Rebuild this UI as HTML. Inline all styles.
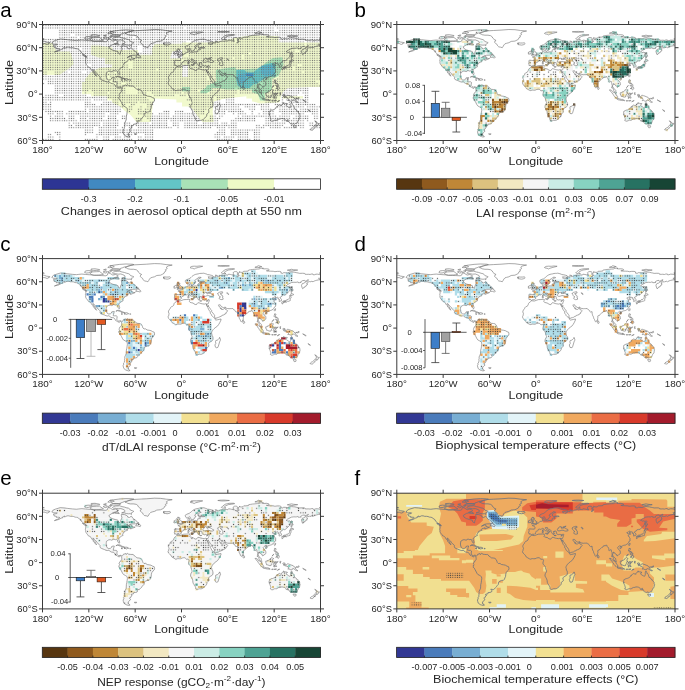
<!DOCTYPE html><html><head><meta charset="utf-8"><style>html,body{margin:0;padding:0;background:#fff;}svg{display:block;font-family:"Liberation Sans",sans-serif;will-change:transform;}</style></head><body><svg width="685" height="690" viewBox="0 0 685 690" font-family="Liberation Sans, sans-serif"><defs><path id="coast" d="M9.3,18.9 L10.8,16.8 L13.1,15.9 L17.8,14.5 L21.6,14.8 L24.7,15.2 L30.1,15.8 L34.0,16.1 L36.3,15.8 L39.4,15.5 L43.2,15.9 L48.6,16.3 L51.7,16.8 L55.6,16.9 L58.7,17.0 L63.3,17.2 L64.9,16.5 L65.6,14.1 L68.0,15.1 L70.3,16.5 L73.0,15.9 L75.7,17.2 L74.9,18.4 L72.6,19.6 L69.5,20.3 L66.4,22.3 L67.2,24.1 L69.5,25.4 L72.6,26.4 L75.4,27.0 L75.7,28.6 L77.6,29.8 L78.1,27.5 L79.5,24.7 L78.9,22.6 L78.8,21.3 L81.9,21.4 L83.4,22.0 L84.9,22.8 L85.3,24.0 L86.9,24.4 L88.8,23.0 L89.6,24.0 L91.5,26.3 L92.7,26.9 L95.0,28.8 L95.8,29.6 L93.1,30.7 L89.6,30.8 L87.6,31.3 L84.6,33.1 L88.0,31.7 L89.2,32.1 L89.0,33.3 L91.5,34.0 L92.7,34.0 L90.0,35.1 L88.0,35.9 L88.2,34.6 L86.9,35.1 L84.9,35.8 L84.3,36.7 L84.9,37.3 L83.8,37.6 L81.9,38.2 L81.9,39.1 L80.9,39.5 L80.5,40.6 L80.1,41.3 L80.6,42.3 L79.2,42.9 L78.0,43.8 L76.5,45.0 L76.3,46.2 L76.8,47.7 L77.2,49.1 L76.9,50.1 L76.3,50.0 L75.7,49.1 L75.1,47.9 L75.1,47.0 L74.1,46.3 L73.0,46.6 L71.4,46.1 L70.3,46.2 L69.9,47.0 L69.1,47.1 L68.0,46.7 L66.4,46.7 L65.3,47.3 L63.9,48.3 L63.7,49.8 L63.6,51.0 L63.9,53.0 L64.6,54.6 L65.6,55.3 L66.4,55.5 L68.0,55.2 L69.0,54.5 L69.2,53.4 L70.7,53.0 L71.8,53.0 L71.4,54.3 L71.0,55.7 L70.7,57.2 L71.8,57.3 L73.7,57.3 L74.7,58.0 L74.4,59.9 L74.4,61.1 L75.3,62.1 L76.3,62.8 L77.5,62.2 L78.8,62.4 L79.3,62.9 L79.9,62.7 L80.6,62.2 L80.9,61.2 L82.2,60.9 L83.2,60.4 L83.7,61.1 L83.5,61.6 L84.0,61.2 L84.9,60.2 L86.1,61.2 L87.9,61.4 L89.4,61.5 L90.5,61.4 L91.3,61.9 L92.0,63.0 L93.3,63.8 L94.5,64.8 L96.5,65.0 L98.1,65.3 L99.2,66.4 L100.0,68.1 L100.4,69.4 L101.5,70.5 L103.1,70.4 L104.6,71.5 L106.7,71.8 L108.5,72.2 L110.2,73.2 L111.7,73.7 L112.1,75.4 L111.8,76.8 L110.4,78.1 L109.3,79.6 L108.9,81.2 L108.7,83.4 L108.1,84.8 L107.4,86.5 L106.6,87.3 L104.6,87.5 L103.1,88.2 L101.7,89.3 L101.5,91.4 L100.5,92.4 L99.6,93.7 L98.6,94.7 L97.8,95.7 L96.6,96.6 L95.4,96.5 L93.9,96.2 L94.8,97.4 L95.2,98.0 L94.5,99.1 L93.1,99.5 L91.1,99.7 L91.0,100.9 L89.0,101.2 L88.7,102.1 L89.7,102.5 L88.7,103.1 L88.4,104.4 L86.9,105.3 L88.0,106.3 L88.1,106.8 L86.6,107.9 L86.1,108.7 L85.6,109.5 L86.2,110.0 L85.3,110.2 L86.0,110.4 L86.3,111.4 L87.6,112.1 L86.1,112.5 L84.6,112.1 L83.4,111.7 L82.2,110.8 L81.4,110.2 L80.9,108.7 L80.6,107.1 L81.4,105.6 L80.9,104.8 L82.2,103.6 L81.9,102.9 L82.2,101.9 L82.0,100.9 L82.4,99.8 L82.2,98.6 L82.9,97.1 L83.7,95.3 L83.8,93.2 L83.9,91.6 L84.4,89.7 L84.6,87.8 L84.9,85.8 L84.7,83.8 L83.9,83.2 L82.9,82.5 L80.9,81.4 L80.1,80.3 L79.0,78.1 L78.1,76.5 L77.5,75.2 L76.3,74.2 L76.5,73.5 L76.2,72.8 L77.1,72.2 L77.2,71.5 L76.5,70.8 L76.9,69.8 L77.2,68.8 L78.1,68.4 L78.3,67.7 L79.2,66.7 L79.3,65.3 L79.1,64.2 L78.6,63.3 L78.0,62.6 L77.3,63.3 L76.8,64.0 L75.9,63.5 L74.9,63.1 L74.4,62.6 L73.1,62.0 L72.7,61.1 L72.0,60.0 L71.4,59.4 L70.3,59.2 L68.5,58.9 L67.3,58.0 L66.4,57.2 L64.9,57.5 L63.5,57.2 L62.2,56.6 L60.6,56.0 L59.1,55.4 L57.9,54.7 L57.5,53.7 L57.7,52.8 L57.3,52.1 L56.4,51.1 L55.4,50.3 L54.6,49.7 L54.4,48.9 L53.6,48.0 L52.7,47.3 L52.0,46.5 L51.4,45.5 L50.3,45.0 L50.6,46.0 L51.4,47.3 L52.3,48.3 L53.0,49.7 L53.6,50.8 L54.1,51.8 L53.8,51.5 L53.0,50.7 L52.4,50.3 L52.4,49.5 L51.5,49.0 L50.7,48.3 L50.8,47.3 L49.7,46.5 L48.8,45.1 L48.5,44.3 L47.6,43.5 L46.7,43.0 L45.9,42.8 L45.1,41.5 L44.4,40.6 L43.9,40.1 L43.5,39.4 L43.1,38.4 L43.2,37.1 L42.9,36.3 L43.2,35.0 L43.3,33.9 L43.2,33.0 L42.7,32.2 L43.6,32.3 L44.4,32.9 L44.2,31.9 L43.9,31.7 L42.9,31.1 L42.1,30.6 L40.8,30.2 L40.3,29.4 L39.7,28.6 L38.5,27.8 L38.4,26.8 L37.2,25.9 L36.1,25.2 L35.2,24.4 L34.0,24.1 L32.6,24.0 L31.2,23.4 L29.7,23.2 L27.9,23.2 L26.3,22.7 L24.6,22.7 L23.2,23.4 L21.9,23.8 L22.0,22.8 L21.1,23.3 L20.1,23.8 L20.5,24.4 L18.9,24.9 L17.6,25.6 L16.4,26.3 L14.9,26.7 L13.4,27.1 L11.9,27.5 L13.5,26.7 L15.1,26.1 L16.5,25.3 L17.4,24.5 L16.4,24.1 L15.1,24.1 L13.9,24.3 L14.1,23.4 L12.5,23.0 L11.4,22.6 L11.7,21.7 L10.8,21.3 L12.0,20.7 L14.3,20.4 L14.8,19.7 L13.1,19.6 L11.4,19.7 L10.5,19.6 L10.2,19.2 L9.3,18.9 M82.6,9.0 L86.5,7.3 L91.1,6.3 L96.5,6.0 L104.2,5.6 L112.0,5.0 L118.1,5.2 L123.6,6.0 L129.7,6.5 L125.9,7.3 L123.9,8.5 L124.7,10.1 L122.8,11.2 L123.6,12.4 L122.0,13.3 L121.6,14.7 L120.1,15.6 L118.1,16.6 L114.3,16.9 L112.0,18.2 L109.7,18.8 L108.1,19.3 L107.0,20.5 L106.2,22.0 L105.4,23.2 L103.9,22.7 L101.9,22.4 L100.8,21.3 L100.0,19.7 L98.8,18.9 L97.7,17.9 L98.1,16.6 L99.2,15.9 L97.3,15.1 L96.9,14.3 L95.8,13.5 L95.4,12.4 L93.8,11.2 L91.1,10.7 L88.0,10.7 L85.3,10.2 L84.2,9.5 L82.6,9.0 M121.6,18.3 L123.6,18.5 L125.5,18.5 L127.4,18.3 L128.2,19.0 L127.8,19.7 L126.3,20.3 L124.7,20.6 L122.8,20.3 L121.5,20.2 L122.0,19.6 L120.5,19.4 L121.8,19.0 L120.5,18.8 L121.6,18.3 M89.0,21.3 L87.6,20.5 L86.1,20.7 L83.8,20.4 L81.9,19.7 L79.2,19.8 L81.5,18.9 L82.6,18.2 L82.2,17.0 L80.3,16.1 L78.4,15.4 L75.7,15.6 L73.0,15.1 L71.0,15.1 L69.9,14.3 L71.0,13.5 L73.0,12.9 L76.8,12.6 L79.5,13.4 L81.9,13.9 L84.2,14.7 L86.1,15.1 L87.3,15.9 L88.0,17.0 L90.4,17.8 L91.3,18.2 L90.0,19.3 L88.8,19.7 L89.0,21.3 M47.5,14.7 L50.2,13.3 L54.1,13.1 L57.1,13.0 L58.3,13.9 L59.8,15.0 L61.0,15.6 L58.7,16.2 L56.4,16.4 L54.1,16.5 L51.4,16.6 L49.4,16.1 L47.9,15.5 L47.5,14.7 M42.1,13.9 L42.9,12.4 L45.6,12.0 L48.6,12.2 L49.8,12.8 L47.9,13.4 L46.3,14.2 L44.0,14.5 L42.1,13.9 M78.0,10.6 L75.7,10.4 L69.9,10.4 L69.5,9.3 L68.0,8.1 L67.6,7.3 L71.0,6.6 L77.2,5.8 L83.4,5.4 L89.6,5.6 L91.5,6.0 L88.8,6.6 L86.5,7.3 L84.2,7.9 L81.5,8.5 L80.3,9.1 L78.0,9.8 L78.0,10.6 M68.0,11.2 L71.0,10.4 L74.1,10.4 L77.2,10.6 L77.6,11.6 L75.7,11.9 L71.0,12.0 L68.0,11.8 L68.0,11.2 M65.3,8.9 L67.6,7.0 L70.3,7.1 L71.8,8.1 L69.5,8.7 L67.2,9.1 L65.3,8.9 M48.6,10.4 L52.5,10.2 L57.1,11.0 L57.1,11.6 L54.1,11.9 L51.0,11.9 L48.6,11.4 L48.6,10.4 M60.6,13.3 L63.3,12.5 L64.9,12.9 L64.1,14.2 L62.6,14.5 L60.6,13.3 M65.6,13.5 L66.8,12.3 L69.1,12.5 L68.0,13.3 L66.8,13.9 L65.6,13.5 M72.6,20.0 L76.8,20.5 L76.5,19.7 L74.1,18.6 L71.8,19.0 L72.6,20.0 M61.0,11.2 L63.7,10.4 L63.3,11.6 L61.0,11.2 M93.2,32.8 L94.5,30.6 L96.1,29.7 L96.1,31.0 L97.5,31.4 L98.3,32.8 L97.7,33.5 L96.3,33.1 L95.5,32.8 L93.2,32.8 M73.4,52.7 L74.9,51.9 L76.5,51.7 L77.8,52.2 L79.4,53.1 L80.5,53.5 L81.7,54.0 L80.7,54.2 L79.1,54.2 L79.3,53.7 L78.5,53.4 L77.7,52.9 L76.5,52.6 L75.1,52.1 L73.4,52.7 M81.5,54.2 L82.9,54.2 L84.3,54.2 L85.5,54.7 L86.2,55.2 L84.9,55.5 L83.9,55.9 L83.1,55.5 L81.5,55.4 L82.8,55.2 L81.5,54.2 M78.5,55.4 L80.1,55.5 L79.7,55.8 L78.5,55.4 M87.1,55.3 L88.3,55.4 L88.3,55.7 L87.1,55.7 M39.9,30.3 L42.1,30.7 L43.7,32.2 L42.6,32.0 L41.3,31.4 L39.9,30.3 M91.7,109.4 L94.2,109.3 L93.8,110.0 L92.3,109.9 L91.7,109.4 M134.4,41.9 L135.9,42.4 L137.5,42.5 L139.4,41.8 L141.3,41.1 L144.0,41.0 L146.3,40.8 L147.5,41.0 L147.1,41.8 L147.6,42.4 L146.9,43.1 L147.7,43.9 L149.0,44.2 L150.8,44.6 L151.4,45.4 L153.3,46.1 L154.2,45.9 L154.5,45.2 L155.4,44.2 L156.8,44.4 L158.3,45.0 L159.8,45.3 L161.8,45.6 L162.9,45.2 L163.9,45.4 L164.2,46.5 L164.7,47.7 L165.3,49.0 L166.0,50.7 L166.5,51.7 L167.4,52.6 L167.7,53.4 L167.9,54.9 L168.7,55.7 L169.3,57.2 L169.9,57.8 L170.8,58.4 L171.8,59.4 L172.4,60.2 L172.4,60.7 L173.4,61.6 L174.9,61.3 L176.8,60.9 L178.5,60.5 L178.5,61.5 L178.0,62.6 L177.2,64.3 L176.1,66.1 L174.9,67.7 L173.4,68.7 L171.6,70.2 L170.7,71.1 L169.9,72.3 L169.3,73.3 L169.0,74.5 L169.4,75.8 L169.5,77.3 L170.2,77.7 L170.4,79.3 L170.4,81.0 L169.9,82.1 L168.0,83.3 L166.8,84.2 L165.9,84.9 L166.2,86.2 L166.4,87.8 L165.3,88.8 L164.2,89.6 L164.4,90.4 L164.0,91.7 L163.2,92.5 L162.2,93.7 L160.9,94.8 L159.4,95.7 L158.3,95.9 L156.8,95.8 L155.6,96.2 L154.4,96.5 L153.5,96.1 L153.1,95.5 L153.1,94.6 L152.6,93.3 L151.7,91.7 L150.8,90.5 L150.4,89.3 L150.2,87.3 L149.7,85.9 L149.1,84.8 L148.1,83.1 L148.1,82.0 L148.4,80.7 L149.5,78.9 L149.6,77.9 L149.1,76.6 L148.5,74.3 L148.3,73.5 L147.6,72.6 L146.3,71.2 L146.0,70.1 L146.3,68.8 L146.6,67.3 L146.3,66.7 L145.6,66.0 L144.1,66.3 L143.2,65.5 L142.3,64.7 L141.1,64.7 L139.8,65.0 L138.2,65.7 L136.8,65.7 L135.4,65.6 L133.2,66.2 L132.4,65.7 L130.7,64.7 L129.3,63.9 L128.8,62.9 L128.1,61.9 L127.4,61.2 L126.9,60.7 L126.1,60.0 L125.7,58.7 L125.6,58.2 L126.1,57.4 L126.3,56.3 L126.6,55.3 L126.3,54.5 L125.9,53.4 L126.1,52.4 L126.7,51.3 L127.6,50.2 L127.9,49.3 L128.9,48.2 L130.0,47.8 L131.1,46.9 L131.4,45.9 L131.5,45.2 L132.3,44.1 L133.4,43.5 L134.1,42.7 L134.4,41.9 M177.1,78.9 L177.8,80.7 L178.0,81.7 L177.5,82.4 L177.1,83.5 L176.5,85.5 L175.8,87.9 L175.4,88.9 L174.1,89.3 L173.0,88.8 L172.7,87.7 L172.4,86.5 L173.3,85.1 L173.0,83.1 L173.3,82.1 L174.8,81.7 L175.8,80.9 L176.7,80.0 L177.1,78.9 M134.7,41.8 L134.1,41.1 L133.3,40.8 L132.1,41.0 L132.2,40.0 L131.7,39.6 L132.0,38.7 L132.2,37.2 L131.8,36.3 L132.8,35.8 L134.4,35.9 L135.9,36.0 L137.6,36.0 L138.0,35.2 L138.1,34.0 L137.3,33.2 L136.7,32.9 L135.4,32.5 L136.7,31.9 L137.8,32.0 L138.0,31.2 L139.2,31.3 L140.1,30.9 L140.2,30.2 L140.9,30.1 L141.7,29.8 L142.1,29.5 L142.6,28.7 L143.3,28.3 L144.4,28.2 L145.4,28.1 L145.7,27.8 L145.6,26.7 L145.3,25.8 L145.6,25.4 L146.7,25.1 L147.1,25.4 L147.0,25.9 L147.5,26.1 L147.1,26.7 L146.7,27.1 L147.3,27.6 L148.3,27.7 L149.4,27.6 L150.0,27.9 L151.0,27.7 L152.1,27.4 L153.4,27.3 L154.2,27.5 L155.4,26.9 L155.3,26.2 L155.3,25.7 L155.7,25.2 L156.5,24.9 L157.1,25.4 L157.7,25.4 L157.8,24.5 L157.1,24.2 L157.2,23.7 L158.7,23.5 L160.6,23.6 L162.3,23.3 L161.2,22.8 L160.2,22.8 L158.7,23.0 L156.8,23.3 L155.5,22.7 L155.6,21.8 L155.4,20.9 L156.3,20.3 L157.9,19.4 L158.6,19.3 L158.6,18.9 L157.6,18.7 L156.1,18.7 L155.4,19.6 L154.3,20.3 L153.1,21.0 L152.4,21.9 L152.3,22.7 L153.4,23.1 L153.4,23.7 L152.7,24.1 L151.9,24.7 L151.7,25.5 L151.3,26.2 L150.4,26.1 L149.9,26.8 L149.0,26.8 L148.7,26.1 L148.2,25.1 L147.9,24.4 L147.6,23.7 L147.0,23.6 L146.2,24.1 L145.2,24.7 L144.1,24.7 L143.3,24.1 L142.9,23.1 L142.8,22.2 L143.1,21.7 L144.0,21.3 L145.4,20.6 L146.6,20.3 L147.6,19.6 L148.5,18.9 L149.3,18.1 L150.2,17.3 L151.0,16.8 L151.8,16.3 L153.1,15.8 L154.5,15.5 L155.7,15.3 L157.1,14.9 L158.5,14.8 L159.7,14.8 L160.8,14.6 L162.2,14.9 L163.1,15.2 L164.3,15.6 L164.9,16.0 L166.8,16.2 L168.7,16.7 L170.2,17.1 L170.7,17.6 L170.7,18.2 L169.7,18.6 L168.3,18.5 L166.6,18.3 L165.5,18.3 L166.0,18.9 L165.9,19.7 L167.2,19.6 L167.9,20.3 L169.5,19.7 L170.2,19.5 L169.9,18.9 L171.4,18.3 L173.1,18.6 L173.3,17.2 L172.7,16.5 L174.7,16.9 L174.9,17.3 L174.2,17.6 L175.1,17.9 L176.5,17.6 L177.6,17.0 L180.5,16.4 L181.2,16.8 L182.6,16.5 L184.2,16.3 L185.3,16.6 L186.0,15.6 L188.0,15.9 L189.2,16.2 L191.0,16.6 L191.9,16.6 L190.6,15.9 L190.9,14.8 L190.5,14.2 L191.9,13.1 L193.0,13.0 L194.4,13.2 L195.1,13.8 L195.2,14.5 L194.8,15.2 L195.0,16.2 L195.8,16.7 L195.5,17.4 L194.2,18.1 L195.1,18.3 L196.1,17.7 L196.7,16.6 L195.9,16.1 L195.8,14.5 L196.9,13.9 L197.1,13.3 L196.6,13.2 L197.7,13.6 L199.2,13.8 L200.4,13.6 L201.2,12.7 L203.1,12.7 L205.8,12.5 L205.9,11.8 L206.3,11.5 L208.1,11.2 L210.0,10.9 L212.4,10.7 L214.7,10.5 L216.6,10.4 L217.8,9.8 L219.5,9.5 L220.9,9.7 L219.9,10.0 L221.6,10.3 L223.9,10.2 L225.9,10.5 L226.6,10.9 L226.3,11.8 L225.1,12.1 L223.9,12.2 L225.7,12.5 L228.3,12.6 L230.7,12.7 L232.4,13.1 L234.8,12.8 L237.1,12.8 L238.3,13.1 L238.6,13.8 L238.2,14.4 L240.2,14.8 L241.2,14.1 L243.0,14.2 L245.2,14.4 L247.1,13.5 L249.0,13.4 L251.1,13.6 L252.4,13.7 L254.4,14.2 L255.6,14.4 L257.1,14.8 L259.9,14.7 L261.8,14.8 L262.6,15.2 L262.6,15.7 L264.3,15.8 L265.7,15.7 L267.6,15.9 L268.7,15.5 L270.4,15.4 L270.7,16.2 L271.8,16.2 L273.5,15.6 L275.1,15.6 L276.6,15.9 L278.0,16.3 M278.0,19.3 L277.0,19.7 L276.0,19.6 L276.7,20.3 L277.4,21.3 L276.0,21.3 L273.8,21.8 L273.1,22.0 L272.0,22.4 L270.8,23.0 L270.5,23.3 L269.4,22.7 L267.4,23.4 L267.0,23.0 L266.3,23.4 L265.3,23.3 L265.0,23.8 L264.1,24.6 L264.2,24.9 L265.0,25.1 L264.9,26.1 L264.2,26.2 L263.9,26.8 L264.2,27.1 L262.9,27.6 L262.6,28.5 L261.4,28.7 L261.2,29.5 L260.1,30.2 L259.8,29.6 L259.4,28.5 L259.0,26.8 L259.4,25.7 L260.1,25.2 L260.1,24.9 L261.3,24.7 L262.7,23.7 L264.0,23.0 L265.4,22.3 L266.0,21.2 L265.1,21.3 L264.1,22.0 L262.6,22.8 L262.0,21.8 L260.0,22.1 L258.1,23.4 L258.7,23.9 L257.0,24.1 L255.8,24.1 L255.8,23.6 L254.7,23.4 L253.7,23.8 L251.4,23.7 L248.8,24.0 L246.3,25.4 L244.9,26.1 L243.6,27.3 L244.6,27.4 L244.9,27.8 L245.7,28.0 L247.0,27.7 L248.1,28.5 L248.2,29.2 L247.6,30.0 L247.5,30.9 L247.2,32.2 L246.0,33.3 L245.7,33.8 L244.7,34.7 L243.6,35.6 L243.2,36.0 L242.1,36.5 L241.6,36.5 L241.2,36.1 L240.0,37.0 L240.0,37.0 L239.2,37.4 L239.2,38.0 L238.8,38.1 L238.3,38.5 L237.5,38.8 L237.4,39.3 L238.1,39.7 L238.8,40.7 L239.0,41.1 L239.0,42.1 L238.6,42.5 L237.8,42.5 L236.7,43.0 L236.6,42.6 L236.8,41.8 L236.4,41.2 L237.0,41.1 L236.5,40.4 L236.1,40.3 L235.5,40.4 L235.3,40.1 L235.7,39.7 L235.6,39.0 L235.0,38.7 L233.9,39.0 L233.3,39.3 L232.4,39.5 L232.9,39.1 L232.7,38.8 L233.4,38.4 L232.9,38.0 L232.3,38.2 L231.4,38.7 L230.9,39.2 L230.1,39.3 L229.7,39.7 L230.2,40.1 L230.8,40.3 L230.8,40.7 L231.4,40.8 L232.3,40.3 L233.0,40.6 L233.5,40.6 L233.6,41.1 L232.5,41.2 L232.1,41.7 L231.4,42.1 L231.0,42.6 L231.8,43.0 L232.1,43.8 L232.6,44.5 L233.1,45.1 L233.1,45.7 L232.7,45.9 L232.8,46.3 L233.3,46.6 L233.0,47.8 L232.5,47.9 L231.4,49.7 L230.9,50.3 L230.7,50.7 L229.3,51.5 L228.5,52.0 L227.7,52.0 L227.2,52.4 L226.9,52.2 L226.4,52.5 L225.3,52.9 L224.6,53.1 L224.3,53.9 L223.9,53.9 L223.6,53.4 L223.9,53.1 L222.8,52.8 L222.4,52.9 L221.4,53.6 L220.8,54.3 L220.6,54.8 L221.2,55.7 L221.9,56.7 L222.6,57.1 L223.1,57.8 L223.4,59.2 L223.3,60.6 L222.7,61.1 L221.8,61.6 L221.2,62.3 L220.2,62.9 L219.9,62.5 L220.2,61.9 L219.5,61.5 L218.9,61.4 L218.2,60.2 L217.5,59.9 L216.8,59.9 L217.0,59.2 L216.3,59.2 L216.2,60.1 L215.6,61.2 L215.6,62.5 L216.1,62.5 L216.5,63.2 L216.6,63.9 L217.0,64.3 L217.5,64.4 L217.8,64.8 L218.1,65.0 L218.8,65.8 L218.8,66.7 L218.9,67.4 L219.2,67.7 L219.5,68.4 L218.9,68.7 L218.2,68.1 L217.3,67.4 L217.2,67.0 L216.8,66.6 L216.7,65.9 L216.4,65.5 L216.5,65.0 L216.3,64.6 L216.0,64.3 L215.8,64.0 L215.1,63.1 L214.9,63.6 L214.8,63.1 L214.9,62.6 L215.1,61.9 L215.3,60.8 L215.0,60.3 L215.1,59.5 L214.8,59.1 L214.5,58.2 L214.4,57.1 L214.1,56.5 L213.5,56.9 L212.7,57.5 L212.2,57.4 L211.7,57.2 L212.0,56.2 L211.8,55.5 L211.2,54.6 L211.4,54.4 L210.9,54.2 L210.4,53.6 L210.1,53.2 L210.0,52.8 L209.9,52.4 L209.6,52.0 L208.9,52.0 L209.0,52.3 L208.7,52.7 L208.3,52.6 L208.3,52.7 L208.0,52.6 L207.7,52.5 L207.7,52.8 L207.1,52.8 L206.2,53.0 L206.2,53.6 L205.8,54.0 L204.7,54.5 L203.8,55.4 L203.2,55.9 L202.5,56.5 L202.5,56.8 L202.1,57.0 L201.4,57.2 L201.0,57.3 L200.8,57.9 L200.9,58.9 L201.0,59.5 L200.7,60.2 L200.7,61.6 L200.2,61.6 L199.9,62.3 L200.2,62.5 L199.5,62.7 L199.2,63.2 L198.8,63.4 L198.2,62.7 L197.8,61.6 L197.5,60.9 L197.2,60.5 L196.8,59.8 L196.6,58.8 L196.5,58.3 L195.8,57.2 L195.4,55.8 L195.2,54.8 L195.2,53.8 L195.1,53.1 L194.0,53.5 L193.4,53.4 L192.4,52.5 L192.7,52.2 L192.5,52.0 L191.7,51.3 L191.0,51.1 L190.8,50.5 L190.3,50.0 L188.8,50.1 L187.6,50.1 L186.5,50.2 L185.0,50.0 L184.2,49.8 L183.3,49.7 L183.0,48.7 L182.6,48.6 L182.0,48.8 L181.2,49.1 L180.3,48.9 L179.5,48.3 L178.8,48.0 L178.3,47.3 L177.7,46.3 L177.3,46.4 L176.8,46.2 L176.5,46.5 L176.0,46.4 L176.2,46.8 L176.1,47.3 L176.7,48.2 L177.1,48.3 L177.2,48.6 L177.8,49.0 L177.7,49.6 L177.8,49.8 L178.0,50.0 L178.2,50.3 L178.2,50.4 L178.5,49.4 L178.8,49.6 L178.8,50.1 L178.7,50.6 L178.8,50.9 L179.0,51.0 L179.6,50.9 L180.7,51.0 L181.2,50.4 L181.8,50.0 L182.3,49.4 L182.6,49.2 L182.6,49.3 L182.6,49.6 L182.5,49.7 L182.6,50.3 L182.9,50.9 L183.3,51.1 L183.9,51.3 L184.3,51.3 L184.9,52.0 L185.2,52.4 L184.9,52.8 L184.5,53.3 L184.2,53.8 L183.8,53.7 L183.6,54.0 L183.6,54.4 L183.6,54.8 L183.6,55.0 L182.7,55.2 L182.6,55.6 L182.5,55.8 L182.0,55.8 L181.7,56.0 L181.7,56.3 L181.3,56.5 L180.9,56.5 L180.4,56.7 L180.0,56.7 L179.5,56.9 L179.3,57.3 L179.3,57.5 L178.5,57.8 L177.3,58.2 L176.6,58.8 L176.2,58.9 L176.0,58.8 L175.6,59.1 L175.1,59.2 L174.4,59.3 L174.2,59.3 L174.1,59.5 L173.8,59.6 L173.8,59.8 L173.4,59.8 L173.1,59.9 L172.6,59.9 L172.4,59.4 L172.4,58.9 L172.3,58.7 L172.1,58.2 L171.9,57.8 L172.1,57.8 L172.0,57.5 L172.1,57.3 L172.1,57.0 L171.9,56.6 L171.7,56.4 L171.7,56.1 L171.3,55.8 L170.8,55.1 L170.6,54.5 L170.0,54.0 L169.7,53.9 L169.2,53.1 L169.1,52.6 L169.2,52.1 L168.7,51.3 L168.3,51.0 L168.0,50.8 L167.7,50.3 L167.7,50.2 L167.5,49.8 L167.3,49.6 L167.0,49.0 L166.5,48.4 L166.1,47.9 L165.7,47.9 L165.9,47.5 L166.0,46.9 L166.0,46.8 L165.7,47.1 L165.6,47.7 L165.4,48.1 L165.2,48.3 L164.6,47.6 L164.0,46.5 L163.9,45.4 L164.3,45.6 L165.5,45.5 L165.7,45.2 L166.0,44.2 L166.4,43.3 L166.7,42.2 L166.9,41.8 L166.6,41.1 L165.8,41.1 L165.3,41.6 L164.1,41.7 L163.5,41.3 L162.6,41.2 L162.5,41.5 L161.9,41.7 L161.2,41.2 L160.3,41.2 L159.8,40.4 L159.3,40.1 L159.7,39.4 L159.2,39.1 L159.2,38.6 L159.4,38.5 L159.2,38.2 L158.6,38.0 L158.2,38.0 L157.3,38.1 L157.8,38.6 L157.5,38.7 L157.0,38.7 L156.6,38.3 L156.5,38.4 L156.6,38.9 L157.1,39.3 L156.7,39.5 L157.1,39.8 L157.5,40.1 L157.5,40.4 L156.8,40.3 L157.1,40.7 L156.6,40.8 L156.9,41.5 L156.4,41.5 L155.8,41.1 L155.4,40.5 L155.3,40.0 L155.0,39.6 L154.6,39.2 L154.6,39.0 L154.4,38.9 L154.4,38.7 L154.0,38.4 L153.9,38.1 L154.0,37.6 L154.1,37.4 L153.7,37.0 L153.3,36.7 L152.5,36.3 L152.1,36.2 L151.4,36.0 L150.7,35.4 L150.9,35.3 L150.5,35.0 L150.5,34.7 L150.0,34.6 L149.8,35.0 L149.6,34.7 L149.6,34.4 L149.1,34.3 L148.5,34.5 L148.6,34.9 L148.5,35.1 L148.7,35.5 L149.4,35.9 L149.8,36.5 L150.7,37.1 L151.3,37.2 L151.5,37.4 L151.3,37.5 L152.5,38.0 L153.2,38.4 L153.3,38.5 L153.1,38.8 L152.7,38.4 L152.1,38.4 L151.7,38.8 L152.3,39.1 L152.2,39.5 L151.8,39.6 L151.4,40.2 L151.1,40.3 L151.1,40.1 L151.3,39.6 L151.4,39.4 L151.1,38.7 L150.6,38.5 L149.9,38.0 L149.5,37.7 L149.0,37.7 L148.3,37.4 L147.6,36.8 L147.1,36.4 L146.9,35.7 L146.5,35.6 L145.9,35.3 L145.5,35.4 L145.1,35.7 L144.7,35.8 L144.0,36.3 L142.6,36.0 L141.4,36.3 L141.3,36.7 L141.3,37.2 L140.6,37.7 L139.6,37.9 L139.5,38.1 L139.1,38.6 L138.8,39.2 L139.1,39.7 L138.6,40.0 L138.5,40.5 L137.9,40.7 L137.4,41.2 L135.6,41.2 L135.1,41.5 L134.8,41.8 L134.7,41.8 M161.3,37.7 L162.1,37.7 L163.0,37.8 L163.9,37.4 L164.9,37.1 L166.2,37.1 L167.5,37.7 L168.6,38.0 L170.2,37.9 L171.1,37.5 L171.2,36.7 L170.6,36.3 L170.1,36.3 L169.9,36.0 L168.9,35.3 L168.0,35.0 L167.3,34.6 L167.2,34.4 L166.4,34.7 L166.0,34.6 L165.2,35.3 L164.7,35.1 L164.9,34.8 L164.1,34.6 L164.2,34.4 L164.9,34.1 L164.7,33.9 L163.5,33.8 L163.5,33.5 L162.7,33.6 L162.5,34.0 L161.9,34.6 L161.9,34.8 L161.5,35.0 L161.2,34.9 L161.1,35.3 L160.7,36.1 L160.4,36.7 L160.6,37.1 L160.7,37.4 L161.3,37.7 M166.0,34.3 L166.4,34.6 L167.3,34.5 L168.1,33.6 L169.2,33.0 L168.5,33.2 L167.9,33.3 L166.6,33.6 L166.0,33.8 L166.0,34.3 M176.9,33.7 L177.5,33.6 L178.5,33.3 L180.0,33.3 L180.1,33.9 L180.0,34.6 L179.2,34.6 L178.6,34.6 L178.6,35.2 L177.8,35.1 L177.8,35.3 L178.3,35.6 L178.6,36.3 L179.5,36.5 L179.7,36.8 L179.9,37.0 L179.5,37.3 L179.9,37.8 L180.6,38.2 L180.2,38.7 L180.2,38.7 L180.0,39.2 L180.5,39.4 L180.6,40.8 L180.0,41.0 L178.5,41.1 L177.6,40.7 L177.0,40.5 L176.8,40.0 L176.8,39.6 L177.0,39.4 L177.1,39.1 L177.2,38.5 L177.7,38.3 L177.9,38.4 L177.3,38.2 L176.9,37.7 L176.5,37.3 L175.7,36.3 L175.8,35.8 L175.4,35.3 L175.5,34.8 L175.1,35.1 L175.8,34.3 L176.5,33.9 L176.9,33.7 M184.2,34.3 L184.9,34.3 L186.1,35.3 L186.1,36.0 L185.3,35.6 L184.2,34.3 M134.6,30.9 L135.8,30.6 L136.4,30.5 L137.5,30.4 L138.4,30.3 L140.1,30.0 L139.5,29.8 L140.2,29.3 L140.3,28.8 L139.2,28.6 L139.2,28.1 L138.5,27.5 L138.1,27.4 L137.8,26.8 L137.5,26.4 L136.7,26.3 L137.0,26.1 L137.4,25.5 L137.6,25.1 L137.1,25.0 L136.0,25.1 L136.6,24.3 L135.1,24.3 L134.9,24.8 L134.6,25.3 L134.7,26.1 L134.2,25.7 L134.7,26.2 L134.5,26.8 L135.3,26.4 L135.1,26.9 L135.4,27.3 L136.4,27.1 L136.4,27.6 L136.8,27.9 L136.6,28.4 L135.4,28.3 L135.8,28.8 L135.3,29.2 L134.9,29.5 L135.9,29.7 L136.4,29.9 L136.7,30.0 L135.7,30.0 L134.9,30.2 L134.6,30.9 M134.2,27.9 L134.4,28.5 L134.1,29.2 L133.1,29.4 L131.9,29.7 L131.3,29.5 L131.4,28.9 L132.0,28.5 L131.3,28.2 L131.4,27.8 L132.4,27.6 L132.7,27.0 L133.4,26.8 L134.3,27.0 L134.7,27.5 L134.2,27.9 M239.2,44.0 L239.5,44.3 L239.5,45.5 L240.3,45.3 L240.8,44.4 L240.9,43.9 L240.5,43.4 L241.2,43.2 L242.4,43.0 L243.4,42.8 L243.3,43.5 L243.9,43.7 L244.6,43.1 L245.0,42.8 L245.7,42.8 L246.3,42.8 L246.6,42.4 L247.3,42.5 L247.7,42.0 L247.6,41.5 L247.8,40.8 L247.9,40.0 L248.3,39.7 L248.7,39.0 L248.5,38.2 L248.2,37.6 L247.6,37.7 L247.0,38.2 L247.2,38.9 L247.0,39.6 L246.6,40.1 L246.0,40.7 L245.3,41.0 L244.8,41.1 L244.6,40.8 L244.2,41.5 L243.9,42.0 L243.3,42.0 L241.9,42.1 L241.4,42.2 L240.2,43.0 L240.1,43.3 L239.4,43.5 L239.2,44.0 M241.2,43.9 L242.0,43.7 L242.8,43.8 L243.0,43.3 L241.9,43.2 L241.4,43.4 L241.2,43.9 M247.1,37.4 L247.5,36.7 L248.2,36.0 L248.6,34.9 L249.4,35.2 L250.7,35.6 L251.3,36.1 L250.2,36.4 L249.6,37.1 L248.3,36.6 L247.8,37.3 L247.1,37.4 M248.7,34.0 L249.4,33.4 L249.8,31.5 L250.7,31.7 L249.6,29.5 L249.9,28.3 L249.1,27.5 L248.8,28.1 L248.4,29.5 L248.6,30.9 L248.7,32.5 L248.6,33.4 L248.7,34.0 M231.7,51.8 L232.2,52.6 L232.8,52.0 L233.2,50.3 L232.6,50.2 L231.8,51.2 L231.7,51.8 M222.9,54.6 L223.6,54.0 L224.6,54.1 L224.7,54.4 L224.1,55.3 L223.4,55.5 L222.9,55.2 L222.9,54.6 M200.6,63.3 L200.9,62.0 L201.4,62.4 L202.2,63.8 L202.0,64.6 L201.0,65.0 L200.5,64.2 L200.6,63.3 M232.1,55.3 L233.4,55.5 L233.4,56.5 L232.7,57.4 L233.0,58.5 L234.8,58.9 L234.8,59.9 L234.2,59.5 L233.8,58.9 L232.8,59.1 L232.1,58.5 L231.7,58.1 L231.6,56.9 L231.9,56.7 L232.1,55.3 M233.2,64.2 L234.4,63.6 L235.0,63.3 L235.8,62.0 L236.6,62.8 L236.8,64.0 L236.5,64.7 L235.8,65.3 L234.9,64.8 L234.7,63.6 L233.8,63.8 L233.2,64.2 M233.6,60.5 L234.1,61.1 L235.0,60.7 L235.8,60.0 L235.9,61.1 L235.4,61.9 L234.4,62.3 L233.5,61.6 L233.1,60.7 L233.6,60.5 M229.5,63.1 L230.8,61.6 L231.3,60.9 L230.9,61.6 L229.9,62.9 L229.5,63.1 M223.2,68.4 L223.4,69.5 L223.6,70.6 L224.1,70.9 L224.1,71.8 L225.1,71.9 L226.1,72.3 L227.4,72.7 L228.6,72.5 L228.8,71.5 L229.0,70.8 L229.7,70.2 L229.7,69.4 L230.4,68.9 L230.0,68.2 L230.9,68.8 L230.1,67.8 L230.0,66.4 L230.6,66.1 L231.0,65.4 L230.4,65.2 L229.9,64.7 L229.4,64.3 L228.7,64.9 L228.2,65.4 L228.0,66.0 L227.5,66.5 L227.0,66.7 L226.3,67.2 L224.9,67.5 L224.9,68.1 L224.3,68.3 L223.7,68.1 L223.2,68.4 M212.6,65.3 L214.3,65.6 L215.0,66.3 L215.5,66.8 L216.7,68.0 L217.5,68.0 L218.2,68.5 L218.6,69.1 L219.2,69.5 L218.8,70.1 L219.6,70.5 L220.0,71.4 L220.7,72.1 L220.7,74.2 L219.9,74.2 L219.2,73.5 L218.2,72.8 L217.9,72.4 L217.3,71.8 L216.9,71.2 L216.3,70.1 L215.7,69.4 L215.1,68.2 L214.4,67.7 L213.9,67.0 L213.4,66.6 L212.7,65.8 L212.6,65.3 M220.3,74.9 L220.9,74.2 L221.9,74.2 L222.6,74.4 L222.8,74.5 L224.3,74.9 L225.3,74.9 L226.0,74.9 L226.2,75.5 L227.4,75.6 L227.5,76.4 L226.6,76.0 L226.0,76.1 L225.1,76.0 L224.4,75.9 L222.9,75.5 L221.2,75.3 L220.4,74.9 L220.3,74.9 M231.2,73.8 L231.5,72.7 L231.1,72.3 L230.7,71.8 L231.0,71.2 L231.4,70.0 L231.7,69.1 L232.4,68.6 L233.9,68.9 L234.8,68.9 L235.6,68.4 L235.5,68.9 L234.5,69.4 L233.8,69.3 L232.4,69.3 L231.8,69.4 L231.7,70.0 L232.4,70.7 L232.8,70.3 L234.2,70.1 L233.8,70.3 L232.8,71.1 L233.6,72.1 L233.4,72.3 L234.1,73.2 L233.7,73.9 L233.4,73.1 L233.0,73.4 L232.4,72.8 L232.4,72.4 L231.9,71.8 L232.0,73.9 L231.5,74.0 L231.2,73.8 M234.8,77.5 L235.5,76.6 L237.1,76.0 L236.8,76.5 L235.6,76.9 L234.8,77.5 M231.6,76.2 L232.4,76.1 L233.9,75.9 L233.8,76.3 L232.7,76.5 L231.6,76.4 L231.6,76.2 M229.3,76.1 L230.4,76.1 L230.9,76.3 L230.4,76.5 L229.3,76.6 L229.1,76.3 L229.3,76.1 M237.8,67.9 L238.3,68.4 L237.8,69.2 L238.5,69.8 L237.6,70.1 L237.5,68.9 L237.8,67.9 M240.2,70.5 L241.2,69.9 L242.4,70.1 L242.7,71.8 L243.6,72.2 L244.8,70.8 L245.8,70.9 L246.5,71.2 L247.9,71.6 L249.2,72.2 L250.7,72.6 L251.6,73.9 L253.0,74.3 L253.2,74.7 L252.4,75.0 L252.7,75.3 L253.4,75.8 L253.8,76.6 L254.6,77.3 L255.5,77.6 L254.8,77.8 L254.0,77.6 L253.2,77.4 L252.6,76.9 L251.7,75.9 L250.7,75.5 L250.1,75.7 L249.7,75.9 L249.7,76.6 L249.1,76.8 L247.9,76.6 L246.4,75.9 L245.6,76.1 L245.3,76.1 L245.6,75.5 L246.1,75.2 L245.9,74.4 L245.5,73.8 L244.0,73.1 L243.4,73.1 L242.2,72.3 L242.0,72.7 L241.7,72.8 L241.6,72.5 L241.6,72.2 L240.9,71.8 L241.8,71.5 L242.3,71.5 L242.2,71.3 L241.1,71.3 L240.8,70.8 L240.2,70.5 M227.1,86.5 L227.5,86.5 L228.2,86.2 L229.1,85.5 L229.7,85.6 L230.7,85.3 L231.6,84.9 L232.7,84.3 L233.4,83.7 L233.4,83.0 L234.0,82.3 L234.6,82.8 L234.4,82.4 L235.0,82.0 L235.1,81.7 L235.7,81.0 L236.4,80.7 L237.0,80.3 L237.8,81.1 L238.2,81.1 L239.1,81.2 L238.9,80.7 L239.6,80.0 L239.9,79.3 L240.3,79.0 L241.4,79.0 L241.4,78.6 L240.8,78.3 L241.2,78.2 L242.2,78.7 L242.8,78.9 L243.5,79.0 L243.9,78.8 L244.4,79.5 L244.5,79.0 L244.8,79.2 L244.3,79.9 L244.0,79.9 L243.6,81.0 L244.3,81.7 L244.9,81.9 L245.8,82.6 L246.4,82.8 L246.6,83.1 L247.3,83.3 L247.8,83.1 L248.1,82.3 L248.4,81.2 L248.3,80.2 L248.4,79.2 L249.0,77.9 L249.3,78.3 L249.5,78.8 L249.6,79.1 L249.8,79.5 L249.9,80.0 L249.9,80.4 L250.7,80.6 L251.3,81.2 L251.2,81.5 L251.4,82.2 L251.9,83.4 L251.8,84.1 L253.9,85.4 L254.6,86.8 L254.9,86.7 L255.2,87.1 L255.4,86.9 L255.5,87.8 L256.5,88.5 L257.1,89.2 L257.2,89.8 L257.3,90.2 L257.2,90.7 L257.6,91.3 L257.5,92.0 L257.2,93.1 L257.2,93.5 L257.1,94.0 L256.8,94.8 L256.1,95.1 L255.8,95.7 L255.6,96.1 L255.4,96.8 L255.1,97.2 L254.9,97.7 L254.8,98.3 L254.8,98.5 L254.4,98.8 L253.5,98.8 L252.8,99.1 L252.4,99.5 L252.0,99.8 L251.4,99.5 L250.9,99.3 L251.0,98.9 L250.6,99.1 L249.9,99.6 L249.2,99.4 L248.8,99.3 L248.3,99.2 L247.6,99.0 L247.1,98.5 L247.0,97.9 L246.8,97.5 L246.4,97.2 L245.6,97.1 L245.9,96.7 L245.7,96.2 L245.3,96.7 L244.6,96.9 L245.1,96.4 L245.2,96.0 L245.5,95.6 L245.4,95.0 L244.8,95.7 L244.3,96.0 L244.0,96.6 L243.4,96.3 L243.4,95.8 L242.9,95.3 L242.6,95.0 L242.7,94.8 L241.7,94.3 L241.2,94.3 L240.4,94.0 L239.0,94.0 L238.0,94.3 L237.1,94.6 L236.4,94.5 L235.6,94.9 L234.9,95.1 L234.8,95.5 L234.5,95.8 L233.8,95.8 L233.4,95.9 L232.7,95.7 L232.1,95.8 L231.6,95.9 L231.1,96.3 L230.9,96.3 L230.5,96.4 L230.1,96.7 L229.6,96.7 L229.0,96.7 L228.3,96.2 L227.8,96.0 L227.8,95.6 L228.2,95.5 L228.3,95.4 L228.3,95.0 L228.4,94.5 L228.3,94.0 L228.0,93.3 L227.8,92.8 L227.8,92.4 L227.5,91.9 L227.5,91.6 L227.2,91.3 L227.0,90.7 L226.6,90.1 L226.5,89.8 L226.9,90.1 L226.6,89.4 L227.0,89.6 L227.2,89.9 L227.2,89.6 L226.8,88.9 L226.7,88.7 L226.6,88.5 L226.6,88.0 L226.8,87.9 L226.9,87.5 L226.8,87.0 L227.1,86.5 M250.7,101.1 L252.1,101.4 L253.5,101.2 L253.6,102.2 L253.3,103.0 L252.5,103.2 L251.7,103.2 L251.3,102.6 L251.1,102.2 L250.7,101.5 L250.7,101.1 M272.3,96.3 L272.9,96.7 L273.6,96.9 L273.8,97.6 L274.4,97.8 L274.8,98.7 L276.0,99.0 L276.8,98.8 L276.7,99.5 L276.4,99.9 L275.8,99.8 L275.6,100.1 L275.7,100.5 L274.9,101.5 L274.3,101.8 L274.2,101.6 L273.9,101.5 L274.3,100.9 L274.1,100.5 L273.2,100.1 L273.3,99.8 L273.8,99.6 L273.9,99.0 L273.9,98.5 L273.6,98.0 L273.6,97.8 L273.2,97.5 L272.7,96.8 L272.3,96.3 M272.4,100.9 L273.2,101.3 L273.5,101.5 L273.5,101.9 L273.3,102.2 L272.7,102.9 L272.4,103.2 L272.7,103.5 L272.1,103.5 L271.4,103.8 L271.2,104.3 L270.7,105.1 L270.1,105.5 L269.7,105.6 L269.0,105.6 L268.6,105.4 L267.7,105.3 L267.6,105.1 L268.0,104.5 L269.0,103.7 L269.4,103.5 L270.0,103.3 L270.7,102.9 L271.1,102.5 L271.5,101.9 L271.7,101.7 L271.9,101.3 L272.4,100.9 M147.5,8.9 L149.2,7.8 L151.7,7.6 L154.4,7.7 L156.8,7.4 L160.2,7.7 L158.3,8.2 L156.0,8.8 L152.9,9.7 L151.7,10.4 L150.2,9.7 L148.3,9.4 L147.5,8.9 M178.8,14.3 L180.3,12.8 L181.5,12.0 L182.6,11.1 L184.6,10.6 L186.9,10.2 L190.7,10.1 L192.1,10.4 L189.2,11.0 L186.1,11.4 L184.6,12.0 L182.6,13.0 L181.8,13.7 L182.6,14.6 L183.4,14.9 L181.5,15.0 L179.9,14.8 L178.8,14.3 M212.4,8.7 L214.3,8.1 L215.8,7.1 L219.3,8.1 L217.0,8.4 L217.4,9.1 L215.1,8.8 L212.4,8.7 M244.8,11.6 L247.1,11.1 L249.0,10.7 L251.0,11.1 L253.7,11.4 L255.2,11.5 L252.5,11.8 L249.4,12.4 L246.3,11.9 L244.8,11.6 M276.8,14.5 L278.0,14.3 M278.0,14.8 L276.8,14.5 M0.0,14.3 L1.5,14.3 L1.9,14.7 L0.0,14.8 M0.0,16.3 L1.9,16.8 L3.9,17.6 L5.4,17.8 L6.3,17.9 L7.6,18.3 L7.0,18.6 L5.8,18.9 L5.9,19.5 L4.8,19.9 L3.5,19.6 L2.7,19.1 L1.2,19.0 L0.0,19.3 M175.3,7.3 L178.0,7.0 L181.5,6.9 L186.9,7.3 L183.0,7.7 L179.2,7.8 L175.3,7.3 M145.6,37.6 L146.3,37.6 L146.3,36.4 L145.6,36.9 L145.6,37.6 M145.3,39.4 L146.4,39.3 L146.6,38.2 L146.1,37.7 L145.3,38.0 L145.5,38.7 L145.3,39.4 M148.6,40.5 L150.7,41.2 L151.0,40.1 L149.7,40.2 L148.7,40.1 L148.6,40.5 M157.1,42.3 L159.3,42.3 L159.2,42.5 L158.1,42.6 L157.1,42.3 M163.9,42.8 L165.7,42.0 L165.2,42.5 L164.6,42.8 L163.9,42.8 M265.6,85.1 L268.0,86.8 L267.7,86.9 L266.0,85.9 L265.6,85.1 M260.2,75.4 L262.2,76.3 L263.7,77.2 L263.0,77.3 L261.4,76.2 L260.2,75.4 M253.5,73.9 L254.8,73.9 L256.4,72.8 L256.6,73.9 L255.2,74.4 L253.5,73.9"/><pattern id="stip" patternUnits="userSpaceOnUse" width="2.27" height="2.27"><rect x="0.6" y="0.6" width="1" height="1" fill="#3c3c3c"/></pattern><pattern id="stipa" patternUnits="userSpaceOnUse" x="42.50" y="24.50" width="2.3167" height="2.3200"><rect x="0.66" y="0.66" width="1" height="1" fill="#666"/></pattern><pattern id="stipb" patternUnits="userSpaceOnUse" x="396.80" y="24.50" width="2.3183" height="2.3200"><rect x="0.66" y="0.66" width="1" height="1" fill="#333"/></pattern><pattern id="stipc" patternUnits="userSpaceOnUse" x="42.50" y="258.60" width="2.3167" height="2.3160"><rect x="0.66" y="0.66" width="1" height="1" fill="#333"/></pattern><pattern id="stipd" patternUnits="userSpaceOnUse" x="396.80" y="258.60" width="2.3183" height="2.3160"><rect x="0.66" y="0.66" width="1" height="1" fill="#333"/></pattern><pattern id="stipe" patternUnits="userSpaceOnUse" x="42.50" y="493.20" width="2.3167" height="2.3140"><rect x="0.66" y="0.66" width="1" height="1" fill="#333"/></pattern><pattern id="stipf" patternUnits="userSpaceOnUse" x="396.80" y="493.20" width="2.3183" height="2.3140"><rect x="0.66" y="0.66" width="1" height="1" fill="#333"/></pattern><clipPath id="clipa"><rect x="42.50" y="24.50" width="278.00" height="116.00"/></clipPath><clipPath id="clipb"><rect x="396.80" y="24.50" width="278.20" height="116.00"/></clipPath><clipPath id="clipc"><rect x="42.50" y="258.60" width="278.00" height="115.80"/></clipPath><clipPath id="clipd"><rect x="396.80" y="258.60" width="278.20" height="115.80"/></clipPath><clipPath id="clipe"><rect x="42.50" y="493.20" width="278.00" height="115.70"/></clipPath><clipPath id="clipf"><rect x="396.80" y="493.20" width="278.20" height="115.70"/></clipPath></defs><rect width="685" height="690" fill="#fff"/><g clip-path="url(#clipa)">
<path d="M105.0,50.0 L138.0,50.0 L140.0,60.0 L182.0,58.0 L182.0,83.0 L119.0,83.0 L119.0,65.0 L105.0,64.0Z M42.0,42.9 L52.2,42.9 L54.3,47.5 L57.3,51.6 L69.6,51.6 L71.6,54.7 L73.7,63.9 L69.6,67.9 L62.4,73.1 L59.4,75.1 L42.0,75.1Z M91.1,45.5 L99.2,45.5 L112.5,47.5 L112.5,57.7 L99.2,57.7 L91.1,54.7Z M84.9,79.2 L91.1,72.0 L99.2,67.9 L112.5,66.9 L112.5,84.3 L84.9,84.3Z M112.0,52.6 L125.3,52.6 L140.6,54.7 L151.9,54.7 L151.9,48.5 L154.9,43.9 L182.5,43.4 L182.5,49.5 L172.3,51.6 L170.2,57.7 L170.2,70.0 L165.1,73.1 L165.1,84.3 L142.7,84.3 L142.7,77.1 L127.3,73.1 L127.3,84.3 L112.0,84.3Z M173.3,62.8 L182.5,62.8 L182.5,72.0 L173.3,72.0Z M182.0,42.4 L207.5,42.4 L222.9,40.4 L238.2,37.3 L252.5,35.2 L252.5,84.3 L182.0,84.3 L182.0,77.1 L188.1,77.1 L188.1,64.9 L182.0,64.9Z M252.0,35.2 L278.6,36.3 L278.6,42.4 L320.5,42.4 L320.5,84.3 L307.2,84.3 L307.2,79.2 L320.5,79.2 L320.5,84.3 L252.0,84.3Z M81.9,82.0 L112.5,82.0 L112.5,100.4 L107.4,100.4 L107.4,96.3 L91.1,96.3 L91.1,94.3 L81.9,94.3Z M112.0,82.0 L182.5,82.0 L182.5,102.4 L176.4,102.4 L176.4,99.4 L154.9,98.4 L152.9,103.5 L151.9,112.7 L150.8,121.9 L136.5,121.9 L130.4,114.7 L124.3,110.6 L120.2,106.5 L112.0,102.4Z M182.0,82.0 L252.5,82.0 L252.5,98.4 L246.4,98.4 L246.4,96.3 L237.2,97.3 L222.9,98.9 L213.7,101.4 L212.7,111.6 L213.7,121.9 L202.4,121.9 L197.3,115.7 L192.2,108.6 L188.1,106.5 L182.0,106.5Z M252.0,82.0 L320.5,82.0 L320.5,87.1 L309.2,87.1 L287.8,88.1 L282.7,92.2 L280.6,97.3 L279.6,102.4 L260.2,103.5 L253.0,101.4 L252.0,101.4Z M282.7,96.3 L303.1,96.3 L303.1,98.4 L282.7,98.4Z" fill="#f1f9cd"/>
<path d="M182.0,87.1 L190.2,87.1 L190.2,91.2 L182.0,91.2Z M200.4,93.2 L200.4,91.2 L205.5,88.1 L207.5,85.1 L211.6,85.1 L211.6,90.2 L206.5,93.2Z M252.0,82.0 L267.3,82.0 L266.3,88.1 L264.3,92.2 L265.3,100.4 L260.2,100.4 L258.1,94.3 L252.0,92.2Z" fill="#a9e2b7"/>
<path d="M252.0,82.0 L259.2,82.0 L259.2,86.1 L252.0,86.1Z" fill="#63c5c6"/>
<path d="M215.9,69.7 L235.0,67.1 L236.3,69.7 L259.9,68.4 L265.2,63.1 L273.1,57.9 L282.3,57.2 L283.6,64.5 L280.9,71.0 L278.3,76.3 L271.8,78.9 L271.8,89.4 L266.5,93.4 L259.9,92.0 L253.4,89.4 L245.5,89.4 L236.3,89.4 L225.8,89.4 L217.9,88.1 L210.0,88.1 L210.0,84.2 L216.6,81.5 L215.9,76.3Z" fill="#a9e2b7"/>
<path d="M236.3,69.7 L244.2,69.7 L246.8,72.3 L253.4,72.3 L259.9,67.1 L265.2,64.5 L271.8,63.1 L275.7,64.5 L275.7,76.3 L266.5,77.6 L259.9,81.5 L256.0,84.2 L253.4,84.2 L249.4,88.1 L241.5,88.1 L237.6,85.5 L236.3,80.2Z" fill="#63c5c6"/>
<path d="M261.2,65.8 L273.1,65.1 L274.4,74.3 L265.2,76.3 L260.6,73.0Z M238.2,74.3 L245.5,73.0 L246.8,80.2 L241.5,83.5 L238.2,81.5Z" fill="#5ab3c9"/>
<path d="M246.1,73.6 L253.4,73.6 L253.4,76.0 L246.1,76.0Z" fill="#4189c1"/>
<path d="M42.5 24.5h278.0v2.3h-278.0zM42.5 26.8h141.3v2.3h-141.3zM186.1 26.8h88.0v2.3h-88.0zM276.5 26.8h44.0v2.3h-44.0zM58.7 29.1h215.4v2.3h-215.4zM278.8 29.1h41.7v2.3h-41.7zM58.7 31.5h261.8v2.3h-261.8zM58.7 33.8h11.6v2.3h-11.6zM74.9 33.8h90.3v2.3h-90.3zM167.6 33.8h152.9v2.3h-152.9zM58.7 36.1h18.5v2.3h-18.5zM79.6 36.1h53.3v2.3h-53.3zM135.2 36.1h30.1v2.3h-30.1zM167.6 36.1h152.9v2.3h-152.9zM42.5 38.4h192.3v2.3h-192.3zM237.1 38.4h83.4v2.3h-83.4zM42.5 40.7h71.8v2.3h-71.8zM116.6 40.7h69.5v2.3h-69.5zM190.8 40.7h44.0v2.3h-44.0zM237.1 40.7h67.2v2.3h-67.2zM306.6 40.7h13.9v2.3h-13.9zM42.5 43.1h143.6v2.3h-143.6zM188.4 43.1h115.8v2.3h-115.8zM306.6 43.1h13.9v2.3h-13.9zM42.5 45.4h95.0v2.3h-95.0zM142.1 45.4h162.2v2.3h-162.2zM306.6 45.4h13.9v2.3h-13.9zM42.5 47.7h37.1v2.3h-37.1zM81.9 47.7h55.6v2.3h-55.6zM142.1 47.7h152.9v2.3h-152.9zM297.3 47.7h23.2v2.3h-23.2zM42.5 50.0h95.0v2.3h-95.0zM142.1 50.0h152.9v2.3h-152.9zM299.6 50.0h20.9v2.3h-20.9zM42.5 52.3h143.6v2.3h-143.6zM188.4 52.3h60.2v2.3h-60.2zM251.0 52.3h69.5v2.3h-69.5zM42.5 54.7h141.3v2.3h-141.3zM188.4 54.7h53.3v2.3h-53.3zM244.1 54.7h76.4v2.3h-76.4zM42.5 57.0h190.0v2.3h-190.0zM234.8 57.0h6.9v2.3h-6.9zM244.1 57.0h76.4v2.3h-76.4zM42.5 59.3h83.4v2.3h-83.4zM132.8 59.3h48.7v2.3h-48.7zM183.8 59.3h136.7v2.3h-136.7zM42.5 61.6h83.4v2.3h-83.4zM132.8 61.6h187.7v2.3h-187.7zM42.5 63.9h44.0v2.3h-44.0zM91.2 63.9h30.1v2.3h-30.1zM123.6 63.9h4.6v2.3h-4.6zM132.8 63.9h164.5v2.3h-164.5zM302.0 63.9h18.5v2.3h-18.5zM42.5 66.3h85.7v2.3h-85.7zM132.8 66.3h159.8v2.3h-159.8zM295.0 66.3h25.5v2.3h-25.5zM42.5 68.6h113.5v2.3h-113.5zM158.3 68.6h134.4v2.3h-134.4zM295.0 68.6h25.5v2.3h-25.5zM42.5 70.9h4.6v2.3h-4.6zM54.1 70.9h13.9v2.3h-13.9zM70.3 70.9h11.6v2.3h-11.6zM86.5 70.9h20.8v2.3h-20.8zM109.7 70.9h4.6v2.3h-4.6zM116.6 70.9h185.3v2.3h-185.3zM304.3 70.9h16.2v2.3h-16.2zM42.5 73.2h4.6v2.3h-4.6zM54.1 73.2h220.1v2.3h-220.1zM276.5 73.2h44.0v2.3h-44.0zM42.5 75.5h64.9v2.3h-64.9zM109.7 75.5h97.3v2.3h-97.3zM209.3 75.5h64.9v2.3h-64.9zM278.8 75.5h41.7v2.3h-41.7zM42.5 77.9h64.9v2.3h-64.9zM112.0 77.9h95.0v2.3h-95.0zM209.3 77.9h13.9v2.3h-13.9zM225.5 77.9h48.6v2.3h-48.6zM276.5 77.9h44.0v2.3h-44.0zM47.1 80.2h62.6v2.3h-62.6zM112.0 80.2h141.3v2.3h-141.3zM257.9 80.2h57.9v2.3h-57.9zM42.5 82.5h2.3v2.3h-2.3zM47.1 82.5h62.6v2.3h-62.6zM116.6 82.5h4.6v2.3h-4.6zM125.9 82.5h129.7v2.3h-129.7zM262.6 82.5h55.6v2.3h-55.6zM54.1 84.8h206.2v2.3h-206.2zM262.6 84.8h11.6v2.3h-11.6zM276.5 84.8h44.0v2.3h-44.0zM54.1 87.1h71.8v2.3h-71.8zM137.5 87.1h97.3v2.3h-97.3zM237.1 87.1h32.4v2.3h-32.4zM276.5 87.1h32.4v2.3h-32.4zM54.1 89.5h34.8v2.3h-34.8zM91.2 89.5h34.8v2.3h-34.8zM137.5 89.5h60.2v2.3h-60.2zM200.0 89.5h37.1v2.3h-37.1zM239.4 89.5h69.5v2.3h-69.5zM54.1 91.8h27.8v2.3h-27.8zM84.2 91.8h2.3v2.3h-2.3zM93.5 91.8h13.9v2.3h-13.9zM109.7 91.8h16.2v2.3h-16.2zM137.5 91.8h9.3v2.3h-9.3zM151.4 91.8h30.1v2.3h-30.1zM183.8 91.8h23.2v2.3h-23.2zM209.3 91.8h27.8v2.3h-27.8zM239.4 91.8h60.2v2.3h-60.2zM302.0 91.8h7.0v2.3h-7.0zM44.8 94.1h13.9v2.3h-13.9zM63.4 94.1h23.2v2.3h-23.2zM93.5 94.1h53.3v2.3h-53.3zM153.7 94.1h20.9v2.3h-20.9zM179.2 94.1h6.9v2.3h-6.9zM188.4 94.1h46.3v2.3h-46.3zM264.9 94.1h32.4v2.3h-32.4zM304.3 94.1h4.6v2.3h-4.6zM42.5 96.4h104.2v2.3h-104.2zM188.4 96.4h25.5v2.3h-25.5zM216.2 96.4h18.5v2.3h-18.5zM264.9 96.4h9.3v2.3h-9.3zM281.1 96.4h16.2v2.3h-16.2zM304.3 96.4h4.6v2.3h-4.6zM42.5 98.7h48.7v2.3h-48.7zM93.5 98.7h13.9v2.3h-13.9zM112.0 98.7h37.1v2.3h-37.1zM186.1 98.7h27.8v2.3h-27.8zM216.2 98.7h4.6v2.3h-4.6zM225.5 98.7h9.3v2.3h-9.3zM264.9 98.7h11.6v2.3h-11.6zM281.1 98.7h2.3v2.3h-2.3zM285.8 98.7h23.2v2.3h-23.2zM42.5 101.1h4.6v2.3h-4.6zM49.5 101.1h2.3v2.3h-2.3zM84.2 101.1h7.0v2.3h-7.0zM102.7 101.1h16.2v2.3h-16.2zM121.3 101.1h16.2v2.3h-16.2zM139.8 101.1h13.9v2.3h-13.9zM193.1 101.1h27.8v2.3h-27.8zM225.5 101.1h9.3v2.3h-9.3zM264.9 101.1h11.6v2.3h-11.6zM281.1 101.1h2.3v2.3h-2.3zM288.1 101.1h20.9v2.3h-20.9zM42.5 103.4h9.3v2.3h-9.3zM84.2 103.4h11.6v2.3h-11.6zM100.4 103.4h18.5v2.3h-18.5zM121.3 103.4h4.6v2.3h-4.6zM130.5 103.4h4.6v2.3h-4.6zM146.8 103.4h6.9v2.3h-6.9zM188.4 103.4h81.1v2.3h-81.1zM274.2 103.4h16.2v2.3h-16.2zM295.0 103.4h20.9v2.3h-20.9zM42.5 105.7h9.3v2.3h-9.3zM84.2 105.7h39.4v2.3h-39.4zM128.2 105.7h4.6v2.3h-4.6zM139.8 105.7h2.3v2.3h-2.3zM146.8 105.7h4.6v2.3h-4.6zM188.4 105.7h51.0v2.3h-51.0zM244.1 105.7h11.6v2.3h-11.6zM260.3 105.7h9.3v2.3h-9.3zM276.5 105.7h27.8v2.3h-27.8zM306.6 105.7h13.9v2.3h-13.9zM42.5 108.0h9.3v2.3h-9.3zM84.2 108.0h2.3v2.3h-2.3zM88.8 108.0h32.4v2.3h-32.4zM128.2 108.0h4.6v2.3h-4.6zM137.5 108.0h4.6v2.3h-4.6zM144.4 108.0h6.9v2.3h-6.9zM190.8 108.0h16.2v2.3h-16.2zM216.2 108.0h25.5v2.3h-25.5zM248.7 108.0h6.9v2.3h-6.9zM260.3 108.0h11.6v2.3h-11.6zM278.8 108.0h18.5v2.3h-18.5zM299.6 108.0h18.5v2.3h-18.5zM44.8 110.3h18.5v2.3h-18.5zM68.0 110.3h18.5v2.3h-18.5zM88.8 110.3h32.4v2.3h-32.4zM128.2 110.3h2.3v2.3h-2.3zM137.5 110.3h9.3v2.3h-9.3zM149.1 110.3h2.3v2.3h-2.3zM163.0 110.3h7.0v2.3h-7.0zM174.6 110.3h9.3v2.3h-9.3zM193.1 110.3h11.6v2.3h-11.6zM218.6 110.3h7.0v2.3h-7.0zM227.8 110.3h16.2v2.3h-16.2zM251.0 110.3h2.3v2.3h-2.3zM262.6 110.3h11.6v2.3h-11.6zM278.8 110.3h39.4v2.3h-39.4zM47.1 112.7h7.0v2.3h-7.0zM56.4 112.7h7.0v2.3h-7.0zM65.7 112.7h39.4v2.3h-39.4zM109.7 112.7h9.3v2.3h-9.3zM137.5 112.7h16.2v2.3h-16.2zM158.3 112.7h11.6v2.3h-11.6zM174.6 112.7h30.1v2.3h-30.1zM213.9 112.7h11.6v2.3h-11.6zM232.5 112.7h2.3v2.3h-2.3zM237.1 112.7h9.3v2.3h-9.3zM251.0 112.7h2.3v2.3h-2.3zM257.9 112.7h2.3v2.3h-2.3zM262.6 112.7h11.6v2.3h-11.6zM281.1 112.7h23.2v2.3h-23.2zM311.2 112.7h6.9v2.3h-6.9zM49.5 115.0h2.3v2.3h-2.3zM54.1 115.0h9.3v2.3h-9.3zM68.0 115.0h7.0v2.3h-7.0zM79.6 115.0h25.5v2.3h-25.5zM107.4 115.0h9.3v2.3h-9.3zM121.3 115.0h4.6v2.3h-4.6zM144.4 115.0h25.5v2.3h-25.5zM172.2 115.0h27.8v2.3h-27.8zM209.3 115.0h6.9v2.3h-6.9zM218.6 115.0h4.6v2.3h-4.6zM237.1 115.0h2.3v2.3h-2.3zM241.7 115.0h34.8v2.3h-34.8zM278.8 115.0h11.6v2.3h-11.6zM295.0 115.0h13.9v2.3h-13.9zM313.6 115.0h4.6v2.3h-4.6zM49.5 117.3h16.2v2.3h-16.2zM68.0 117.3h7.0v2.3h-7.0zM79.6 117.3h7.0v2.3h-7.0zM88.8 117.3h13.9v2.3h-13.9zM107.4 117.3h9.3v2.3h-9.3zM121.3 117.3h4.6v2.3h-4.6zM135.2 117.3h6.9v2.3h-6.9zM146.8 117.3h53.3v2.3h-53.3zM209.3 117.3h11.6v2.3h-11.6zM234.8 117.3h20.8v2.3h-20.8zM264.9 117.3h25.5v2.3h-25.5zM292.7 117.3h16.2v2.3h-16.2zM313.6 117.3h4.6v2.3h-4.6zM49.5 119.6h27.8v2.3h-27.8zM79.6 119.6h39.4v2.3h-39.4zM137.5 119.6h4.6v2.3h-4.6zM149.1 119.6h18.5v2.3h-18.5zM169.9 119.6h30.1v2.3h-30.1zM202.3 119.6h16.2v2.3h-16.2zM230.2 119.6h25.5v2.3h-25.5zM264.9 119.6h13.9v2.3h-13.9zM281.1 119.6h23.2v2.3h-23.2zM306.6 119.6h2.3v2.3h-2.3zM68.0 121.9h2.3v2.3h-2.3zM72.6 121.9h27.8v2.3h-27.8zM102.7 121.9h16.2v2.3h-16.2zM123.6 121.9h7.0v2.3h-7.0zM135.2 121.9h13.9v2.3h-13.9zM151.4 121.9h16.2v2.3h-16.2zM172.2 121.9h7.0v2.3h-7.0zM183.8 121.9h13.9v2.3h-13.9zM202.3 121.9h16.2v2.3h-16.2zM220.9 121.9h7.0v2.3h-7.0zM230.2 121.9h6.9v2.3h-6.9zM264.9 121.9h20.9v2.3h-20.9zM290.4 121.9h13.9v2.3h-13.9zM308.9 121.9h4.6v2.3h-4.6zM68.0 124.3h4.6v2.3h-4.6zM74.9 124.3h25.5v2.3h-25.5zM102.7 124.3h16.2v2.3h-16.2zM123.6 124.3h9.3v2.3h-9.3zM135.2 124.3h32.4v2.3h-32.4zM172.2 124.3h7.0v2.3h-7.0zM183.8 124.3h53.3v2.3h-53.3zM255.6 124.3h4.6v2.3h-4.6zM262.6 124.3h20.8v2.3h-20.8zM290.4 124.3h13.9v2.3h-13.9zM308.9 124.3h11.6v2.3h-11.6zM68.0 126.6h25.5v2.3h-25.5zM98.1 126.6h18.5v2.3h-18.5zM121.3 126.6h2.3v2.3h-2.3zM128.2 126.6h4.6v2.3h-4.6zM137.5 126.6h34.7v2.3h-34.7zM176.9 126.6h2.3v2.3h-2.3zM183.8 126.6h27.8v2.3h-27.8zM216.2 126.6h9.3v2.3h-9.3zM227.8 126.6h9.3v2.3h-9.3zM255.6 126.6h9.3v2.3h-9.3zM269.5 126.6h11.6v2.3h-11.6zM283.4 126.6h13.9v2.3h-13.9zM299.6 126.6h4.6v2.3h-4.6zM315.9 126.6h4.6v2.3h-4.6zM84.2 128.9h9.3v2.3h-9.3zM98.1 128.9h55.6v2.3h-55.6zM218.6 128.9h7.0v2.3h-7.0zM230.2 128.9h30.1v2.3h-30.1zM54.1 131.2h6.9v2.3h-6.9zM84.2 131.2h9.3v2.3h-9.3zM98.1 131.2h55.6v2.3h-55.6zM216.2 131.2h9.3v2.3h-9.3zM230.2 131.2h18.5v2.3h-18.5zM253.3 131.2h6.9v2.3h-6.9zM47.1 133.5h4.6v2.3h-4.6zM56.4 133.5h4.6v2.3h-4.6zM84.2 133.5h2.3v2.3h-2.3zM95.8 133.5h23.2v2.3h-23.2zM123.6 133.5h9.3v2.3h-9.3zM144.4 133.5h9.3v2.3h-9.3zM213.9 133.5h11.6v2.3h-11.6zM230.2 133.5h18.5v2.3h-18.5zM253.3 133.5h6.9v2.3h-6.9zM47.1 135.9h7.0v2.3h-7.0zM58.7 135.9h2.3v2.3h-2.3zM95.8 135.9h2.3v2.3h-2.3zM102.7 135.9h7.0v2.3h-7.0zM114.3 135.9h7.0v2.3h-7.0zM123.6 135.9h7.0v2.3h-7.0zM137.5 135.9h4.6v2.3h-4.6zM144.4 135.9h9.3v2.3h-9.3zM213.9 135.9h6.9v2.3h-6.9zM223.2 135.9h11.6v2.3h-11.6zM237.1 135.9h11.6v2.3h-11.6zM253.3 135.9h6.9v2.3h-6.9zM42.5 138.2h11.6v2.3h-11.6zM58.7 138.2h2.3v2.3h-2.3zM84.2 138.2h13.9v2.3h-13.9zM102.7 138.2h7.0v2.3h-7.0zM112.0 138.2h20.8v2.3h-20.8zM137.5 138.2h16.2v2.3h-16.2zM216.2 138.2h16.2v2.3h-16.2zM237.1 138.2h13.9v2.3h-13.9zM253.3 138.2h6.9v2.3h-6.9z" fill="url(#stipa)"/>
<use href="#coast" transform="translate(42.50 24.50) scale(1.0000 1.0000)" fill="none" stroke="#5a5a5a" stroke-width="0.7" stroke-linejoin="round"/>
</g>
<rect x="42.50" y="24.50" width="278.00" height="116.00" fill="none" stroke="#3a3a3a" stroke-width="1"/>
<path d="M39.00,24.50 H42.50 M320.50,24.50 H324.00 M39.00,47.70 H42.50 M320.50,47.70 H324.00 M39.00,70.90 H42.50 M320.50,70.90 H324.00 M39.00,94.10 H42.50 M320.50,94.10 H324.00 M39.00,117.30 H42.50 M320.50,117.30 H324.00 M39.00,140.50 H42.50 M320.50,140.50 H324.00 M42.50,140.50 V144.00 M42.50,21.00 V24.50 M88.83,140.50 V144.00 M88.83,21.00 V24.50 M135.17,140.50 V144.00 M135.17,21.00 V24.50 M181.50,140.50 V144.00 M181.50,21.00 V24.50 M227.83,140.50 V144.00 M227.83,21.00 V24.50 M274.17,140.50 V144.00 M274.17,21.00 V24.50 M320.50,140.50 V144.00 M320.50,21.00 V24.50" stroke="#3a3a3a" stroke-width="1" fill="none"/>
<text x="37.80" y="27.70" font-size="8.76" text-anchor="end" fill="#262626" textLength="21.43" lengthAdjust="spacingAndGlyphs">90°N</text>
<text x="37.80" y="50.90" font-size="8.76" text-anchor="end" fill="#262626" textLength="21.43" lengthAdjust="spacingAndGlyphs">60°N</text>
<text x="37.80" y="74.10" font-size="8.76" text-anchor="end" fill="#262626" textLength="21.43" lengthAdjust="spacingAndGlyphs">30°N</text>
<text x="37.80" y="97.30" font-size="8.76" text-anchor="end" fill="#262626" textLength="9.66" lengthAdjust="spacingAndGlyphs">0°</text>
<text x="37.80" y="120.50" font-size="8.76" text-anchor="end" fill="#262626" textLength="20.46" lengthAdjust="spacingAndGlyphs">30°S</text>
<text x="37.80" y="143.70" font-size="8.76" text-anchor="end" fill="#262626" textLength="20.46" lengthAdjust="spacingAndGlyphs">60°S</text>
<text x="42.50" y="153.10" font-size="8.76" text-anchor="middle" fill="#262626" textLength="20.47" lengthAdjust="spacingAndGlyphs">180°</text>
<text x="88.83" y="153.10" font-size="8.76" text-anchor="middle" fill="#262626" textLength="28.88" lengthAdjust="spacingAndGlyphs">120°W</text>
<text x="135.17" y="153.10" font-size="8.76" text-anchor="middle" fill="#262626" textLength="23.47" lengthAdjust="spacingAndGlyphs">60°W</text>
<text x="181.50" y="153.10" font-size="8.76" text-anchor="middle" fill="#262626" textLength="9.66" lengthAdjust="spacingAndGlyphs">0°</text>
<text x="227.83" y="153.10" font-size="8.76" text-anchor="middle" fill="#262626" textLength="20.44" lengthAdjust="spacingAndGlyphs">60°E</text>
<text x="274.17" y="153.10" font-size="8.76" text-anchor="middle" fill="#262626" textLength="25.85" lengthAdjust="spacingAndGlyphs">120°E</text>
<text x="320.50" y="153.10" font-size="8.76" text-anchor="middle" fill="#262626" textLength="20.47" lengthAdjust="spacingAndGlyphs">180°</text>
<text x="181.50" y="164.90" font-size="11.33" text-anchor="middle" fill="#262626" textLength="54.71" lengthAdjust="spacingAndGlyphs">Longitude</text>
<text x="13.20" y="82.50" font-size="11.33" text-anchor="middle" fill="#262626" textLength="45.27" lengthAdjust="spacingAndGlyphs" transform="rotate(-90 13.20 82.50)">Latitude</text>
<text x="0.20" y="16.50" font-size="20.5" fill="#000">a</text>
<rect x="42.30" y="178.80" width="46.67" height="10.50" fill="#2d3594"/>
<rect x="88.67" y="178.80" width="46.67" height="10.50" fill="#4189c1"/>
<rect x="135.03" y="178.80" width="46.67" height="10.50" fill="#63c5c6"/>
<rect x="181.40" y="178.80" width="46.67" height="10.50" fill="#a9e2b7"/>
<rect x="227.77" y="178.80" width="46.67" height="10.50" fill="#eefac6"/>
<rect x="274.13" y="178.80" width="46.67" height="10.50" fill="#ffffff"/>
<path d="M88.67,187.30 V189.30 M135.03,187.30 V189.30 M181.40,187.30 V189.30 M227.77,187.30 V189.30 M274.13,187.30 V189.30" stroke="#222" stroke-width="0.8"/>
<rect x="42.30" y="178.80" width="278.20" height="10.50" fill="none" stroke="#222" stroke-width="0.8"/>
<text x="88.67" y="201.60" font-size="8.24" text-anchor="middle" fill="#262626" textLength="15.61" lengthAdjust="spacingAndGlyphs">-0.3</text>
<text x="135.03" y="201.60" font-size="8.24" text-anchor="middle" fill="#262626" textLength="15.61" lengthAdjust="spacingAndGlyphs">-0.2</text>
<text x="181.40" y="201.60" font-size="8.24" text-anchor="middle" fill="#262626" textLength="15.61" lengthAdjust="spacingAndGlyphs">-0.1</text>
<text x="227.77" y="201.60" font-size="8.24" text-anchor="middle" fill="#262626" textLength="20.70" lengthAdjust="spacingAndGlyphs">-0.05</text>
<text x="274.13" y="201.60" font-size="8.24" text-anchor="middle" fill="#262626" textLength="20.70" lengthAdjust="spacingAndGlyphs">-0.01</text>
<text x="181.40" y="214.50" font-size="11.33" text-anchor="middle" fill="#262626" textLength="241.06" lengthAdjust="spacingAndGlyphs">Changes in aerosol optical depth at 550 nm</text>
<g clip-path="url(#clipb)">
<path d="M503.4 101.1h2.3v2.3h-2.3zM573.0 103.4h2.3v2.3h-2.3zM494.2 105.7h2.3v2.3h-2.3z" fill="#573610"/>
<path d="M561.4 63.9h2.3v2.3h-2.3zM624.0 63.9h4.6v2.3h-4.6zM538.2 66.3h4.6v2.3h-4.6zM619.4 66.3h2.3v2.3h-2.3zM533.6 68.6h4.6v2.3h-4.6zM540.5 68.6h2.3v2.3h-2.3zM593.9 70.9h2.3v2.3h-2.3zM598.5 70.9h4.6v2.3h-4.6zM593.9 80.2h4.6v2.3h-4.6zM491.9 98.7h2.3v2.3h-2.3zM498.8 98.7h2.3v2.3h-2.3zM501.1 101.1h2.3v2.3h-2.3zM505.8 101.1h2.3v2.3h-2.3zM494.2 103.4h2.3v2.3h-2.3zM503.4 103.4h2.3v2.3h-2.3zM554.4 103.4h2.3v2.3h-2.3zM552.1 105.7h2.3v2.3h-2.3zM501.1 108.0h2.3v2.3h-2.3zM552.1 108.0h2.3v2.3h-2.3zM498.8 110.3h4.6v2.3h-4.6zM547.5 115.0h2.3v2.3h-2.3z" fill="#8f5a1e"/>
<path d="M438.5 50.0h2.3v2.3h-2.3zM559.1 52.3h2.3v2.3h-2.3zM538.2 57.0h2.3v2.3h-2.3zM542.9 57.0h4.6v2.3h-4.6zM549.8 57.0h2.3v2.3h-2.3zM554.4 57.0h4.6v2.3h-4.6zM533.6 59.3h2.3v2.3h-2.3zM542.9 59.3h2.3v2.3h-2.3zM568.4 59.3h2.3v2.3h-2.3zM610.1 59.3h2.3v2.3h-2.3zM533.6 61.6h2.3v2.3h-2.3zM559.1 61.6h2.3v2.3h-2.3zM563.7 61.6h2.3v2.3h-2.3zM568.4 61.6h2.3v2.3h-2.3zM610.1 61.6h2.3v2.3h-2.3zM614.7 61.6h2.3v2.3h-2.3zM619.4 61.6h2.3v2.3h-2.3zM610.1 63.9h4.6v2.3h-4.6zM617.0 63.9h7.0v2.3h-7.0zM531.3 66.3h7.0v2.3h-7.0zM596.2 66.3h2.3v2.3h-2.3zM607.8 66.3h4.6v2.3h-4.6zM600.8 68.6h2.3v2.3h-2.3zM612.4 68.6h2.3v2.3h-2.3zM596.2 70.9h2.3v2.3h-2.3zM591.5 73.2h2.3v2.3h-2.3zM610.1 73.2h2.3v2.3h-2.3zM589.2 75.5h2.3v2.3h-2.3zM593.9 75.5h2.3v2.3h-2.3zM596.2 77.9h2.3v2.3h-2.3zM526.6 80.2h2.3v2.3h-2.3zM568.4 80.2h2.3v2.3h-2.3zM526.6 82.5h2.3v2.3h-2.3zM545.2 82.5h2.3v2.3h-2.3zM593.9 82.5h4.6v2.3h-4.6zM570.7 84.8h2.3v2.3h-2.3zM596.2 84.8h2.3v2.3h-2.3zM503.4 98.7h4.6v2.3h-4.6zM491.9 101.1h9.3v2.3h-9.3zM549.8 101.1h2.3v2.3h-2.3zM561.4 101.1h2.3v2.3h-2.3zM491.9 103.4h2.3v2.3h-2.3zM498.8 103.4h4.6v2.3h-4.6zM547.5 103.4h4.6v2.3h-4.6zM491.9 105.7h2.3v2.3h-2.3zM496.5 105.7h7.0v2.3h-7.0zM547.5 105.7h4.6v2.3h-4.6zM554.4 105.7h4.6v2.3h-4.6zM494.2 108.0h2.3v2.3h-2.3zM503.4 108.0h2.3v2.3h-2.3zM545.2 108.0h4.6v2.3h-4.6zM561.4 108.0h2.3v2.3h-2.3zM494.2 110.3h4.6v2.3h-4.6zM547.5 112.7h2.3v2.3h-2.3zM554.4 112.7h2.3v2.3h-2.3zM559.1 112.7h2.3v2.3h-2.3zM480.3 115.0h4.6v2.3h-4.6zM554.4 115.0h2.3v2.3h-2.3zM480.3 117.3h2.3v2.3h-2.3zM480.3 119.6h2.3v2.3h-2.3zM487.2 119.6h2.3v2.3h-2.3zM491.9 119.6h2.3v2.3h-2.3z" fill="#bf8737"/>
<path d="M431.6 47.7h2.3v2.3h-2.3zM452.4 47.7h2.3v2.3h-2.3zM596.2 47.7h2.3v2.3h-2.3zM459.4 50.0h2.3v2.3h-2.3zM563.7 50.0h2.3v2.3h-2.3zM612.4 52.3h2.3v2.3h-2.3zM556.8 54.7h2.3v2.3h-2.3zM563.7 54.7h2.3v2.3h-2.3zM603.1 54.7h2.3v2.3h-2.3zM443.2 57.0h2.3v2.3h-2.3zM533.6 57.0h2.3v2.3h-2.3zM540.5 57.0h2.3v2.3h-2.3zM547.5 57.0h2.3v2.3h-2.3zM573.0 57.0h2.3v2.3h-2.3zM593.9 57.0h2.3v2.3h-2.3zM450.1 59.3h2.3v2.3h-2.3zM535.9 59.3h2.3v2.3h-2.3zM566.0 59.3h2.3v2.3h-2.3zM570.7 59.3h2.3v2.3h-2.3zM607.8 59.3h2.3v2.3h-2.3zM612.4 59.3h2.3v2.3h-2.3zM450.1 61.6h2.3v2.3h-2.3zM547.5 61.6h2.3v2.3h-2.3zM552.1 61.6h2.3v2.3h-2.3zM566.0 61.6h2.3v2.3h-2.3zM603.1 61.6h2.3v2.3h-2.3zM612.4 61.6h2.3v2.3h-2.3zM617.0 61.6h2.3v2.3h-2.3zM621.7 61.6h2.3v2.3h-2.3zM626.3 61.6h2.3v2.3h-2.3zM533.6 63.9h2.3v2.3h-2.3zM545.2 63.9h2.3v2.3h-2.3zM556.8 63.9h4.6v2.3h-4.6zM563.7 63.9h2.3v2.3h-2.3zM568.4 63.9h2.3v2.3h-2.3zM589.2 63.9h4.6v2.3h-4.6zM605.5 63.9h4.6v2.3h-4.6zM614.7 63.9h2.3v2.3h-2.3zM450.1 66.3h2.3v2.3h-2.3zM461.7 66.3h2.3v2.3h-2.3zM566.0 66.3h2.3v2.3h-2.3zM600.8 66.3h4.6v2.3h-4.6zM612.4 66.3h7.0v2.3h-7.0zM538.2 68.6h2.3v2.3h-2.3zM542.9 68.6h2.3v2.3h-2.3zM614.7 68.6h4.6v2.3h-4.6zM454.8 70.9h2.3v2.3h-2.3zM605.5 70.9h2.3v2.3h-2.3zM452.4 73.2h2.3v2.3h-2.3zM586.9 73.2h4.6v2.3h-4.6zM598.5 73.2h2.3v2.3h-2.3zM591.5 75.5h2.3v2.3h-2.3zM600.8 75.5h2.3v2.3h-2.3zM533.6 77.9h7.0v2.3h-7.0zM542.9 77.9h2.3v2.3h-2.3zM549.8 77.9h2.3v2.3h-2.3zM561.4 77.9h2.3v2.3h-2.3zM593.9 77.9h2.3v2.3h-2.3zM598.5 77.9h2.3v2.3h-2.3zM522.0 80.2h2.3v2.3h-2.3zM531.3 80.2h9.3v2.3h-9.3zM545.2 80.2h2.3v2.3h-2.3zM549.8 80.2h2.3v2.3h-2.3zM554.4 80.2h2.3v2.3h-2.3zM559.1 80.2h2.3v2.3h-2.3zM575.3 80.2h2.3v2.3h-2.3zM466.4 82.5h2.3v2.3h-2.3zM524.3 82.5h2.3v2.3h-2.3zM528.9 82.5h2.3v2.3h-2.3zM535.9 82.5h4.6v2.3h-4.6zM542.9 82.5h2.3v2.3h-2.3zM547.5 82.5h2.3v2.3h-2.3zM556.8 82.5h7.0v2.3h-7.0zM484.9 84.8h2.3v2.3h-2.3zM524.3 84.8h4.6v2.3h-4.6zM540.5 84.8h4.6v2.3h-4.6zM593.9 84.8h2.3v2.3h-2.3zM482.6 87.1h4.6v2.3h-4.6zM480.3 91.8h2.3v2.3h-2.3zM494.2 91.8h2.3v2.3h-2.3zM484.9 94.1h4.6v2.3h-4.6zM621.7 94.1h2.3v2.3h-2.3zM614.7 96.4h2.3v2.3h-2.3zM640.2 96.4h2.3v2.3h-2.3zM501.1 98.7h2.3v2.3h-2.3zM484.9 101.1h4.6v2.3h-4.6zM552.1 101.1h2.3v2.3h-2.3zM556.8 101.1h2.3v2.3h-2.3zM496.5 103.4h2.3v2.3h-2.3zM556.8 103.4h2.3v2.3h-2.3zM561.4 103.4h2.3v2.3h-2.3zM484.9 105.7h2.3v2.3h-2.3zM503.4 105.7h2.3v2.3h-2.3zM549.8 108.0h2.3v2.3h-2.3zM554.4 108.0h2.3v2.3h-2.3zM628.6 108.0h4.6v2.3h-4.6zM547.5 110.3h2.3v2.3h-2.3zM554.4 110.3h2.3v2.3h-2.3zM559.1 110.3h2.3v2.3h-2.3zM568.4 110.3h2.3v2.3h-2.3zM556.8 112.7h2.3v2.3h-2.3zM556.8 115.0h2.3v2.3h-2.3zM624.0 115.0h2.3v2.3h-2.3zM491.9 117.3h4.6v2.3h-4.6zM549.8 117.3h2.3v2.3h-2.3zM556.8 117.3h2.3v2.3h-2.3zM631.0 117.3h4.6v2.3h-4.6zM637.9 117.3h2.3v2.3h-2.3zM489.5 119.6h2.3v2.3h-2.3zM480.3 121.9h2.3v2.3h-2.3z" fill="#dcc27f"/>
<path d="M547.5 31.5h4.6v2.3h-4.6zM461.7 40.7h7.0v2.3h-7.0zM471.0 43.1h2.3v2.3h-2.3zM477.9 43.1h2.3v2.3h-2.3zM457.1 47.7h2.3v2.3h-2.3zM575.3 47.7h2.3v2.3h-2.3zM591.5 47.7h4.6v2.3h-4.6zM610.1 47.7h2.3v2.3h-2.3zM566.0 50.0h2.3v2.3h-2.3zM570.7 50.0h2.3v2.3h-2.3zM579.9 50.0h4.6v2.3h-4.6zM589.2 50.0h4.6v2.3h-4.6zM600.8 50.0h2.3v2.3h-2.3zM605.5 50.0h2.3v2.3h-2.3zM556.8 52.3h2.3v2.3h-2.3zM566.0 52.3h2.3v2.3h-2.3zM575.3 52.3h2.3v2.3h-2.3zM586.9 52.3h2.3v2.3h-2.3zM614.7 52.3h2.3v2.3h-2.3zM445.5 54.7h2.3v2.3h-2.3zM450.1 54.7h2.3v2.3h-2.3zM454.8 54.7h2.3v2.3h-2.3zM542.9 54.7h2.3v2.3h-2.3zM561.4 54.7h2.3v2.3h-2.3zM566.0 54.7h2.3v2.3h-2.3zM582.3 54.7h9.3v2.3h-9.3zM607.8 54.7h2.3v2.3h-2.3zM612.4 54.7h2.3v2.3h-2.3zM617.0 54.7h2.3v2.3h-2.3zM621.7 54.7h2.3v2.3h-2.3zM552.1 57.0h2.3v2.3h-2.3zM566.0 57.0h2.3v2.3h-2.3zM570.7 57.0h2.3v2.3h-2.3zM586.9 57.0h2.3v2.3h-2.3zM607.8 57.0h2.3v2.3h-2.3zM617.0 57.0h4.6v2.3h-4.6zM624.0 57.0h4.6v2.3h-4.6zM538.2 59.3h2.3v2.3h-2.3zM545.2 59.3h2.3v2.3h-2.3zM549.8 59.3h2.3v2.3h-2.3zM596.2 59.3h2.3v2.3h-2.3zM619.4 59.3h2.3v2.3h-2.3zM624.0 59.3h4.6v2.3h-4.6zM447.8 61.6h2.3v2.3h-2.3zM528.9 61.6h2.3v2.3h-2.3zM549.8 61.6h2.3v2.3h-2.3zM556.8 61.6h2.3v2.3h-2.3zM582.3 61.6h2.3v2.3h-2.3zM589.2 61.6h2.3v2.3h-2.3zM440.8 63.9h4.6v2.3h-4.6zM447.8 63.9h4.6v2.3h-4.6zM459.4 63.9h2.3v2.3h-2.3zM566.0 63.9h2.3v2.3h-2.3zM603.1 63.9h2.3v2.3h-2.3zM445.5 66.3h2.3v2.3h-2.3zM459.4 66.3h2.3v2.3h-2.3zM563.7 66.3h2.3v2.3h-2.3zM568.4 66.3h2.3v2.3h-2.3zM579.9 66.3h4.6v2.3h-4.6zM589.2 66.3h2.3v2.3h-2.3zM593.9 66.3h2.3v2.3h-2.3zM457.1 68.6h4.6v2.3h-4.6zM531.3 68.6h2.3v2.3h-2.3zM589.2 68.6h2.3v2.3h-2.3zM603.1 68.6h4.6v2.3h-4.6zM635.6 68.6h2.3v2.3h-2.3zM559.1 70.9h2.3v2.3h-2.3zM579.9 70.9h2.3v2.3h-2.3zM589.2 70.9h4.6v2.3h-4.6zM607.8 70.9h2.3v2.3h-2.3zM593.9 73.2h4.6v2.3h-4.6zM600.8 73.2h2.3v2.3h-2.3zM549.8 75.5h2.3v2.3h-2.3zM554.4 75.5h2.3v2.3h-2.3zM568.4 75.5h2.3v2.3h-2.3zM577.6 75.5h2.3v2.3h-2.3zM596.2 75.5h4.6v2.3h-4.6zM459.4 77.9h2.3v2.3h-2.3zM545.2 77.9h4.6v2.3h-4.6zM556.8 77.9h2.3v2.3h-2.3zM612.4 77.9h2.3v2.3h-2.3zM619.4 77.9h2.3v2.3h-2.3zM540.5 80.2h2.3v2.3h-2.3zM547.5 80.2h2.3v2.3h-2.3zM556.8 80.2h2.3v2.3h-2.3zM563.7 80.2h2.3v2.3h-2.3zM570.7 80.2h2.3v2.3h-2.3zM612.4 80.2h2.3v2.3h-2.3zM628.6 80.2h2.3v2.3h-2.3zM531.3 82.5h2.3v2.3h-2.3zM540.5 82.5h2.3v2.3h-2.3zM549.8 82.5h7.0v2.3h-7.0zM614.7 82.5h2.3v2.3h-2.3zM528.9 84.8h4.6v2.3h-4.6zM545.2 84.8h7.0v2.3h-7.0zM556.8 84.8h2.3v2.3h-2.3zM573.0 84.8h2.3v2.3h-2.3zM526.6 87.1h2.3v2.3h-2.3zM533.6 87.1h7.0v2.3h-7.0zM554.4 89.5h4.6v2.3h-4.6zM547.5 91.8h2.3v2.3h-2.3zM621.7 91.8h2.3v2.3h-2.3zM626.3 91.8h2.3v2.3h-2.3zM494.2 94.1h7.0v2.3h-7.0zM556.8 94.1h2.3v2.3h-2.3zM624.0 94.1h2.3v2.3h-2.3zM494.2 96.4h2.3v2.3h-2.3zM494.2 98.7h4.6v2.3h-4.6zM545.2 98.7h2.3v2.3h-2.3zM647.2 98.7h2.3v2.3h-2.3zM547.5 101.1h2.3v2.3h-2.3zM554.4 101.1h2.3v2.3h-2.3zM559.1 101.1h2.3v2.3h-2.3zM545.2 103.4h2.3v2.3h-2.3zM552.1 103.4h2.3v2.3h-2.3zM563.7 103.4h2.3v2.3h-2.3zM545.2 105.7h2.3v2.3h-2.3zM563.7 105.7h2.3v2.3h-2.3zM633.3 105.7h4.6v2.3h-4.6zM484.9 108.0h2.3v2.3h-2.3zM498.8 108.0h2.3v2.3h-2.3zM556.8 108.0h4.6v2.3h-4.6zM635.6 108.0h2.3v2.3h-2.3zM640.2 108.0h2.3v2.3h-2.3zM549.8 110.3h2.3v2.3h-2.3zM556.8 110.3h2.3v2.3h-2.3zM561.4 110.3h2.3v2.3h-2.3zM635.6 110.3h7.0v2.3h-7.0zM487.2 112.7h2.3v2.3h-2.3zM552.1 112.7h2.3v2.3h-2.3zM637.9 112.7h4.6v2.3h-4.6zM489.5 115.0h2.3v2.3h-2.3zM494.2 115.0h4.6v2.3h-4.6zM552.1 115.0h2.3v2.3h-2.3zM631.0 115.0h2.3v2.3h-2.3zM635.6 115.0h2.3v2.3h-2.3zM640.2 115.0h2.3v2.3h-2.3zM487.2 117.3h2.3v2.3h-2.3zM635.6 117.3h2.3v2.3h-2.3zM477.9 121.9h2.3v2.3h-2.3zM489.5 121.9h2.3v2.3h-2.3zM477.9 124.3h4.6v2.3h-4.6zM477.9 126.6h4.6v2.3h-4.6zM665.7 128.9h2.3v2.3h-2.3z" fill="#f2e8c2"/>
<path d="M475.6 29.1h2.3v2.3h-2.3zM480.3 29.1h2.3v2.3h-2.3zM475.6 31.5h2.3v2.3h-2.3zM459.4 33.8h2.3v2.3h-2.3zM473.3 33.8h2.3v2.3h-2.3zM577.6 36.1h2.3v2.3h-2.3zM471.0 38.4h2.3v2.3h-2.3zM593.9 38.4h2.3v2.3h-2.3zM450.1 40.7h2.3v2.3h-2.3zM468.7 40.7h2.3v2.3h-2.3zM482.6 40.7h2.3v2.3h-2.3zM582.3 40.7h2.3v2.3h-2.3zM593.9 40.7h2.3v2.3h-2.3zM619.4 40.7h2.3v2.3h-2.3zM452.4 43.1h2.3v2.3h-2.3zM468.7 43.1h2.3v2.3h-2.3zM480.3 43.1h4.6v2.3h-4.6zM631.0 43.1h2.3v2.3h-2.3zM635.6 43.1h2.3v2.3h-2.3zM450.1 45.4h2.3v2.3h-2.3zM461.7 45.4h2.3v2.3h-2.3zM556.8 45.4h2.3v2.3h-2.3zM603.1 45.4h2.3v2.3h-2.3zM665.7 45.4h2.3v2.3h-2.3zM433.9 47.7h4.6v2.3h-4.6zM459.4 47.7h4.6v2.3h-4.6zM554.4 47.7h2.3v2.3h-2.3zM626.3 47.7h2.3v2.3h-2.3zM433.9 50.0h2.3v2.3h-2.3zM475.6 50.0h2.3v2.3h-2.3zM552.1 50.0h2.3v2.3h-2.3zM561.4 50.0h2.3v2.3h-2.3zM573.0 50.0h2.3v2.3h-2.3zM577.6 50.0h2.3v2.3h-2.3zM596.2 50.0h2.3v2.3h-2.3zM617.0 50.0h2.3v2.3h-2.3zM621.7 50.0h4.6v2.3h-4.6zM438.5 52.3h2.3v2.3h-2.3zM459.4 52.3h2.3v2.3h-2.3zM468.7 52.3h2.3v2.3h-2.3zM484.9 52.3h2.3v2.3h-2.3zM528.9 52.3h2.3v2.3h-2.3zM533.6 52.3h2.3v2.3h-2.3zM573.0 52.3h2.3v2.3h-2.3zM577.6 52.3h7.0v2.3h-7.0zM596.2 52.3h4.6v2.3h-4.6zM605.5 52.3h4.6v2.3h-4.6zM621.7 52.3h2.3v2.3h-2.3zM628.6 52.3h2.3v2.3h-2.3zM633.3 52.3h2.3v2.3h-2.3zM642.5 52.3h2.3v2.3h-2.3zM656.5 52.3h2.3v2.3h-2.3zM452.4 54.7h2.3v2.3h-2.3zM459.4 54.7h2.3v2.3h-2.3zM466.4 54.7h2.3v2.3h-2.3zM475.6 54.7h2.3v2.3h-2.3zM480.3 54.7h4.6v2.3h-4.6zM549.8 54.7h2.3v2.3h-2.3zM559.1 54.7h2.3v2.3h-2.3zM568.4 54.7h2.3v2.3h-2.3zM575.3 54.7h2.3v2.3h-2.3zM605.5 54.7h2.3v2.3h-2.3zM610.1 54.7h2.3v2.3h-2.3zM614.7 54.7h2.3v2.3h-2.3zM635.6 54.7h4.6v2.3h-4.6zM440.8 57.0h2.3v2.3h-2.3zM445.5 57.0h2.3v2.3h-2.3zM452.4 57.0h4.6v2.3h-4.6zM475.6 57.0h2.3v2.3h-2.3zM535.9 57.0h2.3v2.3h-2.3zM561.4 57.0h2.3v2.3h-2.3zM584.6 57.0h2.3v2.3h-2.3zM591.5 57.0h2.3v2.3h-2.3zM600.8 57.0h4.6v2.3h-4.6zM610.1 57.0h4.6v2.3h-4.6zM644.9 57.0h2.3v2.3h-2.3zM445.5 59.3h4.6v2.3h-4.6zM473.3 59.3h2.3v2.3h-2.3zM528.9 59.3h2.3v2.3h-2.3zM554.4 59.3h2.3v2.3h-2.3zM575.3 59.3h4.6v2.3h-4.6zM584.6 59.3h7.0v2.3h-7.0zM598.5 59.3h2.3v2.3h-2.3zM603.1 59.3h2.3v2.3h-2.3zM617.0 59.3h2.3v2.3h-2.3zM621.7 59.3h2.3v2.3h-2.3zM531.3 61.6h2.3v2.3h-2.3zM561.4 61.6h2.3v2.3h-2.3zM573.0 61.6h2.3v2.3h-2.3zM584.6 61.6h2.3v2.3h-2.3zM591.5 61.6h4.6v2.3h-4.6zM624.0 61.6h2.3v2.3h-2.3zM461.7 63.9h2.3v2.3h-2.3zM471.0 63.9h2.3v2.3h-2.3zM528.9 63.9h4.6v2.3h-4.6zM552.1 63.9h2.3v2.3h-2.3zM573.0 63.9h2.3v2.3h-2.3zM593.9 63.9h7.0v2.3h-7.0zM628.6 63.9h2.3v2.3h-2.3zM464.0 66.3h2.3v2.3h-2.3zM570.7 66.3h2.3v2.3h-2.3zM591.5 66.3h2.3v2.3h-2.3zM450.1 68.6h2.3v2.3h-2.3zM468.7 68.6h2.3v2.3h-2.3zM568.4 68.6h4.6v2.3h-4.6zM586.9 68.6h2.3v2.3h-2.3zM607.8 68.6h2.3v2.3h-2.3zM450.1 70.9h4.6v2.3h-4.6zM459.4 70.9h2.3v2.3h-2.3zM531.3 70.9h2.3v2.3h-2.3zM538.2 70.9h2.3v2.3h-2.3zM566.0 70.9h4.6v2.3h-4.6zM524.3 73.2h2.3v2.3h-2.3zM533.6 73.2h2.3v2.3h-2.3zM566.0 73.2h2.3v2.3h-2.3zM582.3 73.2h4.6v2.3h-4.6zM603.1 73.2h2.3v2.3h-2.3zM607.8 73.2h2.3v2.3h-2.3zM524.3 75.5h2.3v2.3h-2.3zM533.6 75.5h2.3v2.3h-2.3zM542.9 75.5h2.3v2.3h-2.3zM547.5 75.5h2.3v2.3h-2.3zM556.8 75.5h2.3v2.3h-2.3zM561.4 75.5h2.3v2.3h-2.3zM566.0 75.5h2.3v2.3h-2.3zM573.0 75.5h2.3v2.3h-2.3zM454.8 77.9h2.3v2.3h-2.3zM466.4 77.9h2.3v2.3h-2.3zM477.9 77.9h2.3v2.3h-2.3zM568.4 77.9h2.3v2.3h-2.3zM575.3 77.9h2.3v2.3h-2.3zM459.4 80.2h2.3v2.3h-2.3zM542.9 80.2h2.3v2.3h-2.3zM573.0 80.2h2.3v2.3h-2.3zM614.7 80.2h2.3v2.3h-2.3zM468.7 82.5h2.3v2.3h-2.3zM522.0 82.5h2.3v2.3h-2.3zM533.6 82.5h2.3v2.3h-2.3zM563.7 82.5h2.3v2.3h-2.3zM568.4 82.5h2.3v2.3h-2.3zM612.4 82.5h2.3v2.3h-2.3zM617.0 82.5h2.3v2.3h-2.3zM482.6 84.8h2.3v2.3h-2.3zM535.9 84.8h2.3v2.3h-2.3zM552.1 84.8h4.6v2.3h-4.6zM561.4 84.8h2.3v2.3h-2.3zM566.0 84.8h4.6v2.3h-4.6zM542.9 87.1h4.6v2.3h-4.6zM568.4 87.1h2.3v2.3h-2.3zM631.0 87.1h2.3v2.3h-2.3zM491.9 89.5h2.3v2.3h-2.3zM540.5 89.5h2.3v2.3h-2.3zM547.5 89.5h2.3v2.3h-2.3zM624.0 89.5h2.3v2.3h-2.3zM477.9 91.8h2.3v2.3h-2.3zM549.8 91.8h2.3v2.3h-2.3zM568.4 91.8h2.3v2.3h-2.3zM612.4 91.8h2.3v2.3h-2.3zM624.0 91.8h2.3v2.3h-2.3zM480.3 94.1h4.6v2.3h-4.6zM614.7 94.1h2.3v2.3h-2.3zM484.9 96.4h2.3v2.3h-2.3zM477.9 98.7h4.6v2.3h-4.6zM487.2 98.7h4.6v2.3h-4.6zM552.1 98.7h2.3v2.3h-2.3zM561.4 98.7h2.3v2.3h-2.3zM619.4 98.7h2.3v2.3h-2.3zM475.6 101.1h2.3v2.3h-2.3zM489.5 101.1h2.3v2.3h-2.3zM635.6 103.4h4.6v2.3h-4.6zM482.6 105.7h2.3v2.3h-2.3zM559.1 105.7h4.6v2.3h-4.6zM570.7 105.7h4.6v2.3h-4.6zM631.0 105.7h2.3v2.3h-2.3zM633.3 108.0h2.3v2.3h-2.3zM644.9 108.0h2.3v2.3h-2.3zM491.9 110.3h2.3v2.3h-2.3zM552.1 110.3h2.3v2.3h-2.3zM624.0 110.3h2.3v2.3h-2.3zM628.6 110.3h7.0v2.3h-7.0zM647.2 110.3h2.3v2.3h-2.3zM482.6 112.7h2.3v2.3h-2.3zM549.8 112.7h2.3v2.3h-2.3zM624.0 112.7h9.3v2.3h-9.3zM635.6 112.7h2.3v2.3h-2.3zM559.1 115.0h2.3v2.3h-2.3zM626.3 115.0h4.6v2.3h-4.6zM633.3 115.0h2.3v2.3h-2.3zM637.9 115.0h2.3v2.3h-2.3zM482.6 117.3h2.3v2.3h-2.3zM489.5 117.3h2.3v2.3h-2.3zM552.1 117.3h4.6v2.3h-4.6zM640.2 117.3h2.3v2.3h-2.3zM482.6 119.6h4.6v2.3h-4.6zM626.3 119.6h2.3v2.3h-2.3zM482.6 121.9h7.0v2.3h-7.0zM670.4 121.9h2.3v2.3h-2.3zM477.9 131.2h2.3v2.3h-2.3z" fill="#f5f5f5"/>
<path d="M477.9 29.1h2.3v2.3h-2.3zM482.6 29.1h4.6v2.3h-4.6zM582.3 33.8h2.3v2.3h-2.3zM614.7 33.8h2.3v2.3h-2.3zM440.8 36.1h2.3v2.3h-2.3zM464.0 36.1h2.3v2.3h-2.3zM610.1 36.1h11.6v2.3h-11.6zM624.0 36.1h2.3v2.3h-2.3zM631.0 36.1h2.3v2.3h-2.3zM445.5 38.4h2.3v2.3h-2.3zM556.8 38.4h2.3v2.3h-2.3zM589.2 38.4h2.3v2.3h-2.3zM598.5 38.4h7.0v2.3h-7.0zM617.0 38.4h4.6v2.3h-4.6zM624.0 38.4h2.3v2.3h-2.3zM628.6 38.4h2.3v2.3h-2.3zM644.9 38.4h2.3v2.3h-2.3zM651.8 38.4h4.6v2.3h-4.6zM457.1 40.7h2.3v2.3h-2.3zM480.3 40.7h2.3v2.3h-2.3zM549.8 40.7h2.3v2.3h-2.3zM561.4 40.7h2.3v2.3h-2.3zM575.3 40.7h2.3v2.3h-2.3zM579.9 40.7h2.3v2.3h-2.3zM584.6 40.7h2.3v2.3h-2.3zM596.2 40.7h2.3v2.3h-2.3zM600.8 40.7h4.6v2.3h-4.6zM612.4 40.7h7.0v2.3h-7.0zM626.3 40.7h2.3v2.3h-2.3zM640.2 40.7h4.6v2.3h-4.6zM647.2 40.7h2.3v2.3h-2.3zM443.2 43.1h4.6v2.3h-4.6zM450.1 43.1h2.3v2.3h-2.3zM464.0 43.1h4.6v2.3h-4.6zM545.2 43.1h2.3v2.3h-2.3zM556.8 43.1h4.6v2.3h-4.6zM570.7 43.1h4.6v2.3h-4.6zM582.3 43.1h2.3v2.3h-2.3zM603.1 43.1h2.3v2.3h-2.3zM607.8 43.1h2.3v2.3h-2.3zM628.6 43.1h2.3v2.3h-2.3zM637.9 43.1h2.3v2.3h-2.3zM656.5 43.1h2.3v2.3h-2.3zM661.1 43.1h4.6v2.3h-4.6zM670.4 43.1h2.3v2.3h-2.3zM459.4 45.4h2.3v2.3h-2.3zM559.1 45.4h4.6v2.3h-4.6zM577.6 45.4h2.3v2.3h-2.3zM582.3 45.4h4.6v2.3h-4.6zM596.2 45.4h2.3v2.3h-2.3zM600.8 45.4h2.3v2.3h-2.3zM605.5 45.4h4.6v2.3h-4.6zM612.4 45.4h2.3v2.3h-2.3zM635.6 45.4h2.3v2.3h-2.3zM642.5 45.4h2.3v2.3h-2.3zM651.8 45.4h4.6v2.3h-4.6zM668.0 45.4h2.3v2.3h-2.3zM480.3 47.7h2.3v2.3h-2.3zM545.2 47.7h2.3v2.3h-2.3zM556.8 47.7h2.3v2.3h-2.3zM589.2 47.7h2.3v2.3h-2.3zM598.5 47.7h2.3v2.3h-2.3zM614.7 47.7h4.6v2.3h-4.6zM621.7 47.7h4.6v2.3h-4.6zM635.6 47.7h2.3v2.3h-2.3zM640.2 47.7h2.3v2.3h-2.3zM468.7 50.0h2.3v2.3h-2.3zM477.9 50.0h4.6v2.3h-4.6zM484.9 50.0h2.3v2.3h-2.3zM568.4 50.0h2.3v2.3h-2.3zM593.9 50.0h2.3v2.3h-2.3zM626.3 50.0h2.3v2.3h-2.3zM440.8 52.3h2.3v2.3h-2.3zM464.0 52.3h2.3v2.3h-2.3zM482.6 52.3h2.3v2.3h-2.3zM487.2 52.3h2.3v2.3h-2.3zM531.3 52.3h2.3v2.3h-2.3zM535.9 52.3h13.9v2.3h-13.9zM552.1 52.3h4.6v2.3h-4.6zM589.2 52.3h7.0v2.3h-7.0zM624.0 52.3h2.3v2.3h-2.3zM631.0 52.3h2.3v2.3h-2.3zM637.9 52.3h4.6v2.3h-4.6zM644.9 52.3h2.3v2.3h-2.3zM440.8 54.7h4.6v2.3h-4.6zM447.8 54.7h2.3v2.3h-2.3zM468.7 54.7h2.3v2.3h-2.3zM477.9 54.7h2.3v2.3h-2.3zM491.9 54.7h2.3v2.3h-2.3zM535.9 54.7h2.3v2.3h-2.3zM547.5 54.7h2.3v2.3h-2.3zM552.1 54.7h4.6v2.3h-4.6zM593.9 54.7h2.3v2.3h-2.3zM624.0 54.7h2.3v2.3h-2.3zM631.0 54.7h4.6v2.3h-4.6zM642.5 54.7h4.6v2.3h-4.6zM450.1 57.0h2.3v2.3h-2.3zM468.7 57.0h2.3v2.3h-2.3zM473.3 57.0h2.3v2.3h-2.3zM480.3 57.0h2.3v2.3h-2.3zM484.9 57.0h2.3v2.3h-2.3zM631.0 57.0h2.3v2.3h-2.3zM635.6 57.0h2.3v2.3h-2.3zM443.2 59.3h2.3v2.3h-2.3zM452.4 59.3h4.6v2.3h-4.6zM466.4 59.3h7.0v2.3h-7.0zM475.6 59.3h4.6v2.3h-4.6zM547.5 59.3h2.3v2.3h-2.3zM552.1 59.3h2.3v2.3h-2.3zM591.5 59.3h4.6v2.3h-4.6zM600.8 59.3h2.3v2.3h-2.3zM635.6 59.3h4.6v2.3h-4.6zM644.9 59.3h2.3v2.3h-2.3zM440.8 61.6h4.6v2.3h-4.6zM452.4 61.6h2.3v2.3h-2.3zM457.1 61.6h4.6v2.3h-4.6zM466.4 61.6h2.3v2.3h-2.3zM577.6 61.6h4.6v2.3h-4.6zM600.8 61.6h2.3v2.3h-2.3zM631.0 61.6h4.6v2.3h-4.6zM445.5 63.9h2.3v2.3h-2.3zM452.4 63.9h4.6v2.3h-4.6zM468.7 63.9h2.3v2.3h-2.3zM475.6 63.9h2.3v2.3h-2.3zM577.6 63.9h2.3v2.3h-2.3zM582.3 63.9h7.0v2.3h-7.0zM600.8 63.9h2.3v2.3h-2.3zM633.3 63.9h2.3v2.3h-2.3zM452.4 66.3h2.3v2.3h-2.3zM468.7 66.3h4.6v2.3h-4.6zM575.3 66.3h2.3v2.3h-2.3zM584.6 66.3h4.6v2.3h-4.6zM637.9 66.3h2.3v2.3h-2.3zM452.4 68.6h4.6v2.3h-4.6zM461.7 68.6h7.0v2.3h-7.0zM471.0 68.6h2.3v2.3h-2.3zM528.9 68.6h2.3v2.3h-2.3zM457.1 70.9h2.3v2.3h-2.3zM563.7 70.9h2.3v2.3h-2.3zM454.8 73.2h4.6v2.3h-4.6zM535.9 73.2h2.3v2.3h-2.3zM563.7 73.2h2.3v2.3h-2.3zM454.8 75.5h4.6v2.3h-4.6zM522.0 75.5h2.3v2.3h-2.3zM603.1 75.5h2.3v2.3h-2.3zM607.8 75.5h2.3v2.3h-2.3zM552.1 77.9h2.3v2.3h-2.3zM573.0 77.9h2.3v2.3h-2.3zM607.8 77.9h2.3v2.3h-2.3zM461.7 80.2h7.0v2.3h-7.0zM528.9 80.2h2.3v2.3h-2.3zM552.1 80.2h2.3v2.3h-2.3zM607.8 80.2h2.3v2.3h-2.3zM617.0 80.2h2.3v2.3h-2.3zM566.0 82.5h2.3v2.3h-2.3zM570.7 82.5h2.3v2.3h-2.3zM468.7 84.8h2.3v2.3h-2.3zM563.7 84.8h2.3v2.3h-2.3zM480.3 87.1h2.3v2.3h-2.3zM487.2 87.1h2.3v2.3h-2.3zM528.9 87.1h4.6v2.3h-4.6zM547.5 87.1h4.6v2.3h-4.6zM554.4 87.1h4.6v2.3h-4.6zM563.7 87.1h2.3v2.3h-2.3zM475.6 89.5h7.0v2.3h-7.0zM545.2 89.5h2.3v2.3h-2.3zM552.1 89.5h2.3v2.3h-2.3zM559.1 89.5h2.3v2.3h-2.3zM566.0 89.5h4.6v2.3h-4.6zM626.3 89.5h2.3v2.3h-2.3zM475.6 91.8h2.3v2.3h-2.3zM491.9 91.8h2.3v2.3h-2.3zM542.9 91.8h2.3v2.3h-2.3zM554.4 91.8h4.6v2.3h-4.6zM614.7 91.8h2.3v2.3h-2.3zM473.3 94.1h2.3v2.3h-2.3zM477.9 94.1h2.3v2.3h-2.3zM489.5 94.1h2.3v2.3h-2.3zM554.4 94.1h2.3v2.3h-2.3zM559.1 94.1h2.3v2.3h-2.3zM566.0 94.1h2.3v2.3h-2.3zM477.9 96.4h2.3v2.3h-2.3zM487.2 96.4h4.6v2.3h-4.6zM496.5 96.4h2.3v2.3h-2.3zM503.4 96.4h2.3v2.3h-2.3zM554.4 96.4h2.3v2.3h-2.3zM473.3 98.7h4.6v2.3h-4.6zM484.9 98.7h2.3v2.3h-2.3zM547.5 98.7h2.3v2.3h-2.3zM556.8 98.7h2.3v2.3h-2.3zM480.3 103.4h2.3v2.3h-2.3zM484.9 103.4h2.3v2.3h-2.3zM489.5 103.4h2.3v2.3h-2.3zM559.1 103.4h2.3v2.3h-2.3zM637.9 105.7h4.6v2.3h-4.6zM482.6 108.0h2.3v2.3h-2.3zM487.2 108.0h2.3v2.3h-2.3zM491.9 108.0h2.3v2.3h-2.3zM496.5 108.0h2.3v2.3h-2.3zM637.9 108.0h2.3v2.3h-2.3zM647.2 108.0h2.3v2.3h-2.3zM626.3 110.3h2.3v2.3h-2.3zM644.9 110.3h2.3v2.3h-2.3zM480.3 112.7h2.3v2.3h-2.3zM491.9 112.7h2.3v2.3h-2.3zM644.9 112.7h2.3v2.3h-2.3zM491.9 115.0h2.3v2.3h-2.3zM549.8 115.0h2.3v2.3h-2.3zM644.9 115.0h2.3v2.3h-2.3zM626.3 117.3h4.6v2.3h-4.6zM549.8 119.6h2.3v2.3h-2.3zM482.6 126.6h2.3v2.3h-2.3zM482.6 128.9h2.3v2.3h-2.3z" fill="#cbece5"/>
<path d="M612.4 31.5h4.6v2.3h-4.6zM603.1 36.1h2.3v2.3h-2.3zM626.3 36.1h2.3v2.3h-2.3zM586.9 38.4h2.3v2.3h-2.3zM596.2 38.4h2.3v2.3h-2.3zM605.5 38.4h2.3v2.3h-2.3zM612.4 38.4h2.3v2.3h-2.3zM635.6 38.4h2.3v2.3h-2.3zM640.2 38.4h4.6v2.3h-4.6zM647.2 38.4h4.6v2.3h-4.6zM656.5 38.4h2.3v2.3h-2.3zM396.8 40.7h2.3v2.3h-2.3zM422.3 40.7h2.3v2.3h-2.3zM429.3 40.7h7.0v2.3h-7.0zM438.5 40.7h2.3v2.3h-2.3zM471.0 40.7h2.3v2.3h-2.3zM547.5 40.7h2.3v2.3h-2.3zM559.1 40.7h2.3v2.3h-2.3zM566.0 40.7h2.3v2.3h-2.3zM573.0 40.7h2.3v2.3h-2.3zM577.6 40.7h2.3v2.3h-2.3zM598.5 40.7h2.3v2.3h-2.3zM610.1 40.7h2.3v2.3h-2.3zM624.0 40.7h2.3v2.3h-2.3zM649.5 40.7h2.3v2.3h-2.3zM661.1 40.7h2.3v2.3h-2.3zM415.3 43.1h2.3v2.3h-2.3zM431.6 43.1h2.3v2.3h-2.3zM447.8 43.1h2.3v2.3h-2.3zM568.4 43.1h2.3v2.3h-2.3zM575.3 43.1h2.3v2.3h-2.3zM584.6 43.1h2.3v2.3h-2.3zM589.2 43.1h7.0v2.3h-7.0zM600.8 43.1h2.3v2.3h-2.3zM605.5 43.1h2.3v2.3h-2.3zM612.4 43.1h4.6v2.3h-4.6zM619.4 43.1h9.3v2.3h-9.3zM640.2 43.1h4.6v2.3h-4.6zM658.8 43.1h2.3v2.3h-2.3zM665.7 43.1h2.3v2.3h-2.3zM415.3 45.4h2.3v2.3h-2.3zM433.9 45.4h4.6v2.3h-4.6zM475.6 45.4h2.3v2.3h-2.3zM542.9 45.4h7.0v2.3h-7.0zM552.1 45.4h2.3v2.3h-2.3zM563.7 45.4h2.3v2.3h-2.3zM570.7 45.4h4.6v2.3h-4.6zM586.9 45.4h4.6v2.3h-4.6zM598.5 45.4h2.3v2.3h-2.3zM617.0 45.4h2.3v2.3h-2.3zM624.0 45.4h2.3v2.3h-2.3zM649.5 45.4h2.3v2.3h-2.3zM658.8 45.4h2.3v2.3h-2.3zM663.4 45.4h2.3v2.3h-2.3zM484.9 47.7h2.3v2.3h-2.3zM531.3 47.7h2.3v2.3h-2.3zM540.5 47.7h2.3v2.3h-2.3zM547.5 47.7h2.3v2.3h-2.3zM559.1 47.7h7.0v2.3h-7.0zM631.0 47.7h2.3v2.3h-2.3zM642.5 47.7h2.3v2.3h-2.3zM658.8 47.7h2.3v2.3h-2.3zM445.5 50.0h2.3v2.3h-2.3zM461.7 50.0h2.3v2.3h-2.3zM531.3 50.0h2.3v2.3h-2.3zM614.7 50.0h2.3v2.3h-2.3zM628.6 50.0h2.3v2.3h-2.3zM633.3 50.0h2.3v2.3h-2.3zM637.9 50.0h2.3v2.3h-2.3zM656.5 50.0h2.3v2.3h-2.3zM457.1 52.3h2.3v2.3h-2.3zM466.4 52.3h2.3v2.3h-2.3zM471.0 52.3h2.3v2.3h-2.3zM489.5 52.3h2.3v2.3h-2.3zM549.8 52.3h2.3v2.3h-2.3zM635.6 52.3h2.3v2.3h-2.3zM464.0 54.7h2.3v2.3h-2.3zM538.2 54.7h2.3v2.3h-2.3zM545.2 54.7h2.3v2.3h-2.3zM626.3 54.7h4.6v2.3h-4.6zM640.2 54.7h2.3v2.3h-2.3zM447.8 57.0h2.3v2.3h-2.3zM464.0 57.0h2.3v2.3h-2.3zM471.0 57.0h2.3v2.3h-2.3zM477.9 57.0h2.3v2.3h-2.3zM482.6 57.0h2.3v2.3h-2.3zM628.6 57.0h2.3v2.3h-2.3zM633.3 57.0h2.3v2.3h-2.3zM637.9 57.0h4.6v2.3h-4.6zM440.8 59.3h2.3v2.3h-2.3zM457.1 59.3h2.3v2.3h-2.3zM480.3 59.3h2.3v2.3h-2.3zM631.0 59.3h4.6v2.3h-4.6zM445.5 61.6h2.3v2.3h-2.3zM454.8 61.6h2.3v2.3h-2.3zM461.7 61.6h2.3v2.3h-2.3zM468.7 61.6h7.0v2.3h-7.0zM457.1 63.9h2.3v2.3h-2.3zM464.0 63.9h2.3v2.3h-2.3zM579.9 63.9h2.3v2.3h-2.3zM443.2 66.3h2.3v2.3h-2.3zM447.8 66.3h2.3v2.3h-2.3zM454.8 66.3h4.6v2.3h-4.6zM473.3 66.3h2.3v2.3h-2.3zM445.5 68.6h4.6v2.3h-4.6zM584.6 68.6h2.3v2.3h-2.3zM584.6 70.9h2.3v2.3h-2.3zM459.4 75.5h2.3v2.3h-2.3zM473.3 75.5h2.3v2.3h-2.3zM457.1 77.9h2.3v2.3h-2.3zM591.5 77.9h2.3v2.3h-2.3zM614.7 77.9h2.3v2.3h-2.3zM591.5 80.2h2.3v2.3h-2.3zM480.3 84.8h2.3v2.3h-2.3zM559.1 84.8h2.3v2.3h-2.3zM617.0 84.8h2.3v2.3h-2.3zM475.6 87.1h4.6v2.3h-4.6zM552.1 87.1h2.3v2.3h-2.3zM559.1 87.1h4.6v2.3h-4.6zM566.0 87.1h2.3v2.3h-2.3zM570.7 87.1h4.6v2.3h-4.6zM484.9 89.5h7.0v2.3h-7.0zM494.2 89.5h2.3v2.3h-2.3zM542.9 89.5h2.3v2.3h-2.3zM549.8 89.5h2.3v2.3h-2.3zM561.4 89.5h4.6v2.3h-4.6zM484.9 91.8h7.0v2.3h-7.0zM545.2 91.8h2.3v2.3h-2.3zM552.1 91.8h2.3v2.3h-2.3zM559.1 91.8h9.3v2.3h-9.3zM542.9 94.1h2.3v2.3h-2.3zM547.5 94.1h4.6v2.3h-4.6zM561.4 94.1h4.6v2.3h-4.6zM473.3 96.4h4.6v2.3h-4.6zM480.3 96.4h2.3v2.3h-2.3zM545.2 96.4h9.3v2.3h-9.3zM556.8 96.4h9.3v2.3h-9.3zM482.6 98.7h2.3v2.3h-2.3zM554.4 98.7h2.3v2.3h-2.3zM559.1 98.7h2.3v2.3h-2.3zM563.7 98.7h2.3v2.3h-2.3zM477.9 101.1h7.0v2.3h-7.0zM563.7 101.1h2.3v2.3h-2.3zM482.6 103.4h2.3v2.3h-2.3zM487.2 103.4h2.3v2.3h-2.3zM480.3 105.7h2.3v2.3h-2.3zM487.2 105.7h4.6v2.3h-4.6zM647.2 105.7h2.3v2.3h-2.3zM642.5 108.0h2.3v2.3h-2.3zM649.5 110.3h2.3v2.3h-2.3zM496.5 112.7h2.3v2.3h-2.3zM633.3 112.7h2.3v2.3h-2.3zM484.9 115.0h4.6v2.3h-4.6zM649.5 119.6h2.3v2.3h-2.3zM644.9 121.9h2.3v2.3h-2.3zM482.6 124.3h2.3v2.3h-2.3zM670.4 124.3h2.3v2.3h-2.3zM477.9 128.9h4.6v2.3h-4.6zM480.3 131.2h2.3v2.3h-2.3zM477.9 133.5h2.3v2.3h-2.3z" fill="#87d2c1"/>
<path d="M607.8 36.1h2.3v2.3h-2.3zM607.8 38.4h4.6v2.3h-4.6zM621.7 38.4h2.3v2.3h-2.3zM633.3 38.4h2.3v2.3h-2.3zM637.9 38.4h2.3v2.3h-2.3zM415.3 40.7h2.3v2.3h-2.3zM426.9 40.7h2.3v2.3h-2.3zM440.8 40.7h2.3v2.3h-2.3zM552.1 40.7h7.0v2.3h-7.0zM586.9 40.7h4.6v2.3h-4.6zM607.8 40.7h2.3v2.3h-2.3zM621.7 40.7h2.3v2.3h-2.3zM628.6 40.7h4.6v2.3h-4.6zM635.6 40.7h4.6v2.3h-4.6zM644.9 40.7h2.3v2.3h-2.3zM651.8 40.7h2.3v2.3h-2.3zM658.8 40.7h2.3v2.3h-2.3zM663.4 40.7h7.0v2.3h-7.0zM672.7 40.7h2.3v2.3h-2.3zM410.7 43.1h4.6v2.3h-4.6zM433.9 43.1h4.6v2.3h-4.6zM440.8 43.1h2.3v2.3h-2.3zM547.5 43.1h2.3v2.3h-2.3zM577.6 43.1h4.6v2.3h-4.6zM586.9 43.1h2.3v2.3h-2.3zM596.2 43.1h4.6v2.3h-4.6zM617.0 43.1h2.3v2.3h-2.3zM644.9 43.1h4.6v2.3h-4.6zM651.8 43.1h2.3v2.3h-2.3zM668.0 43.1h2.3v2.3h-2.3zM438.5 45.4h9.3v2.3h-9.3zM477.9 45.4h2.3v2.3h-2.3zM540.5 45.4h2.3v2.3h-2.3zM554.4 45.4h2.3v2.3h-2.3zM566.0 45.4h4.6v2.3h-4.6zM579.9 45.4h2.3v2.3h-2.3zM591.5 45.4h4.6v2.3h-4.6zM610.1 45.4h2.3v2.3h-2.3zM614.7 45.4h2.3v2.3h-2.3zM621.7 45.4h2.3v2.3h-2.3zM626.3 45.4h4.6v2.3h-4.6zM644.9 45.4h4.6v2.3h-4.6zM413.0 47.7h4.6v2.3h-4.6zM440.8 47.7h2.3v2.3h-2.3zM445.5 47.7h2.3v2.3h-2.3zM566.0 47.7h2.3v2.3h-2.3zM612.4 47.7h2.3v2.3h-2.3zM633.3 47.7h2.3v2.3h-2.3zM457.1 50.0h2.3v2.3h-2.3zM464.0 50.0h4.6v2.3h-4.6zM482.6 50.0h2.3v2.3h-2.3zM487.2 50.0h2.3v2.3h-2.3zM612.4 50.0h2.3v2.3h-2.3zM631.0 50.0h2.3v2.3h-2.3zM635.6 50.0h2.3v2.3h-2.3zM447.8 52.3h2.3v2.3h-2.3zM461.7 52.3h2.3v2.3h-2.3zM475.6 52.3h2.3v2.3h-2.3zM480.3 52.3h2.3v2.3h-2.3zM457.1 54.7h2.3v2.3h-2.3zM461.7 54.7h2.3v2.3h-2.3zM471.0 54.7h4.6v2.3h-4.6zM457.1 57.0h4.6v2.3h-4.6zM466.4 57.0h2.3v2.3h-2.3zM461.7 59.3h4.6v2.3h-4.6zM628.6 59.3h2.3v2.3h-2.3zM464.0 61.6h2.3v2.3h-2.3zM466.4 63.9h2.3v2.3h-2.3zM473.3 63.9h2.3v2.3h-2.3zM642.5 63.9h2.3v2.3h-2.3zM466.4 66.3h2.3v2.3h-2.3zM624.0 66.3h2.3v2.3h-2.3zM640.2 66.3h2.3v2.3h-2.3zM610.1 68.6h2.3v2.3h-2.3zM624.0 68.6h2.3v2.3h-2.3zM471.0 70.9h2.3v2.3h-2.3zM617.0 73.2h2.3v2.3h-2.3zM477.9 84.8h2.3v2.3h-2.3zM482.6 89.5h2.3v2.3h-2.3zM570.7 89.5h2.3v2.3h-2.3zM482.6 91.8h2.3v2.3h-2.3zM475.6 94.1h2.3v2.3h-2.3zM545.2 94.1h2.3v2.3h-2.3zM552.1 94.1h2.3v2.3h-2.3zM482.6 96.4h2.3v2.3h-2.3zM644.9 105.7h2.3v2.3h-2.3zM489.5 108.0h2.3v2.3h-2.3zM642.5 110.3h2.3v2.3h-2.3zM647.2 112.7h4.6v2.3h-4.6zM642.5 115.0h2.3v2.3h-2.3zM642.5 117.3h4.6v2.3h-4.6zM651.8 117.3h2.3v2.3h-2.3zM647.2 119.6h2.3v2.3h-2.3zM649.5 121.9h2.3v2.3h-2.3z" fill="#4ea394"/>
<path d="M605.5 36.1h2.3v2.3h-2.3zM415.3 38.4h2.3v2.3h-2.3zM554.4 38.4h2.3v2.3h-2.3zM631.0 38.4h2.3v2.3h-2.3zM413.0 40.7h2.3v2.3h-2.3zM420.0 40.7h2.3v2.3h-2.3zM424.6 40.7h2.3v2.3h-2.3zM436.2 40.7h2.3v2.3h-2.3zM443.2 40.7h2.3v2.3h-2.3zM447.8 40.7h2.3v2.3h-2.3zM563.7 40.7h2.3v2.3h-2.3zM605.5 40.7h2.3v2.3h-2.3zM633.3 40.7h2.3v2.3h-2.3zM654.1 40.7h4.6v2.3h-4.6zM670.4 40.7h2.3v2.3h-2.3zM420.0 43.1h4.6v2.3h-4.6zM426.9 43.1h4.6v2.3h-4.6zM438.5 43.1h2.3v2.3h-2.3zM549.8 43.1h2.3v2.3h-2.3zM554.4 43.1h2.3v2.3h-2.3zM561.4 43.1h2.3v2.3h-2.3zM633.3 43.1h2.3v2.3h-2.3zM649.5 43.1h2.3v2.3h-2.3zM654.1 43.1h2.3v2.3h-2.3zM408.4 45.4h7.0v2.3h-7.0zM417.7 45.4h9.3v2.3h-9.3zM429.3 45.4h4.6v2.3h-4.6zM447.8 45.4h2.3v2.3h-2.3zM575.3 45.4h2.3v2.3h-2.3zM619.4 45.4h2.3v2.3h-2.3zM631.0 45.4h4.6v2.3h-4.6zM438.5 47.7h2.3v2.3h-2.3zM475.6 47.7h4.6v2.3h-4.6zM568.4 47.7h4.6v2.3h-4.6zM619.4 47.7h2.3v2.3h-2.3zM440.8 50.0h4.6v2.3h-4.6zM445.5 52.3h2.3v2.3h-2.3zM450.1 52.3h2.3v2.3h-2.3zM477.9 52.3h2.3v2.3h-2.3zM461.7 57.0h2.3v2.3h-2.3zM459.4 59.3h2.3v2.3h-2.3zM475.6 61.6h2.3v2.3h-2.3zM621.7 66.3h2.3v2.3h-2.3zM619.4 68.6h4.6v2.3h-4.6zM610.1 70.9h2.3v2.3h-2.3zM617.0 70.9h9.3v2.3h-9.3zM614.7 73.2h2.3v2.3h-2.3zM621.7 73.2h7.0v2.3h-7.0zM617.0 75.5h4.6v2.3h-4.6zM484.9 112.7h2.3v2.3h-2.3zM642.5 112.7h2.3v2.3h-2.3zM651.8 112.7h2.3v2.3h-2.3zM647.2 115.0h4.6v2.3h-4.6zM484.9 117.3h2.3v2.3h-2.3zM647.2 117.3h4.6v2.3h-4.6zM644.9 119.6h2.3v2.3h-2.3zM647.2 121.9h2.3v2.3h-2.3zM484.9 124.3h2.3v2.3h-2.3zM480.3 133.5h2.3v2.3h-2.3z" fill="#277262"/>
<path d="M413.0 38.4h2.3v2.3h-2.3zM417.7 38.4h2.3v2.3h-2.3zM406.1 40.7h7.0v2.3h-7.0zM417.7 40.7h2.3v2.3h-2.3zM445.5 40.7h2.3v2.3h-2.3zM417.7 43.1h2.3v2.3h-2.3zM424.6 43.1h2.3v2.3h-2.3zM566.0 43.1h2.3v2.3h-2.3zM426.9 45.4h2.3v2.3h-2.3zM443.2 47.7h2.3v2.3h-2.3zM447.8 47.7h4.6v2.3h-4.6zM447.8 50.0h9.3v2.3h-9.3zM443.2 52.3h2.3v2.3h-2.3zM452.4 52.3h4.6v2.3h-4.6zM626.3 66.3h2.3v2.3h-2.3zM626.3 68.6h4.6v2.3h-4.6zM612.4 70.9h4.6v2.3h-4.6zM626.3 70.9h4.6v2.3h-4.6zM612.4 73.2h2.3v2.3h-2.3zM619.4 73.2h2.3v2.3h-2.3zM612.4 75.5h4.6v2.3h-4.6zM621.7 75.5h2.3v2.3h-2.3zM644.9 103.4h2.3v2.3h-2.3zM651.8 115.0h2.3v2.3h-2.3zM642.5 119.6h2.3v2.3h-2.3z" fill="#174535"/>
<path d="M480.3 29.1h2.3v2.3h-2.3zM484.9 29.1h2.3v2.3h-2.3zM475.6 31.5h2.3v2.3h-2.3zM443.2 36.1h2.3v2.3h-2.3zM598.5 36.1h2.3v2.3h-2.3zM603.1 36.1h7.0v2.3h-7.0zM624.0 36.1h4.6v2.3h-4.6zM413.0 38.4h4.6v2.3h-4.6zM593.9 38.4h7.0v2.3h-7.0zM607.8 38.4h2.3v2.3h-2.3zM628.6 38.4h4.6v2.3h-4.6zM644.9 38.4h2.3v2.3h-2.3zM651.8 38.4h4.6v2.3h-4.6zM406.1 40.7h2.3v2.3h-2.3zM413.0 40.7h2.3v2.3h-2.3zM424.6 40.7h4.6v2.3h-4.6zM436.2 40.7h13.9v2.3h-13.9zM466.4 40.7h2.3v2.3h-2.3zM547.5 40.7h20.9v2.3h-20.9zM573.0 40.7h7.0v2.3h-7.0zM582.3 40.7h7.0v2.3h-7.0zM596.2 40.7h9.3v2.3h-9.3zM607.8 40.7h2.3v2.3h-2.3zM621.7 40.7h4.6v2.3h-4.6zM631.0 40.7h2.3v2.3h-2.3zM637.9 40.7h9.3v2.3h-9.3zM654.1 40.7h4.6v2.3h-4.6zM661.1 40.7h2.3v2.3h-2.3zM665.7 40.7h2.3v2.3h-2.3zM670.4 40.7h4.6v2.3h-4.6zM410.7 43.1h2.3v2.3h-2.3zM417.7 43.1h2.3v2.3h-2.3zM426.9 43.1h4.6v2.3h-4.6zM436.2 43.1h2.3v2.3h-2.3zM443.2 43.1h2.3v2.3h-2.3zM466.4 43.1h4.6v2.3h-4.6zM545.2 43.1h2.3v2.3h-2.3zM549.8 43.1h2.3v2.3h-2.3zM554.4 43.1h4.6v2.3h-4.6zM561.4 43.1h2.3v2.3h-2.3zM566.0 43.1h23.2v2.3h-23.2zM598.5 43.1h4.6v2.3h-4.6zM605.5 43.1h2.3v2.3h-2.3zM610.1 43.1h2.3v2.3h-2.3zM617.0 43.1h4.6v2.3h-4.6zM631.0 43.1h4.6v2.3h-4.6zM640.2 43.1h2.3v2.3h-2.3zM644.9 43.1h9.3v2.3h-9.3zM658.8 43.1h2.3v2.3h-2.3zM665.7 43.1h4.6v2.3h-4.6zM408.4 45.4h2.3v2.3h-2.3zM415.3 45.4h18.5v2.3h-18.5zM438.5 45.4h2.3v2.3h-2.3zM443.2 45.4h7.0v2.3h-7.0zM475.6 45.4h2.3v2.3h-2.3zM540.5 45.4h7.0v2.3h-7.0zM552.1 45.4h4.6v2.3h-4.6zM559.1 45.4h4.6v2.3h-4.6zM566.0 45.4h7.0v2.3h-7.0zM575.3 45.4h16.2v2.3h-16.2zM593.9 45.4h11.6v2.3h-11.6zM607.8 45.4h2.3v2.3h-2.3zM614.7 45.4h2.3v2.3h-2.3zM619.4 45.4h4.6v2.3h-4.6zM628.6 45.4h9.3v2.3h-9.3zM647.2 45.4h2.3v2.3h-2.3zM658.8 45.4h2.3v2.3h-2.3zM668.0 45.4h2.3v2.3h-2.3zM443.2 47.7h2.3v2.3h-2.3zM447.8 47.7h4.6v2.3h-4.6zM459.4 47.7h2.3v2.3h-2.3zM475.6 47.7h2.3v2.3h-2.3zM540.5 47.7h2.3v2.3h-2.3zM545.2 47.7h4.6v2.3h-4.6zM554.4 47.7h9.3v2.3h-9.3zM568.4 47.7h2.3v2.3h-2.3zM582.3 47.7h2.3v2.3h-2.3zM589.2 47.7h2.3v2.3h-2.3zM603.1 47.7h2.3v2.3h-2.3zM607.8 47.7h7.0v2.3h-7.0zM617.0 47.7h2.3v2.3h-2.3zM621.7 47.7h2.3v2.3h-2.3zM626.3 47.7h9.3v2.3h-9.3zM640.2 47.7h4.6v2.3h-4.6zM433.9 50.0h2.3v2.3h-2.3zM447.8 50.0h4.6v2.3h-4.6zM457.1 50.0h2.3v2.3h-2.3zM461.7 50.0h2.3v2.3h-2.3zM482.6 50.0h7.0v2.3h-7.0zM554.4 50.0h2.3v2.3h-2.3zM566.0 50.0h2.3v2.3h-2.3zM573.0 50.0h2.3v2.3h-2.3zM579.9 50.0h4.6v2.3h-4.6zM586.9 50.0h2.3v2.3h-2.3zM593.9 50.0h4.6v2.3h-4.6zM603.1 50.0h2.3v2.3h-2.3zM607.8 50.0h2.3v2.3h-2.3zM612.4 50.0h2.3v2.3h-2.3zM617.0 50.0h4.6v2.3h-4.6zM626.3 50.0h2.3v2.3h-2.3zM631.0 50.0h2.3v2.3h-2.3zM635.6 50.0h2.3v2.3h-2.3zM450.1 52.3h2.3v2.3h-2.3zM475.6 52.3h4.6v2.3h-4.6zM540.5 52.3h2.3v2.3h-2.3zM568.4 52.3h2.3v2.3h-2.3zM573.0 52.3h2.3v2.3h-2.3zM577.6 52.3h2.3v2.3h-2.3zM589.2 52.3h2.3v2.3h-2.3zM621.7 52.3h7.0v2.3h-7.0zM633.3 52.3h2.3v2.3h-2.3zM637.9 52.3h2.3v2.3h-2.3zM644.9 52.3h2.3v2.3h-2.3zM457.1 54.7h2.3v2.3h-2.3zM461.7 54.7h2.3v2.3h-2.3zM471.0 54.7h4.6v2.3h-4.6zM477.9 54.7h2.3v2.3h-2.3zM538.2 54.7h2.3v2.3h-2.3zM554.4 54.7h2.3v2.3h-2.3zM577.6 54.7h7.0v2.3h-7.0zM589.2 54.7h2.3v2.3h-2.3zM610.1 54.7h2.3v2.3h-2.3zM614.7 54.7h2.3v2.3h-2.3zM631.0 54.7h2.3v2.3h-2.3zM637.9 54.7h4.6v2.3h-4.6zM440.8 57.0h2.3v2.3h-2.3zM450.1 57.0h2.3v2.3h-2.3zM454.8 57.0h2.3v2.3h-2.3zM461.7 57.0h4.6v2.3h-4.6zM473.3 57.0h4.6v2.3h-4.6zM484.9 57.0h2.3v2.3h-2.3zM554.4 57.0h2.3v2.3h-2.3zM566.0 57.0h7.0v2.3h-7.0zM577.6 57.0h4.6v2.3h-4.6zM589.2 57.0h4.6v2.3h-4.6zM600.8 57.0h2.3v2.3h-2.3zM610.1 57.0h2.3v2.3h-2.3zM624.0 57.0h2.3v2.3h-2.3zM640.2 57.0h2.3v2.3h-2.3zM447.8 59.3h2.3v2.3h-2.3zM457.1 59.3h2.3v2.3h-2.3zM468.7 59.3h2.3v2.3h-2.3zM473.3 59.3h4.6v2.3h-4.6zM538.2 59.3h2.3v2.3h-2.3zM549.8 59.3h2.3v2.3h-2.3zM575.3 59.3h4.6v2.3h-4.6zM596.2 59.3h2.3v2.3h-2.3zM607.8 59.3h2.3v2.3h-2.3zM631.0 59.3h2.3v2.3h-2.3zM450.1 61.6h2.3v2.3h-2.3zM454.8 61.6h2.3v2.3h-2.3zM461.7 61.6h2.3v2.3h-2.3zM471.0 61.6h7.0v2.3h-7.0zM528.9 61.6h2.3v2.3h-2.3zM533.6 61.6h2.3v2.3h-2.3zM547.5 61.6h4.6v2.3h-4.6zM568.4 61.6h2.3v2.3h-2.3zM582.3 61.6h4.6v2.3h-4.6zM612.4 61.6h2.3v2.3h-2.3zM621.7 61.6h2.3v2.3h-2.3zM633.3 61.6h2.3v2.3h-2.3zM461.7 63.9h9.3v2.3h-9.3zM473.3 63.9h4.6v2.3h-4.6zM533.6 63.9h2.3v2.3h-2.3zM570.7 63.9h2.3v2.3h-2.3zM603.1 63.9h2.3v2.3h-2.3zM621.7 63.9h4.6v2.3h-4.6zM628.6 63.9h2.3v2.3h-2.3zM464.0 66.3h7.0v2.3h-7.0zM563.7 66.3h4.6v2.3h-4.6zM584.6 66.3h2.3v2.3h-2.3zM596.2 66.3h2.3v2.3h-2.3zM624.0 66.3h2.3v2.3h-2.3zM447.8 68.6h2.3v2.3h-2.3zM459.4 68.6h2.3v2.3h-2.3zM471.0 68.6h2.3v2.3h-2.3zM533.6 68.6h4.6v2.3h-4.6zM542.9 68.6h2.3v2.3h-2.3zM566.0 68.6h2.3v2.3h-2.3zM582.3 68.6h2.3v2.3h-2.3zM603.1 68.6h4.6v2.3h-4.6zM610.1 68.6h4.6v2.3h-4.6zM619.4 68.6h2.3v2.3h-2.3zM624.0 68.6h2.3v2.3h-2.3zM628.6 68.6h2.3v2.3h-2.3zM459.4 70.9h2.3v2.3h-2.3zM528.9 70.9h2.3v2.3h-2.3zM535.9 70.9h4.6v2.3h-4.6zM547.5 70.9h2.3v2.3h-2.3zM552.1 70.9h4.6v2.3h-4.6zM575.3 70.9h2.3v2.3h-2.3zM579.9 70.9h2.3v2.3h-2.3zM610.1 70.9h2.3v2.3h-2.3zM614.7 70.9h16.2v2.3h-16.2zM526.6 73.2h2.3v2.3h-2.3zM531.3 73.2h2.3v2.3h-2.3zM535.9 73.2h4.6v2.3h-4.6zM542.9 73.2h2.3v2.3h-2.3zM549.8 73.2h7.0v2.3h-7.0zM568.4 73.2h2.3v2.3h-2.3zM589.2 73.2h4.6v2.3h-4.6zM614.7 73.2h9.3v2.3h-9.3zM626.3 73.2h2.3v2.3h-2.3zM526.6 75.5h2.3v2.3h-2.3zM531.3 75.5h2.3v2.3h-2.3zM535.9 75.5h2.3v2.3h-2.3zM547.5 75.5h2.3v2.3h-2.3zM554.4 75.5h2.3v2.3h-2.3zM561.4 75.5h2.3v2.3h-2.3zM575.3 75.5h4.6v2.3h-4.6zM598.5 75.5h2.3v2.3h-2.3zM607.8 75.5h2.3v2.3h-2.3zM612.4 75.5h2.3v2.3h-2.3zM617.0 75.5h2.3v2.3h-2.3zM621.7 75.5h2.3v2.3h-2.3zM466.4 77.9h2.3v2.3h-2.3zM528.9 77.9h2.3v2.3h-2.3zM533.6 77.9h2.3v2.3h-2.3zM549.8 77.9h2.3v2.3h-2.3zM554.4 77.9h7.0v2.3h-7.0zM577.6 77.9h2.3v2.3h-2.3zM598.5 77.9h2.3v2.3h-2.3zM545.2 80.2h2.3v2.3h-2.3zM549.8 80.2h9.3v2.3h-9.3zM573.0 80.2h2.3v2.3h-2.3zM593.9 80.2h2.3v2.3h-2.3zM535.9 82.5h2.3v2.3h-2.3zM540.5 82.5h2.3v2.3h-2.3zM547.5 82.5h2.3v2.3h-2.3zM552.1 82.5h2.3v2.3h-2.3zM556.8 82.5h2.3v2.3h-2.3zM561.4 82.5h2.3v2.3h-2.3zM570.7 82.5h2.3v2.3h-2.3zM617.0 82.5h2.3v2.3h-2.3zM468.7 84.8h2.3v2.3h-2.3zM477.9 84.8h2.3v2.3h-2.3zM482.6 84.8h2.3v2.3h-2.3zM526.6 84.8h2.3v2.3h-2.3zM568.4 84.8h2.3v2.3h-2.3zM482.6 87.1h2.3v2.3h-2.3zM487.2 87.1h2.3v2.3h-2.3zM528.9 87.1h2.3v2.3h-2.3zM542.9 87.1h2.3v2.3h-2.3zM549.8 87.1h18.5v2.3h-18.5zM475.6 89.5h2.3v2.3h-2.3zM482.6 89.5h2.3v2.3h-2.3zM487.2 89.5h2.3v2.3h-2.3zM494.2 89.5h2.3v2.3h-2.3zM556.8 89.5h2.3v2.3h-2.3zM561.4 89.5h2.3v2.3h-2.3zM566.0 89.5h2.3v2.3h-2.3zM480.3 91.8h4.6v2.3h-4.6zM545.2 91.8h2.3v2.3h-2.3zM552.1 91.8h2.3v2.3h-2.3zM556.8 91.8h2.3v2.3h-2.3zM566.0 91.8h2.3v2.3h-2.3zM473.3 94.1h9.3v2.3h-9.3zM556.8 94.1h4.6v2.3h-4.6zM563.7 94.1h4.6v2.3h-4.6zM477.9 96.4h13.9v2.3h-13.9zM556.8 96.4h2.3v2.3h-2.3zM473.3 98.7h4.6v2.3h-4.6zM484.9 98.7h4.6v2.3h-4.6zM498.8 98.7h9.3v2.3h-9.3zM556.8 98.7h2.3v2.3h-2.3zM561.4 98.7h2.3v2.3h-2.3zM482.6 101.1h2.3v2.3h-2.3zM487.2 101.1h2.3v2.3h-2.3zM491.9 101.1h2.3v2.3h-2.3zM498.8 101.1h9.3v2.3h-9.3zM547.5 101.1h11.6v2.3h-11.6zM482.6 103.4h4.6v2.3h-4.6zM489.5 103.4h4.6v2.3h-4.6zM496.5 103.4h4.6v2.3h-4.6zM545.2 103.4h2.3v2.3h-2.3zM549.8 103.4h2.3v2.3h-2.3zM554.4 103.4h4.6v2.3h-4.6zM561.4 103.4h2.3v2.3h-2.3zM566.0 103.4h2.3v2.3h-2.3zM635.6 103.4h2.3v2.3h-2.3zM644.9 103.4h2.3v2.3h-2.3zM484.9 105.7h4.6v2.3h-4.6zM496.5 105.7h2.3v2.3h-2.3zM503.4 105.7h2.3v2.3h-2.3zM547.5 105.7h7.0v2.3h-7.0zM556.8 105.7h4.6v2.3h-4.6zM631.0 105.7h2.3v2.3h-2.3zM635.6 105.7h4.6v2.3h-4.6zM487.2 108.0h7.0v2.3h-7.0zM498.8 108.0h7.0v2.3h-7.0zM547.5 108.0h4.6v2.3h-4.6zM559.1 108.0h2.3v2.3h-2.3zM631.0 108.0h2.3v2.3h-2.3zM635.6 108.0h2.3v2.3h-2.3zM640.2 108.0h2.3v2.3h-2.3zM489.5 110.3h7.0v2.3h-7.0zM498.8 110.3h4.6v2.3h-4.6zM552.1 110.3h2.3v2.3h-2.3zM556.8 110.3h2.3v2.3h-2.3zM628.6 110.3h2.3v2.3h-2.3zM547.5 112.7h2.3v2.3h-2.3zM554.4 112.7h4.6v2.3h-4.6zM628.6 112.7h2.3v2.3h-2.3zM633.3 112.7h2.3v2.3h-2.3zM647.2 112.7h2.3v2.3h-2.3zM552.1 115.0h9.3v2.3h-9.3zM624.0 115.0h4.6v2.3h-4.6zM637.9 115.0h2.3v2.3h-2.3zM642.5 115.0h7.0v2.3h-7.0zM552.1 117.3h4.6v2.3h-4.6zM628.6 117.3h2.3v2.3h-2.3zM637.9 117.3h4.6v2.3h-4.6zM480.3 119.6h2.3v2.3h-2.3zM489.5 119.6h2.3v2.3h-2.3zM549.8 119.6h2.3v2.3h-2.3zM477.9 121.9h2.3v2.3h-2.3zM484.9 121.9h2.3v2.3h-2.3zM477.9 128.9h2.3v2.3h-2.3zM480.3 133.5h2.3v2.3h-2.3z" fill="url(#stipb)"/>
<use href="#coast" transform="translate(396.80 24.50) scale(1.0007 1.0000)" fill="none" stroke="#7a7a7a" stroke-width="0.65" stroke-linejoin="round"/>
</g>
<path d="M424.50,84.90 V134.00 M424.00,117.30 H466.90" stroke="#3a3a3a" stroke-width="0.8" fill="none"/>
<path d="M422.50,85.30 H424.50 M422.50,101.30 H424.50 M422.50,117.30 H424.50 M422.50,133.30 H424.50" stroke="#3a3a3a" stroke-width="0.8"/>
<text x="412.80" y="87.70" font-size="6.90" text-anchor="middle" fill="#262626" textLength="14.92" lengthAdjust="spacingAndGlyphs">0.08</text>
<text x="412.80" y="103.70" font-size="6.90" text-anchor="middle" fill="#262626" textLength="14.92" lengthAdjust="spacingAndGlyphs">0.04</text>
<text x="411.90" y="119.70" font-size="6.90" text-anchor="middle" fill="#262626" textLength="4.26" lengthAdjust="spacingAndGlyphs">0</text>
<text x="413.50" y="135.70" font-size="6.90" text-anchor="middle" fill="#262626" textLength="17.34" lengthAdjust="spacingAndGlyphs">-0.04</text>
<path d="M435.40,103.30 V91.30 M431.50,91.30 H439.30" stroke="#333" stroke-width="0.8" fill="none"/>
<rect x="431.20" y="103.30" width="8.40" height="14.00" fill="#3d7ec8" stroke="#1a1a1a" stroke-width="0.6"/>
<path d="M445.65,108.20 V102.30 M441.70,102.30 H449.60" stroke="#555" stroke-width="0.8" fill="none"/>
<rect x="441.40" y="108.20" width="8.50" height="9.10" fill="#a2a2a2" stroke="#444" stroke-width="0.6"/>
<path d="M456.30,120.40 V132.00 M452.40,132.00 H460.20" stroke="#333" stroke-width="0.8" fill="none"/>
<rect x="452.10" y="117.30" width="8.40" height="3.10" fill="#e25a23" stroke="#2a1a10" stroke-width="0.6"/>
<rect x="396.80" y="24.50" width="278.20" height="116.00" fill="none" stroke="#3a3a3a" stroke-width="1"/>
<path d="M393.30,24.50 H396.80 M675.00,24.50 H678.50 M393.30,47.70 H396.80 M675.00,47.70 H678.50 M393.30,70.90 H396.80 M675.00,70.90 H678.50 M393.30,94.10 H396.80 M675.00,94.10 H678.50 M393.30,117.30 H396.80 M675.00,117.30 H678.50 M393.30,140.50 H396.80 M675.00,140.50 H678.50 M396.80,140.50 V144.00 M396.80,21.00 V24.50 M443.17,140.50 V144.00 M443.17,21.00 V24.50 M489.53,140.50 V144.00 M489.53,21.00 V24.50 M535.90,140.50 V144.00 M535.90,21.00 V24.50 M582.27,140.50 V144.00 M582.27,21.00 V24.50 M628.63,140.50 V144.00 M628.63,21.00 V24.50 M675.00,140.50 V144.00 M675.00,21.00 V24.50" stroke="#3a3a3a" stroke-width="1" fill="none"/>
<text x="392.10" y="27.70" font-size="8.76" text-anchor="end" fill="#262626" textLength="21.43" lengthAdjust="spacingAndGlyphs">90°N</text>
<text x="392.10" y="50.90" font-size="8.76" text-anchor="end" fill="#262626" textLength="21.43" lengthAdjust="spacingAndGlyphs">60°N</text>
<text x="392.10" y="74.10" font-size="8.76" text-anchor="end" fill="#262626" textLength="21.43" lengthAdjust="spacingAndGlyphs">30°N</text>
<text x="392.10" y="97.30" font-size="8.76" text-anchor="end" fill="#262626" textLength="9.66" lengthAdjust="spacingAndGlyphs">0°</text>
<text x="392.10" y="120.50" font-size="8.76" text-anchor="end" fill="#262626" textLength="20.46" lengthAdjust="spacingAndGlyphs">30°S</text>
<text x="392.10" y="143.70" font-size="8.76" text-anchor="end" fill="#262626" textLength="20.46" lengthAdjust="spacingAndGlyphs">60°S</text>
<text x="396.80" y="153.10" font-size="8.76" text-anchor="middle" fill="#262626" textLength="20.47" lengthAdjust="spacingAndGlyphs">180°</text>
<text x="443.17" y="153.10" font-size="8.76" text-anchor="middle" fill="#262626" textLength="28.88" lengthAdjust="spacingAndGlyphs">120°W</text>
<text x="489.53" y="153.10" font-size="8.76" text-anchor="middle" fill="#262626" textLength="23.47" lengthAdjust="spacingAndGlyphs">60°W</text>
<text x="535.90" y="153.10" font-size="8.76" text-anchor="middle" fill="#262626" textLength="9.66" lengthAdjust="spacingAndGlyphs">0°</text>
<text x="582.27" y="153.10" font-size="8.76" text-anchor="middle" fill="#262626" textLength="20.44" lengthAdjust="spacingAndGlyphs">60°E</text>
<text x="628.63" y="153.10" font-size="8.76" text-anchor="middle" fill="#262626" textLength="25.85" lengthAdjust="spacingAndGlyphs">120°E</text>
<text x="675.00" y="153.10" font-size="8.76" text-anchor="middle" fill="#262626" textLength="20.47" lengthAdjust="spacingAndGlyphs">180°</text>
<text x="535.90" y="164.90" font-size="11.33" text-anchor="middle" fill="#262626" textLength="54.71" lengthAdjust="spacingAndGlyphs">Longitude</text>
<text x="367.50" y="82.50" font-size="11.33" text-anchor="middle" fill="#262626" textLength="45.27" lengthAdjust="spacingAndGlyphs" transform="rotate(-90 367.50 82.50)">Latitude</text>
<text x="354.50" y="16.50" font-size="20.5" fill="#000">b</text>
<rect x="396.60" y="178.80" width="25.61" height="10.50" fill="#573610"/>
<rect x="421.91" y="178.80" width="25.61" height="10.50" fill="#8f5a1e"/>
<rect x="447.22" y="178.80" width="25.61" height="10.50" fill="#bf8737"/>
<rect x="472.53" y="178.80" width="25.61" height="10.50" fill="#dcc27f"/>
<rect x="497.84" y="178.80" width="25.61" height="10.50" fill="#f2e8c2"/>
<rect x="523.15" y="178.80" width="25.61" height="10.50" fill="#f5f5f5"/>
<rect x="548.45" y="178.80" width="25.61" height="10.50" fill="#cbece5"/>
<rect x="573.76" y="178.80" width="25.61" height="10.50" fill="#87d2c1"/>
<rect x="599.07" y="178.80" width="25.61" height="10.50" fill="#4ea394"/>
<rect x="624.38" y="178.80" width="25.61" height="10.50" fill="#277262"/>
<rect x="649.69" y="178.80" width="25.61" height="10.50" fill="#174535"/>
<path d="M421.91,187.30 V189.30 M447.22,187.30 V189.30 M472.53,187.30 V189.30 M497.84,187.30 V189.30 M523.15,187.30 V189.30 M548.45,187.30 V189.30 M573.76,187.30 V189.30 M599.07,187.30 V189.30 M624.38,187.30 V189.30 M649.69,187.30 V189.30" stroke="#222" stroke-width="0.8"/>
<rect x="396.60" y="178.80" width="278.40" height="10.50" fill="none" stroke="#222" stroke-width="0.8"/>
<text x="421.91" y="201.60" font-size="8.24" text-anchor="middle" fill="#262626" textLength="20.70" lengthAdjust="spacingAndGlyphs">-0.09</text>
<text x="447.22" y="201.60" font-size="8.24" text-anchor="middle" fill="#262626" textLength="20.70" lengthAdjust="spacingAndGlyphs">-0.07</text>
<text x="472.53" y="201.60" font-size="8.24" text-anchor="middle" fill="#262626" textLength="20.70" lengthAdjust="spacingAndGlyphs">-0.05</text>
<text x="497.84" y="201.60" font-size="8.24" text-anchor="middle" fill="#262626" textLength="20.70" lengthAdjust="spacingAndGlyphs">-0.03</text>
<text x="523.15" y="201.60" font-size="8.24" text-anchor="middle" fill="#262626" textLength="20.70" lengthAdjust="spacingAndGlyphs">-0.01</text>
<text x="548.45" y="201.60" font-size="8.24" text-anchor="middle" fill="#262626" textLength="17.81" lengthAdjust="spacingAndGlyphs">0.01</text>
<text x="573.76" y="201.60" font-size="8.24" text-anchor="middle" fill="#262626" textLength="17.81" lengthAdjust="spacingAndGlyphs">0.03</text>
<text x="599.07" y="201.60" font-size="8.24" text-anchor="middle" fill="#262626" textLength="17.81" lengthAdjust="spacingAndGlyphs">0.05</text>
<text x="624.38" y="201.60" font-size="8.24" text-anchor="middle" fill="#262626" textLength="17.81" lengthAdjust="spacingAndGlyphs">0.07</text>
<text x="649.69" y="201.60" font-size="8.24" text-anchor="middle" fill="#262626" textLength="17.81" lengthAdjust="spacingAndGlyphs">0.09</text>
<text x="535.80" y="217.20" font-size="11.6" text-anchor="middle" fill="#262626" textLength="119.5" lengthAdjust="spacingAndGlyphs">LAI response (m<tspan font-size="8.0" dy="-4.6">2</tspan><tspan dy="4.6">·m</tspan><tspan font-size="8.0" dy="-4.6">-2</tspan><tspan dy="4.6">)</tspan></text>
<g clip-path="url(#clipc)">
<path d="M195.4 288.7h2.3v2.3h-2.3zM102.7 298.0h2.3v2.3h-2.3zM102.7 300.3h2.3v2.3h-2.3zM107.4 300.3h2.3v2.3h-2.3zM241.7 302.6h4.6v2.3h-4.6zM241.7 304.9h4.6v2.3h-4.6zM239.4 307.2h2.3v2.3h-2.3zM244.1 307.2h2.3v2.3h-2.3zM239.4 309.6h2.3v2.3h-2.3zM241.7 314.2h2.3v2.3h-2.3zM271.9 344.3h2.3v2.3h-2.3zM137.5 348.9h2.3v2.3h-2.3zM128.2 351.2h2.3v2.3h-2.3z" fill="#323894"/>
<path d="M98.1 291.0h2.3v2.3h-2.3zM86.5 293.3h2.3v2.3h-2.3zM93.5 293.3h2.3v2.3h-2.3zM88.8 295.7h4.6v2.3h-4.6zM100.4 295.7h2.3v2.3h-2.3zM91.2 298.0h2.3v2.3h-2.3zM105.0 298.0h2.3v2.3h-2.3zM91.2 300.3h2.3v2.3h-2.3zM105.0 300.3h2.3v2.3h-2.3zM239.4 304.9h2.3v2.3h-2.3zM237.1 311.9h2.3v2.3h-2.3zM183.8 314.2h2.3v2.3h-2.3zM193.1 314.2h2.3v2.3h-2.3zM239.4 314.2h2.3v2.3h-2.3zM179.2 318.8h2.3v2.3h-2.3zM290.4 337.3h2.3v2.3h-2.3zM292.7 339.7h2.3v2.3h-2.3zM128.2 342.0h2.3v2.3h-2.3zM144.4 342.0h2.3v2.3h-2.3zM190.8 342.0h2.3v2.3h-2.3zM278.8 342.0h2.3v2.3h-2.3zM283.4 342.0h2.3v2.3h-2.3zM292.7 342.0h2.3v2.3h-2.3zM144.4 344.3h2.3v2.3h-2.3zM278.8 344.3h2.3v2.3h-2.3zM132.8 346.6h2.3v2.3h-2.3zM204.7 346.6h2.3v2.3h-2.3zM278.8 346.6h2.3v2.3h-2.3zM274.2 348.9h2.3v2.3h-2.3zM278.8 348.9h4.6v2.3h-4.6zM271.9 351.2h4.6v2.3h-4.6zM285.8 351.2h2.3v2.3h-2.3zM292.7 355.9h2.3v2.3h-2.3z" fill="#4a7bbb"/>
<path d="M54.1 274.8h2.3v2.3h-2.3zM58.7 274.8h2.3v2.3h-2.3zM63.4 274.8h2.3v2.3h-2.3zM58.7 277.1h4.6v2.3h-4.6zM227.8 277.1h2.3v2.3h-2.3zM61.0 279.4h2.3v2.3h-2.3zM77.2 279.4h2.3v2.3h-2.3zM98.1 279.4h2.3v2.3h-2.3zM216.2 279.4h2.3v2.3h-2.3zM239.4 279.4h2.3v2.3h-2.3zM264.9 279.4h4.6v2.3h-4.6zM278.8 279.4h2.3v2.3h-2.3zM107.4 281.8h2.3v2.3h-2.3zM125.9 281.8h2.3v2.3h-2.3zM225.5 281.8h2.3v2.3h-2.3zM241.7 284.1h2.3v2.3h-2.3zM248.7 284.1h2.3v2.3h-2.3zM100.4 286.4h2.3v2.3h-2.3zM218.6 286.4h4.6v2.3h-4.6zM98.1 288.7h2.3v2.3h-2.3zM285.8 288.7h2.3v2.3h-2.3zM100.4 291.0h2.3v2.3h-2.3zM114.3 291.0h2.3v2.3h-2.3zM91.2 293.3h2.3v2.3h-2.3zM112.0 293.3h2.3v2.3h-2.3zM121.3 293.3h2.3v2.3h-2.3zM102.7 295.7h2.3v2.3h-2.3zM88.8 298.0h2.3v2.3h-2.3zM98.1 298.0h2.3v2.3h-2.3zM253.3 298.0h2.3v2.3h-2.3zM274.2 298.0h2.3v2.3h-2.3zM253.3 302.6h2.3v2.3h-2.3zM267.2 302.6h4.6v2.3h-4.6zM95.8 304.9h4.6v2.3h-4.6zM253.3 304.9h2.3v2.3h-2.3zM262.6 307.2h2.3v2.3h-2.3zM188.4 328.1h2.3v2.3h-2.3zM200.0 328.1h4.6v2.3h-4.6zM207.0 332.7h2.3v2.3h-2.3zM197.7 335.0h2.3v2.3h-2.3zM204.7 335.0h2.3v2.3h-2.3zM130.5 339.7h2.3v2.3h-2.3zM190.8 339.7h2.3v2.3h-2.3zM146.8 342.0h2.3v2.3h-2.3zM139.8 344.3h2.3v2.3h-2.3zM130.5 351.2h2.3v2.3h-2.3z" fill="#78aed3"/>
<path d="M251.0 270.2h4.6v2.3h-4.6zM61.0 272.5h4.6v2.3h-4.6zM244.1 272.5h6.9v2.3h-6.9zM253.3 272.5h2.3v2.3h-2.3zM285.8 272.5h6.9v2.3h-6.9zM56.4 274.8h2.3v2.3h-2.3zM61.0 274.8h2.3v2.3h-2.3zM65.7 274.8h7.0v2.3h-7.0zM220.9 274.8h4.6v2.3h-4.6zM232.5 274.8h4.6v2.3h-4.6zM246.4 274.8h4.6v2.3h-4.6zM253.3 274.8h2.3v2.3h-2.3zM257.9 274.8h9.3v2.3h-9.3zM274.2 274.8h9.3v2.3h-9.3zM285.8 274.8h6.9v2.3h-6.9zM56.4 277.1h2.3v2.3h-2.3zM63.4 277.1h16.2v2.3h-16.2zM81.9 277.1h2.3v2.3h-2.3zM107.4 277.1h11.6v2.3h-11.6zM123.6 277.1h2.3v2.3h-2.3zM211.6 277.1h6.9v2.3h-6.9zM223.2 277.1h4.6v2.3h-4.6zM234.8 277.1h6.9v2.3h-6.9zM246.4 277.1h4.6v2.3h-4.6zM253.3 277.1h13.9v2.3h-13.9zM271.9 277.1h13.9v2.3h-13.9zM288.1 277.1h2.3v2.3h-2.3zM54.1 279.4h6.9v2.3h-6.9zM63.4 279.4h9.3v2.3h-9.3zM74.9 279.4h2.3v2.3h-2.3zM79.6 279.4h2.3v2.3h-2.3zM88.8 279.4h9.3v2.3h-9.3zM100.4 279.4h9.3v2.3h-9.3zM121.3 279.4h4.6v2.3h-4.6zM186.1 279.4h2.3v2.3h-2.3zM200.0 279.4h4.6v2.3h-4.6zM207.0 279.4h9.3v2.3h-9.3zM218.6 279.4h2.3v2.3h-2.3zM223.2 279.4h9.3v2.3h-9.3zM234.8 279.4h4.6v2.3h-4.6zM241.7 279.4h9.3v2.3h-9.3zM255.6 279.4h9.3v2.3h-9.3zM269.5 279.4h9.3v2.3h-9.3zM281.1 279.4h9.3v2.3h-9.3zM58.7 281.8h4.6v2.3h-4.6zM77.2 281.8h13.9v2.3h-13.9zM93.5 281.8h4.6v2.3h-4.6zM105.0 281.8h2.3v2.3h-2.3zM121.3 281.8h4.6v2.3h-4.6zM193.1 281.8h2.3v2.3h-2.3zM204.7 281.8h20.9v2.3h-20.9zM227.8 281.8h2.3v2.3h-2.3zM232.5 281.8h4.6v2.3h-4.6zM241.7 281.8h2.3v2.3h-2.3zM248.7 281.8h4.6v2.3h-4.6zM255.6 281.8h2.3v2.3h-2.3zM262.6 281.8h20.8v2.3h-20.8zM81.9 284.1h4.6v2.3h-4.6zM88.8 284.1h9.3v2.3h-9.3zM102.7 284.1h13.9v2.3h-13.9zM121.3 284.1h4.6v2.3h-4.6zM128.2 284.1h7.0v2.3h-7.0zM197.7 284.1h2.3v2.3h-2.3zM211.6 284.1h18.5v2.3h-18.5zM232.5 284.1h4.6v2.3h-4.6zM244.1 284.1h4.6v2.3h-4.6zM251.0 284.1h2.3v2.3h-2.3zM276.5 284.1h6.9v2.3h-6.9zM88.8 286.4h11.6v2.3h-11.6zM102.7 286.4h16.2v2.3h-16.2zM121.3 286.4h4.6v2.3h-4.6zM132.8 286.4h4.6v2.3h-4.6zM183.8 286.4h2.3v2.3h-2.3zM197.7 286.4h2.3v2.3h-2.3zM202.3 286.4h2.3v2.3h-2.3zM209.3 286.4h2.3v2.3h-2.3zM223.2 286.4h2.3v2.3h-2.3zM227.8 286.4h11.6v2.3h-11.6zM241.7 286.4h11.6v2.3h-11.6zM278.8 286.4h2.3v2.3h-2.3zM283.4 286.4h6.9v2.3h-6.9zM86.5 288.7h11.6v2.3h-11.6zM102.7 288.7h4.6v2.3h-4.6zM114.3 288.7h16.2v2.3h-16.2zM186.1 288.7h7.0v2.3h-7.0zM209.3 288.7h9.3v2.3h-9.3zM232.5 288.7h2.3v2.3h-2.3zM241.7 288.7h7.0v2.3h-7.0zM251.0 288.7h2.3v2.3h-2.3zM271.9 288.7h2.3v2.3h-2.3zM278.8 288.7h6.9v2.3h-6.9zM290.4 288.7h2.3v2.3h-2.3zM88.8 291.0h4.6v2.3h-4.6zM95.8 291.0h2.3v2.3h-2.3zM105.0 291.0h2.3v2.3h-2.3zM109.7 291.0h4.6v2.3h-4.6zM116.6 291.0h16.2v2.3h-16.2zM183.8 291.0h4.6v2.3h-4.6zM195.4 291.0h2.3v2.3h-2.3zM264.9 291.0h13.9v2.3h-13.9zM281.1 291.0h6.9v2.3h-6.9zM88.8 293.3h2.3v2.3h-2.3zM102.7 293.3h2.3v2.3h-2.3zM107.4 293.3h4.6v2.3h-4.6zM114.3 293.3h7.0v2.3h-7.0zM123.6 293.3h2.3v2.3h-2.3zM183.8 293.3h2.3v2.3h-2.3zM188.4 293.3h2.3v2.3h-2.3zM193.1 293.3h6.9v2.3h-6.9zM271.9 293.3h4.6v2.3h-4.6zM281.1 293.3h4.6v2.3h-4.6zM114.3 295.7h2.3v2.3h-2.3zM197.7 295.7h2.3v2.3h-2.3zM209.3 295.7h4.6v2.3h-4.6zM253.3 295.7h2.3v2.3h-2.3zM100.4 298.0h2.3v2.3h-2.3zM121.3 298.0h2.3v2.3h-2.3zM257.9 298.0h2.3v2.3h-2.3zM262.6 298.0h4.6v2.3h-4.6zM269.5 298.0h4.6v2.3h-4.6zM88.8 300.3h2.3v2.3h-2.3zM119.0 300.3h2.3v2.3h-2.3zM253.3 300.3h4.6v2.3h-4.6zM260.3 300.3h7.0v2.3h-7.0zM116.6 302.6h2.3v2.3h-2.3zM248.7 302.6h4.6v2.3h-4.6zM255.6 302.6h2.3v2.3h-2.3zM260.3 302.6h7.0v2.3h-7.0zM274.2 302.6h2.3v2.3h-2.3zM100.4 304.9h2.3v2.3h-2.3zM251.0 304.9h2.3v2.3h-2.3zM255.6 304.9h9.3v2.3h-9.3zM267.2 304.9h4.6v2.3h-4.6zM100.4 307.2h4.6v2.3h-4.6zM257.9 307.2h4.6v2.3h-4.6zM102.7 309.6h2.3v2.3h-2.3zM100.4 311.9h2.3v2.3h-2.3zM195.4 314.2h2.3v2.3h-2.3zM174.6 316.5h2.3v2.3h-2.3zM183.8 316.5h4.6v2.3h-4.6zM193.1 316.5h4.6v2.3h-4.6zM200.0 316.5h2.3v2.3h-2.3zM123.6 318.8h2.3v2.3h-2.3zM169.9 318.8h2.3v2.3h-2.3zM183.8 318.8h4.6v2.3h-4.6zM193.1 318.8h6.9v2.3h-6.9zM202.3 318.8h4.6v2.3h-4.6zM209.3 318.8h2.3v2.3h-2.3zM123.6 321.1h2.3v2.3h-2.3zM179.2 321.1h2.3v2.3h-2.3zM183.8 321.1h2.3v2.3h-2.3zM193.1 321.1h2.3v2.3h-2.3zM200.0 321.1h2.3v2.3h-2.3zM186.1 323.4h2.3v2.3h-2.3zM193.1 323.4h2.3v2.3h-2.3zM197.7 323.4h13.9v2.3h-13.9zM188.4 325.8h2.3v2.3h-2.3zM195.4 325.8h9.3v2.3h-9.3zM207.0 325.8h4.6v2.3h-4.6zM135.2 328.1h2.3v2.3h-2.3zM190.8 328.1h9.3v2.3h-9.3zM209.3 328.1h2.3v2.3h-2.3zM190.8 330.4h20.8v2.3h-20.8zM128.2 332.7h4.6v2.3h-4.6zM142.1 332.7h6.9v2.3h-6.9zM190.8 332.7h4.6v2.3h-4.6zM204.7 332.7h2.3v2.3h-2.3zM209.3 332.7h2.3v2.3h-2.3zM125.9 335.0h2.3v2.3h-2.3zM130.5 335.0h2.3v2.3h-2.3zM144.4 335.0h2.3v2.3h-2.3zM151.4 335.0h2.3v2.3h-2.3zM195.4 335.0h2.3v2.3h-2.3zM200.0 335.0h4.6v2.3h-4.6zM207.0 335.0h4.6v2.3h-4.6zM125.9 337.3h6.9v2.3h-6.9zM144.4 337.3h6.9v2.3h-6.9zM193.1 337.3h18.5v2.3h-18.5zM125.9 339.7h2.3v2.3h-2.3zM132.8 339.7h2.3v2.3h-2.3zM142.1 339.7h6.9v2.3h-6.9zM197.7 339.7h9.3v2.3h-9.3zM209.3 339.7h2.3v2.3h-2.3zM130.5 342.0h2.3v2.3h-2.3zM135.2 342.0h4.6v2.3h-4.6zM202.3 342.0h2.3v2.3h-2.3zM288.1 342.0h2.3v2.3h-2.3zM128.2 344.3h4.6v2.3h-4.6zM146.8 344.3h2.3v2.3h-2.3zM130.5 346.6h2.3v2.3h-2.3zM135.2 346.6h2.3v2.3h-2.3zM139.8 346.6h4.6v2.3h-4.6zM197.7 346.6h6.9v2.3h-6.9zM128.2 348.9h9.3v2.3h-9.3zM139.8 348.9h4.6v2.3h-4.6zM135.2 351.2h4.6v2.3h-4.6zM197.7 351.2h2.3v2.3h-2.3zM202.3 351.2h2.3v2.3h-2.3zM292.7 351.2h2.3v2.3h-2.3zM125.9 353.6h9.3v2.3h-9.3zM137.5 353.6h2.3v2.3h-2.3zM195.4 353.6h2.3v2.3h-2.3zM125.9 355.9h6.9v2.3h-6.9zM128.2 358.2h2.3v2.3h-2.3zM128.2 360.5h2.3v2.3h-2.3z" fill="#b0dde9"/>
<path d="M251.0 272.5h2.3v2.3h-2.3zM255.6 272.5h2.3v2.3h-2.3zM72.6 274.8h2.3v2.3h-2.3zM218.6 274.8h2.3v2.3h-2.3zM225.5 274.8h2.3v2.3h-2.3zM239.4 274.8h2.3v2.3h-2.3zM244.1 274.8h2.3v2.3h-2.3zM251.0 274.8h2.3v2.3h-2.3zM255.6 274.8h2.3v2.3h-2.3zM267.2 274.8h6.9v2.3h-6.9zM283.4 274.8h2.3v2.3h-2.3zM121.3 277.1h2.3v2.3h-2.3zM220.9 277.1h2.3v2.3h-2.3zM230.2 277.1h4.6v2.3h-4.6zM241.7 277.1h4.6v2.3h-4.6zM251.0 277.1h2.3v2.3h-2.3zM267.2 277.1h4.6v2.3h-4.6zM285.8 277.1h2.3v2.3h-2.3zM290.4 277.1h2.3v2.3h-2.3zM72.6 279.4h2.3v2.3h-2.3zM81.9 279.4h7.0v2.3h-7.0zM188.4 279.4h7.0v2.3h-7.0zM197.7 279.4h2.3v2.3h-2.3zM220.9 279.4h2.3v2.3h-2.3zM232.5 279.4h2.3v2.3h-2.3zM251.0 279.4h4.6v2.3h-4.6zM290.4 279.4h2.3v2.3h-2.3zM91.2 281.8h2.3v2.3h-2.3zM102.7 281.8h2.3v2.3h-2.3zM230.2 281.8h2.3v2.3h-2.3zM237.1 281.8h4.6v2.3h-4.6zM244.1 281.8h4.6v2.3h-4.6zM253.3 281.8h2.3v2.3h-2.3zM283.4 281.8h2.3v2.3h-2.3zM288.1 281.8h2.3v2.3h-2.3zM79.6 284.1h2.3v2.3h-2.3zM190.8 284.1h2.3v2.3h-2.3zM202.3 284.1h2.3v2.3h-2.3zM209.3 284.1h2.3v2.3h-2.3zM230.2 284.1h2.3v2.3h-2.3zM237.1 284.1h4.6v2.3h-4.6zM271.9 284.1h4.6v2.3h-4.6zM128.2 286.4h4.6v2.3h-4.6zM176.9 286.4h2.3v2.3h-2.3zM211.6 286.4h6.9v2.3h-6.9zM225.5 286.4h2.3v2.3h-2.3zM253.3 286.4h2.3v2.3h-2.3zM271.9 286.4h2.3v2.3h-2.3zM276.5 286.4h2.3v2.3h-2.3zM281.1 286.4h2.3v2.3h-2.3zM290.4 286.4h2.3v2.3h-2.3zM107.4 288.7h4.6v2.3h-4.6zM183.8 288.7h2.3v2.3h-2.3zM197.7 288.7h2.3v2.3h-2.3zM204.7 288.7h2.3v2.3h-2.3zM248.7 288.7h2.3v2.3h-2.3zM276.5 288.7h2.3v2.3h-2.3zM288.1 288.7h2.3v2.3h-2.3zM93.5 291.0h2.3v2.3h-2.3zM107.4 291.0h2.3v2.3h-2.3zM193.1 291.0h2.3v2.3h-2.3zM197.7 291.0h4.6v2.3h-4.6zM207.0 291.0h2.3v2.3h-2.3zM278.8 291.0h2.3v2.3h-2.3zM179.2 293.3h2.3v2.3h-2.3zM190.8 293.3h2.3v2.3h-2.3zM200.0 293.3h2.3v2.3h-2.3zM116.6 295.7h2.3v2.3h-2.3zM179.2 295.7h2.3v2.3h-2.3zM195.4 295.7h2.3v2.3h-2.3zM255.6 295.7h7.0v2.3h-7.0zM251.0 298.0h2.3v2.3h-2.3zM255.6 298.0h2.3v2.3h-2.3zM260.3 298.0h2.3v2.3h-2.3zM267.2 298.0h2.3v2.3h-2.3zM109.7 300.3h2.3v2.3h-2.3zM116.6 300.3h2.3v2.3h-2.3zM248.7 300.3h4.6v2.3h-4.6zM257.9 300.3h2.3v2.3h-2.3zM267.2 300.3h6.9v2.3h-6.9zM257.9 302.6h2.3v2.3h-2.3zM271.9 302.6h2.3v2.3h-2.3zM102.7 304.9h2.3v2.3h-2.3zM264.9 304.9h2.3v2.3h-2.3zM98.1 307.2h2.3v2.3h-2.3zM264.9 307.2h2.3v2.3h-2.3zM100.4 309.6h2.3v2.3h-2.3zM253.3 309.6h4.6v2.3h-4.6zM112.0 311.9h2.3v2.3h-2.3zM181.5 314.2h2.3v2.3h-2.3zM262.6 314.2h2.3v2.3h-2.3zM172.2 316.5h2.3v2.3h-2.3zM176.9 316.5h2.3v2.3h-2.3zM121.3 321.1h2.3v2.3h-2.3zM125.9 321.1h2.3v2.3h-2.3zM172.2 321.1h2.3v2.3h-2.3zM190.8 321.1h2.3v2.3h-2.3zM197.7 321.1h2.3v2.3h-2.3zM139.8 323.4h2.3v2.3h-2.3zM174.6 323.4h2.3v2.3h-2.3zM190.8 323.4h2.3v2.3h-2.3zM125.9 325.8h2.3v2.3h-2.3zM135.2 325.8h2.3v2.3h-2.3zM204.7 325.8h2.3v2.3h-2.3zM137.5 328.1h2.3v2.3h-2.3zM204.7 328.1h4.6v2.3h-4.6zM121.3 330.4h2.3v2.3h-2.3zM137.5 330.4h2.3v2.3h-2.3zM139.8 332.7h2.3v2.3h-2.3zM151.4 332.7h2.3v2.3h-2.3zM195.4 332.7h4.6v2.3h-4.6zM142.1 335.0h2.3v2.3h-2.3zM146.8 335.0h4.6v2.3h-4.6zM193.1 335.0h2.3v2.3h-2.3zM190.8 337.3h2.3v2.3h-2.3zM211.6 337.3h2.3v2.3h-2.3zM137.5 339.7h2.3v2.3h-2.3zM193.1 339.7h2.3v2.3h-2.3zM207.0 339.7h2.3v2.3h-2.3zM132.8 342.0h2.3v2.3h-2.3zM142.1 342.0h2.3v2.3h-2.3zM200.0 342.0h2.3v2.3h-2.3zM207.0 342.0h2.3v2.3h-2.3zM132.8 344.3h7.0v2.3h-7.0zM142.1 344.3h2.3v2.3h-2.3zM207.0 344.3h2.3v2.3h-2.3zM137.5 346.6h2.3v2.3h-2.3zM193.1 348.9h2.3v2.3h-2.3zM200.0 348.9h2.3v2.3h-2.3zM132.8 351.2h2.3v2.3h-2.3zM200.0 351.2h2.3v2.3h-2.3zM135.2 353.6h2.3v2.3h-2.3zM125.9 362.8h2.3v2.3h-2.3zM125.9 367.5h2.3v2.3h-2.3z" fill="#e3f4f8"/>
<path d="M241.7 272.5h2.3v2.3h-2.3zM241.7 274.8h2.3v2.3h-2.3zM218.6 277.1h2.3v2.3h-2.3zM204.7 279.4h2.3v2.3h-2.3zM190.8 281.8h2.3v2.3h-2.3zM257.9 281.8h2.3v2.3h-2.3zM285.8 281.8h2.3v2.3h-2.3zM253.3 284.1h4.6v2.3h-4.6zM260.3 284.1h2.3v2.3h-2.3zM283.4 284.1h2.3v2.3h-2.3zM181.5 286.4h2.3v2.3h-2.3zM186.1 286.4h2.3v2.3h-2.3zM190.8 286.4h6.9v2.3h-6.9zM204.7 286.4h2.3v2.3h-2.3zM239.4 286.4h2.3v2.3h-2.3zM260.3 286.4h2.3v2.3h-2.3zM264.9 286.4h7.0v2.3h-7.0zM274.2 286.4h2.3v2.3h-2.3zM181.5 288.7h2.3v2.3h-2.3zM200.0 288.7h4.6v2.3h-4.6zM257.9 288.7h2.3v2.3h-2.3zM262.6 288.7h2.3v2.3h-2.3zM267.2 288.7h2.3v2.3h-2.3zM274.2 288.7h2.3v2.3h-2.3zM188.4 291.0h2.3v2.3h-2.3zM202.3 291.0h2.3v2.3h-2.3zM121.3 295.7h2.3v2.3h-2.3zM193.1 295.7h2.3v2.3h-2.3zM119.0 298.0h2.3v2.3h-2.3zM114.3 302.6h2.3v2.3h-2.3zM105.0 304.9h2.3v2.3h-2.3zM116.6 304.9h2.3v2.3h-2.3zM255.6 307.2h2.3v2.3h-2.3zM267.2 307.2h2.3v2.3h-2.3zM260.3 309.6h2.3v2.3h-2.3zM102.7 311.9h2.3v2.3h-2.3zM260.3 311.9h2.3v2.3h-2.3zM262.6 318.8h2.3v2.3h-2.3zM130.5 321.1h4.6v2.3h-4.6zM276.5 321.1h2.3v2.3h-2.3zM121.3 323.4h7.0v2.3h-7.0zM121.3 325.8h4.6v2.3h-4.6zM271.9 325.8h2.3v2.3h-2.3zM121.3 328.1h2.3v2.3h-2.3zM260.3 328.1h2.3v2.3h-2.3zM119.0 330.4h2.3v2.3h-2.3zM123.6 330.4h4.6v2.3h-4.6zM130.5 330.4h2.3v2.3h-2.3zM135.2 330.4h2.3v2.3h-2.3zM260.3 330.4h2.3v2.3h-2.3zM290.4 330.4h2.3v2.3h-2.3zM123.6 332.7h4.6v2.3h-4.6zM267.2 332.7h2.3v2.3h-2.3zM290.4 332.7h2.3v2.3h-2.3zM128.2 335.0h2.3v2.3h-2.3zM132.8 335.0h4.6v2.3h-4.6zM132.8 337.3h2.3v2.3h-2.3z" fill="#f2e092"/>
<path d="M79.6 277.1h2.3v2.3h-2.3zM130.5 281.8h2.3v2.3h-2.3zM176.9 281.8h2.3v2.3h-2.3zM186.1 281.8h2.3v2.3h-2.3zM200.0 281.8h4.6v2.3h-4.6zM260.3 281.8h2.3v2.3h-2.3zM86.5 284.1h2.3v2.3h-2.3zM176.9 284.1h2.3v2.3h-2.3zM200.0 284.1h2.3v2.3h-2.3zM204.7 284.1h4.6v2.3h-4.6zM257.9 284.1h2.3v2.3h-2.3zM262.6 284.1h9.3v2.3h-9.3zM81.9 286.4h7.0v2.3h-7.0zM179.2 286.4h2.3v2.3h-2.3zM188.4 286.4h2.3v2.3h-2.3zM200.0 286.4h2.3v2.3h-2.3zM207.0 286.4h2.3v2.3h-2.3zM255.6 286.4h4.6v2.3h-4.6zM262.6 286.4h2.3v2.3h-2.3zM112.0 288.7h2.3v2.3h-2.3zM193.1 288.7h2.3v2.3h-2.3zM207.0 288.7h2.3v2.3h-2.3zM260.3 288.7h2.3v2.3h-2.3zM264.9 288.7h2.3v2.3h-2.3zM269.5 288.7h2.3v2.3h-2.3zM102.7 291.0h2.3v2.3h-2.3zM179.2 291.0h4.6v2.3h-4.6zM190.8 291.0h2.3v2.3h-2.3zM105.0 293.3h2.3v2.3h-2.3zM125.9 293.3h2.3v2.3h-2.3zM174.6 293.3h2.3v2.3h-2.3zM181.5 293.3h2.3v2.3h-2.3zM211.6 293.3h2.3v2.3h-2.3zM107.4 295.7h7.0v2.3h-7.0zM119.0 295.7h2.3v2.3h-2.3zM174.6 295.7h4.6v2.3h-4.6zM107.4 298.0h7.0v2.3h-7.0zM176.9 298.0h2.3v2.3h-2.3zM190.8 298.0h2.3v2.3h-2.3zM202.3 298.0h4.6v2.3h-4.6zM112.0 300.3h4.6v2.3h-4.6zM109.7 302.6h4.6v2.3h-4.6zM176.9 302.6h4.6v2.3h-4.6zM248.7 304.9h2.3v2.3h-2.3zM241.7 307.2h2.3v2.3h-2.3zM251.0 307.2h4.6v2.3h-4.6zM105.0 309.6h2.3v2.3h-2.3zM262.6 309.6h6.9v2.3h-6.9zM239.4 311.9h2.3v2.3h-2.3zM253.3 311.9h6.9v2.3h-6.9zM264.9 311.9h2.3v2.3h-2.3zM253.3 314.2h2.3v2.3h-2.3zM257.9 314.2h4.6v2.3h-4.6zM179.2 316.5h4.6v2.3h-4.6zM190.8 316.5h2.3v2.3h-2.3zM197.7 316.5h2.3v2.3h-2.3zM257.9 316.5h6.9v2.3h-6.9zM125.9 318.8h6.9v2.3h-6.9zM172.2 318.8h7.0v2.3h-7.0zM181.5 318.8h2.3v2.3h-2.3zM190.8 318.8h2.3v2.3h-2.3zM128.2 321.1h2.3v2.3h-2.3zM176.9 321.1h2.3v2.3h-2.3zM181.5 321.1h2.3v2.3h-2.3zM128.2 323.4h2.3v2.3h-2.3zM132.8 323.4h7.0v2.3h-7.0zM188.4 323.4h2.3v2.3h-2.3zM255.6 323.4h2.3v2.3h-2.3zM269.5 323.4h2.3v2.3h-2.3zM128.2 325.8h7.0v2.3h-7.0zM137.5 325.8h2.3v2.3h-2.3zM190.8 325.8h2.3v2.3h-2.3zM260.3 325.8h2.3v2.3h-2.3zM269.5 325.8h2.3v2.3h-2.3zM128.2 328.1h7.0v2.3h-7.0zM128.2 330.4h2.3v2.3h-2.3zM132.8 330.4h2.3v2.3h-2.3zM285.8 330.4h4.6v2.3h-4.6zM119.0 332.7h4.6v2.3h-4.6zM132.8 332.7h2.3v2.3h-2.3zM137.5 332.7h2.3v2.3h-2.3zM149.1 332.7h2.3v2.3h-2.3zM200.0 332.7h4.6v2.3h-4.6zM264.9 332.7h2.3v2.3h-2.3zM137.5 335.0h2.3v2.3h-2.3zM135.2 337.3h6.9v2.3h-6.9zM128.2 339.7h2.3v2.3h-2.3zM135.2 339.7h2.3v2.3h-2.3zM139.8 339.7h2.3v2.3h-2.3zM149.1 339.7h2.3v2.3h-2.3zM195.4 339.7h2.3v2.3h-2.3zM276.5 339.7h2.3v2.3h-2.3zM281.1 339.7h2.3v2.3h-2.3zM139.8 342.0h2.3v2.3h-2.3zM149.1 342.0h2.3v2.3h-2.3zM197.7 342.0h2.3v2.3h-2.3zM204.7 342.0h2.3v2.3h-2.3zM276.5 342.0h2.3v2.3h-2.3zM290.4 342.0h2.3v2.3h-2.3zM193.1 344.3h4.6v2.3h-4.6zM204.7 344.3h2.3v2.3h-2.3zM292.7 344.3h2.3v2.3h-2.3zM128.2 346.6h2.3v2.3h-2.3zM193.1 346.6h2.3v2.3h-2.3zM281.1 346.6h2.3v2.3h-2.3zM276.5 348.9h2.3v2.3h-2.3zM292.7 348.9h2.3v2.3h-2.3zM125.9 351.2h2.3v2.3h-2.3zM139.8 351.2h2.3v2.3h-2.3zM195.4 351.2h2.3v2.3h-2.3zM276.5 351.2h4.6v2.3h-4.6zM283.4 351.2h2.3v2.3h-2.3zM288.1 351.2h4.6v2.3h-4.6zM297.3 351.2h2.3v2.3h-2.3zM288.1 353.6h2.3v2.3h-2.3zM132.8 355.9h2.3v2.3h-2.3zM295.0 355.9h2.3v2.3h-2.3zM125.9 358.2h2.3v2.3h-2.3zM130.5 358.2h2.3v2.3h-2.3zM125.9 360.5h2.3v2.3h-2.3zM128.2 362.8h2.3v2.3h-2.3zM125.9 365.1h2.3v2.3h-2.3z" fill="#f0a95f"/>
<path d="M114.3 298.0h4.6v2.3h-4.6zM237.1 309.6h2.3v2.3h-2.3zM241.7 309.6h4.6v2.3h-4.6zM257.9 309.6h2.3v2.3h-2.3zM237.1 314.2h2.3v2.3h-2.3zM255.6 314.2h2.3v2.3h-2.3zM130.5 323.4h2.3v2.3h-2.3zM123.6 328.1h4.6v2.3h-4.6zM135.2 332.7h2.3v2.3h-2.3zM271.9 348.9h2.3v2.3h-2.3zM283.4 348.9h2.3v2.3h-2.3zM288.1 348.9h2.3v2.3h-2.3zM295.0 348.9h2.3v2.3h-2.3zM295.0 351.2h2.3v2.3h-2.3zM290.4 353.6h2.3v2.3h-2.3z" fill="#ea6d45"/>
<path d="M202.3 295.7h2.3v2.3h-2.3zM174.6 298.0h2.3v2.3h-2.3zM176.9 300.3h2.3v2.3h-2.3zM237.1 302.6h4.6v2.3h-4.6zM237.1 304.9h2.3v2.3h-2.3zM237.1 307.2h2.3v2.3h-2.3zM241.7 311.9h4.6v2.3h-4.6zM207.0 318.8h2.3v2.3h-2.3zM202.3 321.1h7.0v2.3h-7.0zM139.8 335.0h2.3v2.3h-2.3zM278.8 339.7h2.3v2.3h-2.3zM193.1 342.0h4.6v2.3h-4.6zM274.2 342.0h2.3v2.3h-2.3zM281.1 342.0h2.3v2.3h-2.3zM197.7 344.3h6.9v2.3h-6.9zM290.4 344.3h2.3v2.3h-2.3zM295.0 344.3h2.3v2.3h-2.3zM276.5 346.6h2.3v2.3h-2.3zM202.3 348.9h4.6v2.3h-4.6zM290.4 348.9h2.3v2.3h-2.3zM281.1 351.2h2.3v2.3h-2.3zM292.7 353.6h4.6v2.3h-4.6zM290.4 355.9h2.3v2.3h-2.3z" fill="#d83a2b"/>
<path d="M281.1 337.3h4.6v2.3h-4.6zM269.5 344.3h2.3v2.3h-2.3zM276.5 344.3h2.3v2.3h-2.3zM285.8 344.3h4.6v2.3h-4.6zM285.8 346.6h11.6v2.3h-11.6z" fill="#a31b2c"/>
<path d="M251.0 270.2h2.3v2.3h-2.3zM63.4 272.5h2.3v2.3h-2.3zM241.7 272.5h7.0v2.3h-7.0zM251.0 272.5h4.6v2.3h-4.6zM288.1 272.5h2.3v2.3h-2.3zM54.1 274.8h2.3v2.3h-2.3zM63.4 274.8h6.9v2.3h-6.9zM218.6 274.8h7.0v2.3h-7.0zM232.5 274.8h2.3v2.3h-2.3zM241.7 274.8h2.3v2.3h-2.3zM248.7 274.8h11.6v2.3h-11.6zM267.2 274.8h9.3v2.3h-9.3zM283.4 274.8h4.6v2.3h-4.6zM290.4 274.8h2.3v2.3h-2.3zM61.0 277.1h2.3v2.3h-2.3zM65.7 277.1h2.3v2.3h-2.3zM70.3 277.1h4.6v2.3h-4.6zM77.2 277.1h2.3v2.3h-2.3zM107.4 277.1h7.0v2.3h-7.0zM121.3 277.1h4.6v2.3h-4.6zM211.6 277.1h2.3v2.3h-2.3zM218.6 277.1h16.2v2.3h-16.2zM239.4 277.1h9.3v2.3h-9.3zM253.3 277.1h2.3v2.3h-2.3zM257.9 277.1h9.3v2.3h-9.3zM274.2 277.1h2.3v2.3h-2.3zM283.4 277.1h2.3v2.3h-2.3zM290.4 277.1h2.3v2.3h-2.3zM56.4 279.4h7.0v2.3h-7.0zM70.3 279.4h2.3v2.3h-2.3zM74.9 279.4h4.6v2.3h-4.6zM84.2 279.4h9.3v2.3h-9.3zM98.1 279.4h9.3v2.3h-9.3zM121.3 279.4h4.6v2.3h-4.6zM186.1 279.4h4.6v2.3h-4.6zM197.7 279.4h2.3v2.3h-2.3zM207.0 279.4h2.3v2.3h-2.3zM213.9 279.4h4.6v2.3h-4.6zM220.9 279.4h2.3v2.3h-2.3zM225.5 279.4h4.6v2.3h-4.6zM239.4 279.4h2.3v2.3h-2.3zM246.4 279.4h9.3v2.3h-9.3zM260.3 279.4h4.6v2.3h-4.6zM267.2 279.4h6.9v2.3h-6.9zM276.5 279.4h4.6v2.3h-4.6zM283.4 279.4h9.3v2.3h-9.3zM58.7 281.8h2.3v2.3h-2.3zM79.6 281.8h11.6v2.3h-11.6zM95.8 281.8h2.3v2.3h-2.3zM105.0 281.8h4.6v2.3h-4.6zM130.5 281.8h2.3v2.3h-2.3zM176.9 281.8h2.3v2.3h-2.3zM193.1 281.8h2.3v2.3h-2.3zM200.0 281.8h2.3v2.3h-2.3zM204.7 281.8h2.3v2.3h-2.3zM209.3 281.8h9.3v2.3h-9.3zM223.2 281.8h4.6v2.3h-4.6zM237.1 281.8h2.3v2.3h-2.3zM244.1 281.8h2.3v2.3h-2.3zM248.7 281.8h2.3v2.3h-2.3zM253.3 281.8h4.6v2.3h-4.6zM262.6 281.8h16.2v2.3h-16.2zM281.1 281.8h6.9v2.3h-6.9zM79.6 284.1h7.0v2.3h-7.0zM91.2 284.1h9.3v2.3h-9.3zM105.0 284.1h4.6v2.3h-4.6zM121.3 284.1h2.3v2.3h-2.3zM125.9 284.1h4.6v2.3h-4.6zM190.8 284.1h2.3v2.3h-2.3zM197.7 284.1h4.6v2.3h-4.6zM204.7 284.1h2.3v2.3h-2.3zM211.6 284.1h2.3v2.3h-2.3zM216.2 284.1h4.6v2.3h-4.6zM227.8 284.1h6.9v2.3h-6.9zM237.1 284.1h4.6v2.3h-4.6zM244.1 284.1h2.3v2.3h-2.3zM251.0 284.1h4.6v2.3h-4.6zM257.9 284.1h2.3v2.3h-2.3zM264.9 284.1h2.3v2.3h-2.3zM271.9 284.1h2.3v2.3h-2.3zM278.8 284.1h2.3v2.3h-2.3zM283.4 284.1h2.3v2.3h-2.3zM81.9 286.4h4.6v2.3h-4.6zM88.8 286.4h4.6v2.3h-4.6zM95.8 286.4h4.6v2.3h-4.6zM109.7 286.4h2.3v2.3h-2.3zM128.2 286.4h4.6v2.3h-4.6zM135.2 286.4h2.3v2.3h-2.3zM176.9 286.4h2.3v2.3h-2.3zM181.5 286.4h2.3v2.3h-2.3zM190.8 286.4h6.9v2.3h-6.9zM207.0 286.4h2.3v2.3h-2.3zM213.9 286.4h2.3v2.3h-2.3zM220.9 286.4h4.6v2.3h-4.6zM227.8 286.4h2.3v2.3h-2.3zM237.1 286.4h4.6v2.3h-4.6zM253.3 286.4h2.3v2.3h-2.3zM257.9 286.4h2.3v2.3h-2.3zM262.6 286.4h2.3v2.3h-2.3zM267.2 286.4h2.3v2.3h-2.3zM271.9 286.4h2.3v2.3h-2.3zM278.8 286.4h2.3v2.3h-2.3zM283.4 286.4h2.3v2.3h-2.3zM288.1 286.4h4.6v2.3h-4.6zM91.2 288.7h2.3v2.3h-2.3zM95.8 288.7h2.3v2.3h-2.3zM100.4 288.7h2.3v2.3h-2.3zM107.4 288.7h4.6v2.3h-4.6zM114.3 288.7h4.6v2.3h-4.6zM121.3 288.7h2.3v2.3h-2.3zM125.9 288.7h2.3v2.3h-2.3zM188.4 288.7h2.3v2.3h-2.3zM202.3 288.7h11.6v2.3h-11.6zM216.2 288.7h2.3v2.3h-2.3zM232.5 288.7h2.3v2.3h-2.3zM241.7 288.7h2.3v2.3h-2.3zM251.0 288.7h2.3v2.3h-2.3zM257.9 288.7h2.3v2.3h-2.3zM262.6 288.7h6.9v2.3h-6.9zM278.8 288.7h9.3v2.3h-9.3zM290.4 288.7h2.3v2.3h-2.3zM88.8 291.0h6.9v2.3h-6.9zM98.1 291.0h2.3v2.3h-2.3zM109.7 291.0h2.3v2.3h-2.3zM114.3 291.0h4.6v2.3h-4.6zM125.9 291.0h4.6v2.3h-4.6zM179.2 291.0h2.3v2.3h-2.3zM188.4 291.0h9.3v2.3h-9.3zM202.3 291.0h2.3v2.3h-2.3zM271.9 291.0h2.3v2.3h-2.3zM281.1 291.0h2.3v2.3h-2.3zM285.8 291.0h2.3v2.3h-2.3zM88.8 293.3h2.3v2.3h-2.3zM109.7 293.3h9.3v2.3h-9.3zM121.3 293.3h2.3v2.3h-2.3zM125.9 293.3h2.3v2.3h-2.3zM179.2 293.3h2.3v2.3h-2.3zM183.8 293.3h2.3v2.3h-2.3zM190.8 293.3h6.9v2.3h-6.9zM271.9 293.3h4.6v2.3h-4.6zM281.1 293.3h2.3v2.3h-2.3zM102.7 295.7h2.3v2.3h-2.3zM112.0 295.7h7.0v2.3h-7.0zM121.3 295.7h2.3v2.3h-2.3zM179.2 295.7h2.3v2.3h-2.3zM195.4 295.7h2.3v2.3h-2.3zM255.6 295.7h4.6v2.3h-4.6zM88.8 298.0h2.3v2.3h-2.3zM112.0 298.0h7.0v2.3h-7.0zM251.0 298.0h2.3v2.3h-2.3zM255.6 298.0h11.6v2.3h-11.6zM269.5 298.0h4.6v2.3h-4.6zM105.0 300.3h2.3v2.3h-2.3zM109.7 300.3h4.6v2.3h-4.6zM253.3 300.3h2.3v2.3h-2.3zM257.9 300.3h4.6v2.3h-4.6zM267.2 300.3h2.3v2.3h-2.3zM109.7 302.6h2.3v2.3h-2.3zM244.1 302.6h2.3v2.3h-2.3zM251.0 302.6h4.6v2.3h-4.6zM260.3 302.6h2.3v2.3h-2.3zM269.5 302.6h7.0v2.3h-7.0zM98.1 304.9h2.3v2.3h-2.3zM102.7 304.9h2.3v2.3h-2.3zM257.9 304.9h4.6v2.3h-4.6zM267.2 304.9h2.3v2.3h-2.3zM100.4 307.2h2.3v2.3h-2.3zM251.0 307.2h2.3v2.3h-2.3zM257.9 307.2h2.3v2.3h-2.3zM262.6 307.2h4.6v2.3h-4.6zM102.7 309.6h4.6v2.3h-4.6zM244.1 309.6h2.3v2.3h-2.3zM253.3 309.6h2.3v2.3h-2.3zM257.9 309.6h2.3v2.3h-2.3zM264.9 309.6h2.3v2.3h-2.3zM100.4 311.9h2.3v2.3h-2.3zM237.1 311.9h2.3v2.3h-2.3zM241.7 311.9h2.3v2.3h-2.3zM179.2 314.2h2.3v2.3h-2.3zM253.3 314.2h2.3v2.3h-2.3zM172.2 316.5h7.0v2.3h-7.0zM181.5 316.5h4.6v2.3h-4.6zM195.4 316.5h2.3v2.3h-2.3zM123.6 318.8h9.3v2.3h-9.3zM169.9 318.8h2.3v2.3h-2.3zM174.6 318.8h2.3v2.3h-2.3zM188.4 318.8h2.3v2.3h-2.3zM197.7 318.8h2.3v2.3h-2.3zM207.0 318.8h2.3v2.3h-2.3zM125.9 321.1h9.3v2.3h-9.3zM190.8 321.1h2.3v2.3h-2.3zM195.4 321.1h2.3v2.3h-2.3zM209.3 321.1h2.3v2.3h-2.3zM276.5 321.1h2.3v2.3h-2.3zM128.2 323.4h2.3v2.3h-2.3zM190.8 323.4h2.3v2.3h-2.3zM197.7 323.4h6.9v2.3h-6.9zM209.3 323.4h2.3v2.3h-2.3zM121.3 325.8h2.3v2.3h-2.3zM125.9 325.8h2.3v2.3h-2.3zM132.8 325.8h4.6v2.3h-4.6zM188.4 325.8h7.0v2.3h-7.0zM200.0 325.8h2.3v2.3h-2.3zM207.0 325.8h4.6v2.3h-4.6zM269.5 325.8h2.3v2.3h-2.3zM121.3 328.1h2.3v2.3h-2.3zM128.2 328.1h4.6v2.3h-4.6zM135.2 328.1h4.6v2.3h-4.6zM190.8 328.1h2.3v2.3h-2.3zM207.0 328.1h4.6v2.3h-4.6zM119.0 330.4h2.3v2.3h-2.3zM128.2 330.4h2.3v2.3h-2.3zM132.8 330.4h4.6v2.3h-4.6zM190.8 330.4h11.6v2.3h-11.6zM274.2 330.4h2.3v2.3h-2.3zM288.1 330.4h2.3v2.3h-2.3zM119.0 332.7h2.3v2.3h-2.3zM123.6 332.7h4.6v2.3h-4.6zM132.8 332.7h2.3v2.3h-2.3zM139.8 332.7h2.3v2.3h-2.3zM146.8 332.7h2.3v2.3h-2.3zM190.8 332.7h11.6v2.3h-11.6zM204.7 332.7h7.0v2.3h-7.0zM130.5 335.0h2.3v2.3h-2.3zM135.2 335.0h2.3v2.3h-2.3zM144.4 335.0h2.3v2.3h-2.3zM149.1 335.0h4.6v2.3h-4.6zM195.4 335.0h2.3v2.3h-2.3zM200.0 335.0h11.6v2.3h-11.6zM132.8 337.3h4.6v2.3h-4.6zM146.8 337.3h2.3v2.3h-2.3zM190.8 337.3h2.3v2.3h-2.3zM195.4 337.3h2.3v2.3h-2.3zM202.3 337.3h4.6v2.3h-4.6zM209.3 337.3h2.3v2.3h-2.3zM125.9 339.7h4.6v2.3h-4.6zM132.8 339.7h2.3v2.3h-2.3zM139.8 339.7h2.3v2.3h-2.3zM144.4 339.7h4.6v2.3h-4.6zM197.7 339.7h11.6v2.3h-11.6zM137.5 342.0h2.3v2.3h-2.3zM144.4 342.0h2.3v2.3h-2.3zM200.0 342.0h2.3v2.3h-2.3zM285.8 342.0h4.6v2.3h-4.6zM202.3 344.3h2.3v2.3h-2.3zM288.1 344.3h2.3v2.3h-2.3zM292.7 344.3h2.3v2.3h-2.3zM139.8 346.6h2.3v2.3h-2.3zM269.5 346.6h2.3v2.3h-2.3zM297.3 346.6h2.3v2.3h-2.3zM135.2 348.9h2.3v2.3h-2.3zM139.8 348.9h2.3v2.3h-2.3zM200.0 348.9h2.3v2.3h-2.3zM271.9 348.9h2.3v2.3h-2.3zM292.7 348.9h2.3v2.3h-2.3zM292.7 351.2h2.3v2.3h-2.3zM292.7 355.9h2.3v2.3h-2.3zM128.2 360.5h2.3v2.3h-2.3zM125.9 362.8h2.3v2.3h-2.3zM125.9 365.1h2.3v2.3h-2.3z" fill="url(#stipc)"/>
<use href="#coast" transform="translate(42.50 258.60) scale(1.0000 0.9983)" fill="none" stroke="#7a7a7a" stroke-width="0.65" stroke-linejoin="round"/>
</g>
<path d="M70.70,319.40 V367.80 M70.20,319.40 H112.10" stroke="#3a3a3a" stroke-width="0.8" fill="none"/>
<path d="M68.70,319.40 H70.70 M68.70,338.30 H70.70 M68.70,358.20 H70.70" stroke="#3a3a3a" stroke-width="0.8"/>
<text x="55.20" y="321.80" font-size="6.90" text-anchor="middle" fill="#262626" textLength="4.26" lengthAdjust="spacingAndGlyphs">0</text>
<text x="57.30" y="340.70" font-size="6.90" text-anchor="middle" fill="#262626" textLength="21.60" lengthAdjust="spacingAndGlyphs">-0.002</text>
<text x="57.30" y="360.60" font-size="6.90" text-anchor="middle" fill="#262626" textLength="21.60" lengthAdjust="spacingAndGlyphs">-0.004</text>
<path d="M80.45,337.70 V358.50 M76.50,358.50 H84.40" stroke="#333" stroke-width="0.8" fill="none"/>
<rect x="76.20" y="319.40" width="8.50" height="18.30" fill="#3d7ec8" stroke="#1a1a1a" stroke-width="0.6"/>
<path d="M91.00,331.50 V356.30 M86.60,356.30 H95.40" stroke="#a8a8a8" stroke-width="0.8" fill="none"/>
<rect x="86.30" y="319.40" width="9.40" height="12.10" fill="#a2a2a2" stroke="#444" stroke-width="0.6"/>
<path d="M101.40,324.40 V349.60 M97.40,349.60 H105.40" stroke="#333" stroke-width="0.8" fill="none"/>
<rect x="97.10" y="319.40" width="8.60" height="5.00" fill="#e25a23" stroke="#2a1a10" stroke-width="0.6"/>
<rect x="42.50" y="258.60" width="278.00" height="115.80" fill="none" stroke="#3a3a3a" stroke-width="1"/>
<path d="M39.00,258.60 H42.50 M320.50,258.60 H324.00 M39.00,281.76 H42.50 M320.50,281.76 H324.00 M39.00,304.92 H42.50 M320.50,304.92 H324.00 M39.00,328.08 H42.50 M320.50,328.08 H324.00 M39.00,351.24 H42.50 M320.50,351.24 H324.00 M39.00,374.40 H42.50 M320.50,374.40 H324.00 M42.50,374.40 V377.90 M42.50,255.10 V258.60 M88.83,374.40 V377.90 M88.83,255.10 V258.60 M135.17,374.40 V377.90 M135.17,255.10 V258.60 M181.50,374.40 V377.90 M181.50,255.10 V258.60 M227.83,374.40 V377.90 M227.83,255.10 V258.60 M274.17,374.40 V377.90 M274.17,255.10 V258.60 M320.50,374.40 V377.90 M320.50,255.10 V258.60" stroke="#3a3a3a" stroke-width="1" fill="none"/>
<text x="37.80" y="261.80" font-size="8.76" text-anchor="end" fill="#262626" textLength="21.43" lengthAdjust="spacingAndGlyphs">90°N</text>
<text x="37.80" y="284.96" font-size="8.76" text-anchor="end" fill="#262626" textLength="21.43" lengthAdjust="spacingAndGlyphs">60°N</text>
<text x="37.80" y="308.12" font-size="8.76" text-anchor="end" fill="#262626" textLength="21.43" lengthAdjust="spacingAndGlyphs">30°N</text>
<text x="37.80" y="331.28" font-size="8.76" text-anchor="end" fill="#262626" textLength="9.66" lengthAdjust="spacingAndGlyphs">0°</text>
<text x="37.80" y="354.44" font-size="8.76" text-anchor="end" fill="#262626" textLength="20.46" lengthAdjust="spacingAndGlyphs">30°S</text>
<text x="37.80" y="377.60" font-size="8.76" text-anchor="end" fill="#262626" textLength="20.46" lengthAdjust="spacingAndGlyphs">60°S</text>
<text x="42.50" y="387.00" font-size="8.76" text-anchor="middle" fill="#262626" textLength="20.47" lengthAdjust="spacingAndGlyphs">180°</text>
<text x="88.83" y="387.00" font-size="8.76" text-anchor="middle" fill="#262626" textLength="28.88" lengthAdjust="spacingAndGlyphs">120°W</text>
<text x="135.17" y="387.00" font-size="8.76" text-anchor="middle" fill="#262626" textLength="23.47" lengthAdjust="spacingAndGlyphs">60°W</text>
<text x="181.50" y="387.00" font-size="8.76" text-anchor="middle" fill="#262626" textLength="9.66" lengthAdjust="spacingAndGlyphs">0°</text>
<text x="227.83" y="387.00" font-size="8.76" text-anchor="middle" fill="#262626" textLength="20.44" lengthAdjust="spacingAndGlyphs">60°E</text>
<text x="274.17" y="387.00" font-size="8.76" text-anchor="middle" fill="#262626" textLength="25.85" lengthAdjust="spacingAndGlyphs">120°E</text>
<text x="320.50" y="387.00" font-size="8.76" text-anchor="middle" fill="#262626" textLength="20.47" lengthAdjust="spacingAndGlyphs">180°</text>
<text x="181.50" y="398.80" font-size="11.33" text-anchor="middle" fill="#262626" textLength="54.71" lengthAdjust="spacingAndGlyphs">Longitude</text>
<text x="13.20" y="316.50" font-size="11.33" text-anchor="middle" fill="#262626" textLength="45.27" lengthAdjust="spacingAndGlyphs" transform="rotate(-90 13.20 316.50)">Latitude</text>
<text x="0.20" y="250.60" font-size="20.5" fill="#000">c</text>
<rect x="42.30" y="413.10" width="28.12" height="10.40" fill="#323894"/>
<rect x="70.12" y="413.10" width="28.12" height="10.40" fill="#4a7bbb"/>
<rect x="97.94" y="413.10" width="28.12" height="10.40" fill="#78aed3"/>
<rect x="125.76" y="413.10" width="28.12" height="10.40" fill="#b0dde9"/>
<rect x="153.58" y="413.10" width="28.12" height="10.40" fill="#e3f4f8"/>
<rect x="181.40" y="413.10" width="28.12" height="10.40" fill="#f2e092"/>
<rect x="209.22" y="413.10" width="28.12" height="10.40" fill="#f0a95f"/>
<rect x="237.04" y="413.10" width="28.12" height="10.40" fill="#ea6d45"/>
<rect x="264.86" y="413.10" width="28.12" height="10.40" fill="#d83a2b"/>
<rect x="292.68" y="413.10" width="28.12" height="10.40" fill="#a31b2c"/>
<path d="M70.12,421.50 V423.50 M97.94,421.50 V423.50 M125.76,421.50 V423.50 M153.58,421.50 V423.50 M181.40,421.50 V423.50 M209.22,421.50 V423.50 M237.04,421.50 V423.50 M264.86,421.50 V423.50 M292.68,421.50 V423.50" stroke="#222" stroke-width="0.8"/>
<rect x="42.30" y="413.10" width="278.20" height="10.40" fill="none" stroke="#222" stroke-width="0.8"/>
<text x="70.12" y="435.80" font-size="8.24" text-anchor="middle" fill="#262626" textLength="20.70" lengthAdjust="spacingAndGlyphs">-0.03</text>
<text x="97.94" y="435.80" font-size="8.24" text-anchor="middle" fill="#262626" textLength="20.70" lengthAdjust="spacingAndGlyphs">-0.02</text>
<text x="125.76" y="435.80" font-size="8.24" text-anchor="middle" fill="#262626" textLength="20.70" lengthAdjust="spacingAndGlyphs">-0.01</text>
<text x="153.58" y="435.80" font-size="8.24" text-anchor="middle" fill="#262626" textLength="25.79" lengthAdjust="spacingAndGlyphs">-0.001</text>
<text x="175.00" y="435.80" font-size="8.24" text-anchor="middle" fill="#262626" textLength="5.09" lengthAdjust="spacingAndGlyphs">0</text>
<text x="207.83" y="435.80" font-size="8.24" text-anchor="middle" fill="#262626" textLength="22.90" lengthAdjust="spacingAndGlyphs">0.001</text>
<text x="237.04" y="435.80" font-size="8.24" text-anchor="middle" fill="#262626" textLength="17.81" lengthAdjust="spacingAndGlyphs">0.01</text>
<text x="264.86" y="435.80" font-size="8.24" text-anchor="middle" fill="#262626" textLength="17.81" lengthAdjust="spacingAndGlyphs">0.02</text>
<text x="292.68" y="435.80" font-size="8.24" text-anchor="middle" fill="#262626" textLength="17.81" lengthAdjust="spacingAndGlyphs">0.03</text>
<text x="181.40" y="451.40" font-size="11.6" text-anchor="middle" fill="#262626" textLength="159.0" lengthAdjust="spacingAndGlyphs">dT/dLAI response (°C·m<tspan font-size="8.0" dy="-4.6">2</tspan><tspan dy="4.6">·m</tspan><tspan font-size="8.0" dy="-4.6">-2</tspan><tspan dy="4.6">)</tspan></text>
<g clip-path="url(#clipd)">
<path d="M607.8 300.3h2.3v2.3h-2.3zM621.7 302.6h2.3v2.3h-2.3zM617.0 304.9h2.3v2.3h-2.3zM621.7 304.9h2.3v2.3h-2.3zM619.4 307.2h2.3v2.3h-2.3z" fill="#4a7bbb"/>
<path d="M610.1 298.0h2.3v2.3h-2.3zM605.5 300.3h2.3v2.3h-2.3zM621.7 300.3h2.3v2.3h-2.3zM600.8 302.6h4.6v2.3h-4.6zM619.4 302.6h2.3v2.3h-2.3zM626.3 302.6h4.6v2.3h-4.6zM600.8 304.9h2.3v2.3h-2.3zM607.8 304.9h2.3v2.3h-2.3zM614.7 304.9h2.3v2.3h-2.3zM619.4 304.9h2.3v2.3h-2.3zM624.0 304.9h2.3v2.3h-2.3zM614.7 307.2h4.6v2.3h-4.6zM621.7 307.2h2.3v2.3h-2.3z" fill="#78aed3"/>
<path d="M605.5 270.2h4.6v2.3h-4.6zM415.3 272.5h4.6v2.3h-4.6zM596.2 272.5h16.2v2.3h-16.2zM640.2 272.5h4.6v2.3h-4.6zM410.7 274.8h2.3v2.3h-2.3zM415.3 274.8h9.3v2.3h-9.3zM426.9 274.8h2.3v2.3h-2.3zM573.0 274.8h7.0v2.3h-7.0zM586.9 274.8h2.3v2.3h-2.3zM593.9 274.8h13.9v2.3h-13.9zM610.1 274.8h9.3v2.3h-9.3zM624.0 274.8h9.3v2.3h-9.3zM635.6 274.8h4.6v2.3h-4.6zM644.9 274.8h2.3v2.3h-2.3zM410.7 277.1h7.0v2.3h-7.0zM420.0 277.1h11.6v2.3h-11.6zM461.7 277.1h11.6v2.3h-11.6zM477.9 277.1h2.3v2.3h-2.3zM566.0 277.1h4.6v2.3h-4.6zM573.0 277.1h11.6v2.3h-11.6zM589.2 277.1h11.6v2.3h-11.6zM603.1 277.1h4.6v2.3h-4.6zM612.4 277.1h34.8v2.3h-34.8zM408.4 279.4h4.6v2.3h-4.6zM420.0 279.4h7.0v2.3h-7.0zM429.3 279.4h2.3v2.3h-2.3zM436.2 279.4h2.3v2.3h-2.3zM440.8 279.4h9.3v2.3h-9.3zM452.4 279.4h4.6v2.3h-4.6zM475.6 279.4h4.6v2.3h-4.6zM540.5 279.4h4.6v2.3h-4.6zM563.7 279.4h4.6v2.3h-4.6zM570.7 279.4h2.3v2.3h-2.3zM575.3 279.4h9.3v2.3h-9.3zM589.2 279.4h2.3v2.3h-2.3zM596.2 279.4h2.3v2.3h-2.3zM600.8 279.4h9.3v2.3h-9.3zM612.4 279.4h4.6v2.3h-4.6zM621.7 279.4h4.6v2.3h-4.6zM628.6 279.4h18.5v2.3h-18.5zM415.3 281.8h2.3v2.3h-2.3zM431.6 281.8h9.3v2.3h-9.3zM443.2 281.8h11.6v2.3h-11.6zM457.1 281.8h2.3v2.3h-2.3zM461.7 281.8h2.3v2.3h-2.3zM477.9 281.8h4.6v2.3h-4.6zM484.9 281.8h2.3v2.3h-2.3zM540.5 281.8h2.3v2.3h-2.3zM554.4 281.8h4.6v2.3h-4.6zM566.0 281.8h7.0v2.3h-7.0zM575.3 281.8h4.6v2.3h-4.6zM582.3 281.8h30.1v2.3h-30.1zM614.7 281.8h2.3v2.3h-2.3zM619.4 281.8h7.0v2.3h-7.0zM631.0 281.8h11.6v2.3h-11.6zM433.9 284.1h4.6v2.3h-4.6zM440.8 284.1h9.3v2.3h-9.3zM452.4 284.1h7.0v2.3h-7.0zM464.0 284.1h2.3v2.3h-2.3zM475.6 284.1h13.9v2.3h-13.9zM531.3 284.1h2.3v2.3h-2.3zM554.4 284.1h4.6v2.3h-4.6zM568.4 284.1h4.6v2.3h-4.6zM575.3 284.1h2.3v2.3h-2.3zM582.3 284.1h2.3v2.3h-2.3zM586.9 284.1h11.6v2.3h-11.6zM603.1 284.1h13.9v2.3h-13.9zM621.7 284.1h2.3v2.3h-2.3zM631.0 284.1h9.3v2.3h-9.3zM436.2 286.4h11.6v2.3h-11.6zM450.1 286.4h2.3v2.3h-2.3zM454.8 286.4h7.0v2.3h-7.0zM466.4 286.4h4.6v2.3h-4.6zM475.6 286.4h16.2v2.3h-16.2zM533.6 286.4h2.3v2.3h-2.3zM538.2 286.4h4.6v2.3h-4.6zM547.5 286.4h16.2v2.3h-16.2zM566.0 286.4h2.3v2.3h-2.3zM575.3 286.4h2.3v2.3h-2.3zM582.3 286.4h4.6v2.3h-4.6zM591.5 286.4h4.6v2.3h-4.6zM598.5 286.4h2.3v2.3h-2.3zM603.1 286.4h16.2v2.3h-16.2zM626.3 286.4h16.2v2.3h-16.2zM644.9 286.4h2.3v2.3h-2.3zM443.2 288.7h4.6v2.3h-4.6zM452.4 288.7h7.0v2.3h-7.0zM461.7 288.7h2.3v2.3h-2.3zM468.7 288.7h16.2v2.3h-16.2zM535.9 288.7h4.6v2.3h-4.6zM542.9 288.7h7.0v2.3h-7.0zM554.4 288.7h18.5v2.3h-18.5zM596.2 288.7h2.3v2.3h-2.3zM603.1 288.7h4.6v2.3h-4.6zM612.4 288.7h2.3v2.3h-2.3zM621.7 288.7h11.6v2.3h-11.6zM635.6 288.7h11.6v2.3h-11.6zM443.2 291.0h7.0v2.3h-7.0zM454.8 291.0h9.3v2.3h-9.3zM466.4 291.0h7.0v2.3h-7.0zM475.6 291.0h4.6v2.3h-4.6zM482.6 291.0h2.3v2.3h-2.3zM535.9 291.0h4.6v2.3h-4.6zM556.8 291.0h2.3v2.3h-2.3zM561.4 291.0h2.3v2.3h-2.3zM619.4 291.0h11.6v2.3h-11.6zM633.3 291.0h7.0v2.3h-7.0zM454.8 293.3h2.3v2.3h-2.3zM459.4 293.3h4.6v2.3h-4.6zM466.4 293.3h4.6v2.3h-4.6zM475.6 293.3h7.0v2.3h-7.0zM533.6 293.3h2.3v2.3h-2.3zM538.2 293.3h2.3v2.3h-2.3zM542.9 293.3h4.6v2.3h-4.6zM566.0 293.3h2.3v2.3h-2.3zM628.6 293.3h2.3v2.3h-2.3zM635.6 293.3h2.3v2.3h-2.3zM457.1 295.7h2.3v2.3h-2.3zM466.4 295.7h7.0v2.3h-7.0zM533.6 295.7h2.3v2.3h-2.3zM440.8 298.0h2.3v2.3h-2.3zM461.7 298.0h13.9v2.3h-13.9zM607.8 298.0h2.3v2.3h-2.3zM612.4 298.0h4.6v2.3h-4.6zM443.2 300.3h2.3v2.3h-2.3zM447.8 300.3h2.3v2.3h-2.3zM454.8 300.3h2.3v2.3h-2.3zM461.7 300.3h9.3v2.3h-9.3zM603.1 300.3h2.3v2.3h-2.3zM610.1 300.3h4.6v2.3h-4.6zM626.3 300.3h2.3v2.3h-2.3zM464.0 302.6h4.6v2.3h-4.6zM471.0 302.6h2.3v2.3h-2.3zM605.5 302.6h13.9v2.3h-13.9zM624.0 302.6h2.3v2.3h-2.3zM603.1 304.9h4.6v2.3h-4.6zM612.4 304.9h2.3v2.3h-2.3zM626.3 304.9h2.3v2.3h-2.3zM454.8 307.2h2.3v2.3h-2.3zM612.4 307.2h2.3v2.3h-2.3zM454.8 311.9h2.3v2.3h-2.3zM466.4 311.9h2.3v2.3h-2.3zM614.7 311.9h2.3v2.3h-2.3zM464.0 314.2h4.6v2.3h-4.6zM535.9 314.2h4.6v2.3h-4.6zM607.8 314.2h2.3v2.3h-2.3zM612.4 314.2h2.3v2.3h-2.3zM466.4 316.5h2.3v2.3h-2.3zM540.5 316.5h7.0v2.3h-7.0zM524.3 318.8h2.3v2.3h-2.3zM528.9 318.8h2.3v2.3h-2.3zM545.2 318.8h2.3v2.3h-2.3zM554.4 318.8h4.6v2.3h-4.6zM531.3 321.1h4.6v2.3h-4.6zM552.1 321.1h2.3v2.3h-2.3zM561.4 321.1h4.6v2.3h-4.6zM542.9 323.4h4.6v2.3h-4.6zM552.1 323.4h13.9v2.3h-13.9zM542.9 325.8h2.3v2.3h-2.3zM547.5 325.8h16.2v2.3h-16.2zM542.9 328.1h18.5v2.3h-18.5zM563.7 328.1h2.3v2.3h-2.3zM480.3 330.4h2.3v2.3h-2.3zM545.2 330.4h18.5v2.3h-18.5zM480.3 332.7h2.3v2.3h-2.3zM484.9 332.7h2.3v2.3h-2.3zM545.2 332.7h18.5v2.3h-18.5zM480.3 335.0h2.3v2.3h-2.3zM489.5 335.0h2.3v2.3h-2.3zM494.2 335.0h2.3v2.3h-2.3zM498.8 335.0h2.3v2.3h-2.3zM503.4 335.0h4.6v2.3h-4.6zM549.8 335.0h9.3v2.3h-9.3zM561.4 335.0h4.6v2.3h-4.6zM480.3 337.3h4.6v2.3h-4.6zM489.5 337.3h4.6v2.3h-4.6zM496.5 337.3h2.3v2.3h-2.3zM503.4 337.3h2.3v2.3h-2.3zM552.1 337.3h4.6v2.3h-4.6zM561.4 337.3h7.0v2.3h-7.0zM637.9 337.3h2.3v2.3h-2.3zM480.3 339.7h2.3v2.3h-2.3zM484.9 339.7h2.3v2.3h-2.3zM489.5 339.7h4.6v2.3h-4.6zM496.5 339.7h2.3v2.3h-2.3zM501.1 339.7h2.3v2.3h-2.3zM545.2 339.7h18.5v2.3h-18.5zM644.9 339.7h2.3v2.3h-2.3zM487.2 342.0h7.0v2.3h-7.0zM496.5 342.0h7.0v2.3h-7.0zM549.8 342.0h13.9v2.3h-13.9zM640.2 342.0h2.3v2.3h-2.3zM484.9 344.3h2.3v2.3h-2.3zM491.9 344.3h4.6v2.3h-4.6zM498.8 344.3h4.6v2.3h-4.6zM547.5 344.3h4.6v2.3h-4.6zM554.4 344.3h9.3v2.3h-9.3zM626.3 344.3h2.3v2.3h-2.3zM637.9 344.3h2.3v2.3h-2.3zM489.5 346.6h4.6v2.3h-4.6zM547.5 346.6h4.6v2.3h-4.6zM554.4 346.6h7.0v2.3h-7.0zM626.3 346.6h2.3v2.3h-2.3zM644.9 346.6h2.3v2.3h-2.3zM482.6 348.9h16.2v2.3h-16.2zM547.5 348.9h9.3v2.3h-9.3zM624.0 348.9h2.3v2.3h-2.3zM642.5 348.9h2.3v2.3h-2.3zM647.2 348.9h2.3v2.3h-2.3zM480.3 351.2h7.0v2.3h-7.0zM489.5 351.2h7.0v2.3h-7.0zM554.4 351.2h4.6v2.3h-4.6zM637.9 351.2h2.3v2.3h-2.3zM487.2 353.6h2.3v2.3h-2.3zM491.9 353.6h2.3v2.3h-2.3zM549.8 353.6h2.3v2.3h-2.3zM482.6 355.9h2.3v2.3h-2.3zM487.2 355.9h2.3v2.3h-2.3zM480.3 358.2h2.3v2.3h-2.3zM480.3 360.5h2.3v2.3h-2.3zM480.3 367.5h2.3v2.3h-2.3z" fill="#b0dde9"/>
<path d="M644.9 272.5h2.3v2.3h-2.3zM408.4 274.8h2.3v2.3h-2.3zM579.9 274.8h2.3v2.3h-2.3zM607.8 274.8h2.3v2.3h-2.3zM621.7 274.8h2.3v2.3h-2.3zM633.3 274.8h2.3v2.3h-2.3zM642.5 274.8h2.3v2.3h-2.3zM417.7 277.1h2.3v2.3h-2.3zM475.6 277.1h2.3v2.3h-2.3zM570.7 277.1h2.3v2.3h-2.3zM584.6 277.1h4.6v2.3h-4.6zM600.8 277.1h2.3v2.3h-2.3zM607.8 277.1h4.6v2.3h-4.6zM417.7 279.4h2.3v2.3h-2.3zM426.9 279.4h2.3v2.3h-2.3zM438.5 279.4h2.3v2.3h-2.3zM450.1 279.4h2.3v2.3h-2.3zM459.4 279.4h4.6v2.3h-4.6zM552.1 279.4h11.6v2.3h-11.6zM593.9 279.4h2.3v2.3h-2.3zM598.5 279.4h2.3v2.3h-2.3zM617.0 279.4h4.6v2.3h-4.6zM454.8 281.8h2.3v2.3h-2.3zM459.4 281.8h2.3v2.3h-2.3zM563.7 281.8h2.3v2.3h-2.3zM579.9 281.8h2.3v2.3h-2.3zM612.4 281.8h2.3v2.3h-2.3zM617.0 281.8h2.3v2.3h-2.3zM626.3 281.8h2.3v2.3h-2.3zM642.5 281.8h2.3v2.3h-2.3zM566.0 284.1h2.3v2.3h-2.3zM573.0 284.1h2.3v2.3h-2.3zM577.6 284.1h4.6v2.3h-4.6zM584.6 284.1h2.3v2.3h-2.3zM598.5 284.1h4.6v2.3h-4.6zM624.0 284.1h4.6v2.3h-4.6zM461.7 286.4h2.3v2.3h-2.3zM531.3 286.4h2.3v2.3h-2.3zM570.7 286.4h4.6v2.3h-4.6zM577.6 286.4h2.3v2.3h-2.3zM589.2 286.4h2.3v2.3h-2.3zM596.2 286.4h2.3v2.3h-2.3zM642.5 286.4h2.3v2.3h-2.3zM440.8 288.7h2.3v2.3h-2.3zM459.4 288.7h2.3v2.3h-2.3zM540.5 288.7h2.3v2.3h-2.3zM586.9 288.7h2.3v2.3h-2.3zM598.5 288.7h4.6v2.3h-4.6zM633.3 288.7h2.3v2.3h-2.3zM450.1 291.0h2.3v2.3h-2.3zM464.0 291.0h2.3v2.3h-2.3zM480.3 291.0h2.3v2.3h-2.3zM540.5 291.0h2.3v2.3h-2.3zM545.2 291.0h4.6v2.3h-4.6zM631.0 291.0h2.3v2.3h-2.3zM464.0 293.3h2.3v2.3h-2.3zM471.0 293.3h2.3v2.3h-2.3zM528.9 293.3h2.3v2.3h-2.3zM554.4 293.3h2.3v2.3h-2.3zM626.3 293.3h2.3v2.3h-2.3zM637.9 293.3h2.3v2.3h-2.3zM440.8 295.7h2.3v2.3h-2.3zM473.3 295.7h4.6v2.3h-4.6zM443.2 298.0h2.3v2.3h-2.3zM447.8 298.0h2.3v2.3h-2.3zM445.5 300.3h2.3v2.3h-2.3zM457.1 300.3h4.6v2.3h-4.6zM471.0 300.3h2.3v2.3h-2.3zM614.7 300.3h7.0v2.3h-7.0zM624.0 300.3h2.3v2.3h-2.3zM459.4 304.9h2.3v2.3h-2.3zM610.1 304.9h2.3v2.3h-2.3zM452.4 307.2h2.3v2.3h-2.3zM610.1 307.2h2.3v2.3h-2.3zM459.4 309.6h2.3v2.3h-2.3zM459.4 311.9h2.3v2.3h-2.3zM526.6 316.5h2.3v2.3h-2.3zM531.3 316.5h4.6v2.3h-4.6zM468.7 318.8h2.3v2.3h-2.3zM535.9 318.8h4.6v2.3h-4.6zM542.9 318.8h2.3v2.3h-2.3zM552.1 318.8h2.3v2.3h-2.3zM526.6 321.1h4.6v2.3h-4.6zM545.2 321.1h2.3v2.3h-2.3zM561.4 328.1h2.3v2.3h-2.3zM563.7 330.4h2.3v2.3h-2.3zM482.6 335.0h2.3v2.3h-2.3zM496.5 335.0h2.3v2.3h-2.3zM501.1 335.0h2.3v2.3h-2.3zM547.5 335.0h2.3v2.3h-2.3zM494.2 337.3h2.3v2.3h-2.3zM498.8 337.3h2.3v2.3h-2.3zM545.2 337.3h4.6v2.3h-4.6zM559.1 337.3h2.3v2.3h-2.3zM635.6 337.3h2.3v2.3h-2.3zM487.2 339.7h2.3v2.3h-2.3zM494.2 339.7h2.3v2.3h-2.3zM498.8 339.7h2.3v2.3h-2.3zM482.6 342.0h4.6v2.3h-4.6zM489.5 344.3h2.3v2.3h-2.3zM496.5 344.3h2.3v2.3h-2.3zM642.5 344.3h2.3v2.3h-2.3zM647.2 344.3h2.3v2.3h-2.3zM482.6 346.6h2.3v2.3h-2.3zM494.2 346.6h2.3v2.3h-2.3zM651.8 348.9h2.3v2.3h-2.3zM626.3 351.2h2.3v2.3h-2.3zM482.6 353.6h2.3v2.3h-2.3zM480.3 355.9h2.3v2.3h-2.3zM484.9 355.9h2.3v2.3h-2.3zM482.6 358.2h2.3v2.3h-2.3zM480.3 362.8h4.6v2.3h-4.6zM480.3 365.1h2.3v2.3h-2.3z" fill="#e3f4f8"/>
<path d="M589.2 274.8h2.3v2.3h-2.3zM619.4 274.8h2.3v2.3h-2.3zM640.2 274.8h2.3v2.3h-2.3zM568.4 279.4h2.3v2.3h-2.3zM573.0 279.4h2.3v2.3h-2.3zM584.6 279.4h4.6v2.3h-4.6zM531.3 281.8h2.3v2.3h-2.3zM573.0 281.8h2.3v2.3h-2.3zM563.7 284.1h2.3v2.3h-2.3zM619.4 284.1h2.3v2.3h-2.3zM628.6 284.1h2.3v2.3h-2.3zM563.7 286.4h2.3v2.3h-2.3zM600.8 286.4h2.3v2.3h-2.3zM554.4 291.0h2.3v2.3h-2.3zM640.2 291.0h2.3v2.3h-2.3zM535.9 293.3h2.3v2.3h-2.3zM461.7 295.7h2.3v2.3h-2.3zM547.5 295.7h2.3v2.3h-2.3zM473.3 300.3h2.3v2.3h-2.3zM457.1 307.2h2.3v2.3h-2.3zM607.8 311.9h2.3v2.3h-2.3zM612.4 311.9h2.3v2.3h-2.3zM459.4 314.2h2.3v2.3h-2.3zM610.1 314.2h2.3v2.3h-2.3zM614.7 314.2h2.3v2.3h-2.3zM612.4 316.5h2.3v2.3h-2.3zM480.3 318.8h2.3v2.3h-2.3zM475.6 323.4h4.6v2.3h-4.6zM484.9 323.4h2.3v2.3h-2.3zM624.0 323.4h2.3v2.3h-2.3zM494.2 325.8h2.3v2.3h-2.3zM612.4 325.8h4.6v2.3h-4.6zM619.4 325.8h2.3v2.3h-2.3zM626.3 325.8h2.3v2.3h-2.3zM480.3 328.1h2.3v2.3h-2.3zM484.9 328.1h4.6v2.3h-4.6zM621.7 328.1h2.3v2.3h-2.3zM637.9 328.1h2.3v2.3h-2.3zM628.6 330.4h2.3v2.3h-2.3zM487.2 332.7h2.3v2.3h-2.3zM491.9 332.7h2.3v2.3h-2.3zM628.6 346.6h2.3v2.3h-2.3zM647.2 346.6h2.3v2.3h-2.3zM649.5 351.2h2.3v2.3h-2.3zM649.5 355.9h2.3v2.3h-2.3z" fill="#f2e092"/>
<path d="M413.0 274.8h2.3v2.3h-2.3zM424.6 274.8h2.3v2.3h-2.3zM413.0 279.4h4.6v2.3h-4.6zM457.1 279.4h2.3v2.3h-2.3zM545.2 279.4h4.6v2.3h-4.6zM591.5 279.4h2.3v2.3h-2.3zM610.1 279.4h2.3v2.3h-2.3zM626.3 279.4h2.3v2.3h-2.3zM413.0 281.8h2.3v2.3h-2.3zM440.8 281.8h2.3v2.3h-2.3zM475.6 281.8h2.3v2.3h-2.3zM547.5 281.8h2.3v2.3h-2.3zM559.1 281.8h4.6v2.3h-4.6zM628.6 281.8h2.3v2.3h-2.3zM459.4 284.1h4.6v2.3h-4.6zM466.4 284.1h4.6v2.3h-4.6zM545.2 284.1h2.3v2.3h-2.3zM552.1 284.1h2.3v2.3h-2.3zM559.1 284.1h4.6v2.3h-4.6zM617.0 284.1h2.3v2.3h-2.3zM452.4 286.4h2.3v2.3h-2.3zM535.9 286.4h2.3v2.3h-2.3zM545.2 286.4h2.3v2.3h-2.3zM568.4 286.4h2.3v2.3h-2.3zM579.9 286.4h2.3v2.3h-2.3zM586.9 286.4h2.3v2.3h-2.3zM619.4 286.4h7.0v2.3h-7.0zM450.1 288.7h2.3v2.3h-2.3zM464.0 288.7h4.6v2.3h-4.6zM549.8 288.7h4.6v2.3h-4.6zM614.7 288.7h7.0v2.3h-7.0zM473.3 291.0h2.3v2.3h-2.3zM484.9 291.0h2.3v2.3h-2.3zM533.6 291.0h2.3v2.3h-2.3zM542.9 291.0h2.3v2.3h-2.3zM549.8 291.0h4.6v2.3h-4.6zM547.5 293.3h7.0v2.3h-7.0zM464.0 295.7h2.3v2.3h-2.3zM528.9 295.7h4.6v2.3h-4.6zM549.8 295.7h4.6v2.3h-4.6zM563.7 295.7h4.6v2.3h-4.6zM475.6 298.0h2.3v2.3h-2.3zM468.7 302.6h2.3v2.3h-2.3zM457.1 304.9h2.3v2.3h-2.3zM471.0 304.9h2.3v2.3h-2.3zM603.1 307.2h2.3v2.3h-2.3zM454.8 309.6h4.6v2.3h-4.6zM603.1 309.6h2.3v2.3h-2.3zM607.8 309.6h7.0v2.3h-7.0zM457.1 311.9h2.3v2.3h-2.3zM610.1 311.9h2.3v2.3h-2.3zM619.4 311.9h2.3v2.3h-2.3zM617.0 314.2h2.3v2.3h-2.3zM468.7 316.5h2.3v2.3h-2.3zM535.9 316.5h2.3v2.3h-2.3zM614.7 316.5h4.6v2.3h-4.6zM477.9 318.8h2.3v2.3h-2.3zM482.6 318.8h4.6v2.3h-4.6zM540.5 318.8h2.3v2.3h-2.3zM547.5 318.8h4.6v2.3h-4.6zM617.0 318.8h2.3v2.3h-2.3zM475.6 321.1h13.9v2.3h-13.9zM542.9 321.1h2.3v2.3h-2.3zM631.0 321.1h2.3v2.3h-2.3zM480.3 323.4h4.6v2.3h-4.6zM487.2 323.4h4.6v2.3h-4.6zM610.1 323.4h2.3v2.3h-2.3zM626.3 323.4h2.3v2.3h-2.3zM475.6 325.8h18.5v2.3h-18.5zM545.2 325.8h2.3v2.3h-2.3zM563.7 325.8h2.3v2.3h-2.3zM475.6 328.1h4.6v2.3h-4.6zM482.6 328.1h2.3v2.3h-2.3zM489.5 328.1h11.6v2.3h-11.6zM614.7 328.1h2.3v2.3h-2.3zM628.6 328.1h2.3v2.3h-2.3zM473.3 330.4h7.0v2.3h-7.0zM482.6 330.4h18.5v2.3h-18.5zM614.7 330.4h2.3v2.3h-2.3zM640.2 330.4h4.6v2.3h-4.6zM473.3 332.7h2.3v2.3h-2.3zM482.6 332.7h2.3v2.3h-2.3zM489.5 332.7h2.3v2.3h-2.3zM494.2 332.7h4.6v2.3h-4.6zM563.7 332.7h2.3v2.3h-2.3zM644.9 332.7h2.3v2.3h-2.3zM484.9 335.0h4.6v2.3h-4.6zM559.1 335.0h2.3v2.3h-2.3zM484.9 337.3h4.6v2.3h-4.6zM501.1 337.3h2.3v2.3h-2.3zM549.8 337.3h2.3v2.3h-2.3zM556.8 337.3h2.3v2.3h-2.3zM644.9 337.3h2.3v2.3h-2.3zM482.6 339.7h2.3v2.3h-2.3zM503.4 339.7h2.3v2.3h-2.3zM563.7 339.7h2.3v2.3h-2.3zM631.0 339.7h11.6v2.3h-11.6zM647.2 339.7h2.3v2.3h-2.3zM503.4 342.0h2.3v2.3h-2.3zM545.2 342.0h2.3v2.3h-2.3zM628.6 342.0h11.6v2.3h-11.6zM644.9 342.0h4.6v2.3h-4.6zM482.6 344.3h2.3v2.3h-2.3zM628.6 344.3h7.0v2.3h-7.0zM649.5 344.3h2.3v2.3h-2.3zM484.9 346.6h4.6v2.3h-4.6zM496.5 346.6h2.3v2.3h-2.3zM552.1 346.6h2.3v2.3h-2.3zM649.5 346.6h4.6v2.3h-4.6zM556.8 348.9h2.3v2.3h-2.3zM631.0 348.9h9.3v2.3h-9.3zM644.9 348.9h2.3v2.3h-2.3zM649.5 348.9h2.3v2.3h-2.3zM487.2 351.2h2.3v2.3h-2.3zM628.6 351.2h9.3v2.3h-9.3zM647.2 351.2h2.3v2.3h-2.3zM480.3 353.6h2.3v2.3h-2.3zM484.9 353.6h2.3v2.3h-2.3zM626.3 353.6h2.3v2.3h-2.3zM642.5 353.6h7.0v2.3h-7.0zM644.9 355.9h4.6v2.3h-4.6zM484.9 358.2h2.3v2.3h-2.3zM482.6 360.5h2.3v2.3h-2.3zM668.0 360.5h2.3v2.3h-2.3z" fill="#f0a95f"/>
<path d="M447.8 288.7h2.3v2.3h-2.3z" fill="#ea6d45"/>
<path d="M447.8 286.4h2.3v2.3h-2.3z" fill="#d83a2b"/>
<path d="M545.2 281.8h2.3v2.3h-2.3zM542.9 286.4h2.3v2.3h-2.3z" fill="#a31b2c"/>
<path d="M415.3 272.5h4.6v2.3h-4.6zM596.2 272.5h2.3v2.3h-2.3zM603.1 272.5h9.3v2.3h-9.3zM642.5 272.5h4.6v2.3h-4.6zM408.4 274.8h2.3v2.3h-2.3zM415.3 274.8h7.0v2.3h-7.0zM424.6 274.8h2.3v2.3h-2.3zM575.3 274.8h2.3v2.3h-2.3zM598.5 274.8h2.3v2.3h-2.3zM603.1 274.8h4.6v2.3h-4.6zM610.1 274.8h4.6v2.3h-4.6zM619.4 274.8h11.6v2.3h-11.6zM642.5 274.8h4.6v2.3h-4.6zM410.7 277.1h4.6v2.3h-4.6zM417.7 277.1h2.3v2.3h-2.3zM422.3 277.1h7.0v2.3h-7.0zM431.6 277.1h2.3v2.3h-2.3zM436.2 277.1h2.3v2.3h-2.3zM461.7 277.1h2.3v2.3h-2.3zM466.4 277.1h2.3v2.3h-2.3zM471.0 277.1h2.3v2.3h-2.3zM475.6 277.1h4.6v2.3h-4.6zM566.0 277.1h2.3v2.3h-2.3zM577.6 277.1h7.0v2.3h-7.0zM586.9 277.1h7.0v2.3h-7.0zM596.2 277.1h2.3v2.3h-2.3zM600.8 277.1h2.3v2.3h-2.3zM607.8 277.1h2.3v2.3h-2.3zM612.4 277.1h2.3v2.3h-2.3zM617.0 277.1h4.6v2.3h-4.6zM628.6 277.1h7.0v2.3h-7.0zM642.5 277.1h2.3v2.3h-2.3zM413.0 279.4h2.3v2.3h-2.3zM417.7 279.4h11.6v2.3h-11.6zM433.9 279.4h2.3v2.3h-2.3zM450.1 279.4h4.6v2.3h-4.6zM457.1 279.4h7.0v2.3h-7.0zM475.6 279.4h4.6v2.3h-4.6zM542.9 279.4h2.3v2.3h-2.3zM547.5 279.4h2.3v2.3h-2.3zM552.1 279.4h4.6v2.3h-4.6zM563.7 279.4h2.3v2.3h-2.3zM568.4 279.4h9.3v2.3h-9.3zM579.9 279.4h4.6v2.3h-4.6zM586.9 279.4h2.3v2.3h-2.3zM591.5 279.4h7.0v2.3h-7.0zM600.8 279.4h4.6v2.3h-4.6zM607.8 279.4h4.6v2.3h-4.6zM617.0 279.4h27.8v2.3h-27.8zM413.0 281.8h2.3v2.3h-2.3zM431.6 281.8h2.3v2.3h-2.3zM438.5 281.8h2.3v2.3h-2.3zM445.5 281.8h7.0v2.3h-7.0zM461.7 281.8h2.3v2.3h-2.3zM484.9 281.8h2.3v2.3h-2.3zM561.4 281.8h2.3v2.3h-2.3zM566.0 281.8h4.6v2.3h-4.6zM573.0 281.8h2.3v2.3h-2.3zM579.9 281.8h4.6v2.3h-4.6zM593.9 281.8h13.9v2.3h-13.9zM610.1 281.8h9.3v2.3h-9.3zM621.7 281.8h4.6v2.3h-4.6zM631.0 281.8h4.6v2.3h-4.6zM640.2 281.8h4.6v2.3h-4.6zM436.2 284.1h2.3v2.3h-2.3zM445.5 284.1h4.6v2.3h-4.6zM464.0 284.1h2.3v2.3h-2.3zM475.6 284.1h2.3v2.3h-2.3zM482.6 284.1h7.0v2.3h-7.0zM545.2 284.1h2.3v2.3h-2.3zM552.1 284.1h2.3v2.3h-2.3zM561.4 284.1h13.9v2.3h-13.9zM577.6 284.1h2.3v2.3h-2.3zM582.3 284.1h2.3v2.3h-2.3zM586.9 284.1h16.2v2.3h-16.2zM607.8 284.1h4.6v2.3h-4.6zM619.4 284.1h2.3v2.3h-2.3zM628.6 284.1h9.3v2.3h-9.3zM436.2 286.4h2.3v2.3h-2.3zM445.5 286.4h2.3v2.3h-2.3zM450.1 286.4h23.2v2.3h-23.2zM480.3 286.4h2.3v2.3h-2.3zM489.5 286.4h2.3v2.3h-2.3zM531.3 286.4h4.6v2.3h-4.6zM545.2 286.4h2.3v2.3h-2.3zM559.1 286.4h7.0v2.3h-7.0zM573.0 286.4h4.6v2.3h-4.6zM579.9 286.4h7.0v2.3h-7.0zM589.2 286.4h4.6v2.3h-4.6zM596.2 286.4h9.3v2.3h-9.3zM612.4 286.4h4.6v2.3h-4.6zM626.3 286.4h2.3v2.3h-2.3zM631.0 286.4h4.6v2.3h-4.6zM642.5 286.4h4.6v2.3h-4.6zM443.2 288.7h4.6v2.3h-4.6zM452.4 288.7h2.3v2.3h-2.3zM457.1 288.7h2.3v2.3h-2.3zM461.7 288.7h2.3v2.3h-2.3zM468.7 288.7h2.3v2.3h-2.3zM475.6 288.7h2.3v2.3h-2.3zM538.2 288.7h7.0v2.3h-7.0zM549.8 288.7h2.3v2.3h-2.3zM554.4 288.7h4.6v2.3h-4.6zM566.0 288.7h7.0v2.3h-7.0zM596.2 288.7h2.3v2.3h-2.3zM603.1 288.7h2.3v2.3h-2.3zM612.4 288.7h2.3v2.3h-2.3zM617.0 288.7h2.3v2.3h-2.3zM626.3 288.7h13.9v2.3h-13.9zM644.9 288.7h2.3v2.3h-2.3zM459.4 291.0h2.3v2.3h-2.3zM466.4 291.0h2.3v2.3h-2.3zM477.9 291.0h2.3v2.3h-2.3zM484.9 291.0h2.3v2.3h-2.3zM535.9 291.0h2.3v2.3h-2.3zM542.9 291.0h2.3v2.3h-2.3zM554.4 291.0h4.6v2.3h-4.6zM628.6 291.0h2.3v2.3h-2.3zM635.6 291.0h2.3v2.3h-2.3zM640.2 291.0h2.3v2.3h-2.3zM464.0 293.3h4.6v2.3h-4.6zM473.3 293.3h2.3v2.3h-2.3zM549.8 293.3h2.3v2.3h-2.3zM554.4 293.3h2.3v2.3h-2.3zM566.0 293.3h2.3v2.3h-2.3zM626.3 293.3h4.6v2.3h-4.6zM635.6 293.3h4.6v2.3h-4.6zM440.8 295.7h2.3v2.3h-2.3zM459.4 295.7h2.3v2.3h-2.3zM468.7 295.7h2.3v2.3h-2.3zM473.3 295.7h4.6v2.3h-4.6zM528.9 295.7h7.0v2.3h-7.0zM447.8 298.0h2.3v2.3h-2.3zM475.6 298.0h2.3v2.3h-2.3zM607.8 298.0h4.6v2.3h-4.6zM614.7 298.0h2.3v2.3h-2.3zM457.1 300.3h2.3v2.3h-2.3zM605.5 300.3h2.3v2.3h-2.3zM610.1 300.3h13.9v2.3h-13.9zM464.0 302.6h2.3v2.3h-2.3zM471.0 302.6h2.3v2.3h-2.3zM600.8 302.6h7.0v2.3h-7.0zM612.4 302.6h11.6v2.3h-11.6zM626.3 302.6h2.3v2.3h-2.3zM603.1 304.9h7.0v2.3h-7.0zM612.4 304.9h4.6v2.3h-4.6zM619.4 304.9h2.3v2.3h-2.3zM626.3 304.9h2.3v2.3h-2.3zM614.7 307.2h2.3v2.3h-2.3zM619.4 307.2h4.6v2.3h-4.6zM607.8 309.6h2.3v2.3h-2.3zM466.4 311.9h2.3v2.3h-2.3zM607.8 311.9h2.3v2.3h-2.3zM612.4 311.9h2.3v2.3h-2.3zM619.4 311.9h2.3v2.3h-2.3zM535.9 314.2h2.3v2.3h-2.3zM607.8 314.2h2.3v2.3h-2.3zM533.6 316.5h7.0v2.3h-7.0zM542.9 316.5h2.3v2.3h-2.3zM554.4 316.5h2.3v2.3h-2.3zM617.0 316.5h2.3v2.3h-2.3zM477.9 318.8h9.3v2.3h-9.3zM528.9 318.8h2.3v2.3h-2.3zM538.2 318.8h2.3v2.3h-2.3zM542.9 318.8h2.3v2.3h-2.3zM547.5 318.8h2.3v2.3h-2.3zM552.1 318.8h2.3v2.3h-2.3zM556.8 318.8h2.3v2.3h-2.3zM475.6 321.1h2.3v2.3h-2.3zM480.3 321.1h9.3v2.3h-9.3zM526.6 321.1h4.6v2.3h-4.6zM535.9 321.1h2.3v2.3h-2.3zM542.9 321.1h2.3v2.3h-2.3zM563.7 321.1h2.3v2.3h-2.3zM475.6 323.4h16.2v2.3h-16.2zM542.9 323.4h4.6v2.3h-4.6zM549.8 323.4h9.3v2.3h-9.3zM561.4 323.4h2.3v2.3h-2.3zM475.6 325.8h20.9v2.3h-20.9zM549.8 325.8h4.6v2.3h-4.6zM556.8 325.8h2.3v2.3h-2.3zM561.4 325.8h4.6v2.3h-4.6zM477.9 328.1h2.3v2.3h-2.3zM482.6 328.1h16.2v2.3h-16.2zM542.9 328.1h2.3v2.3h-2.3zM547.5 328.1h13.9v2.3h-13.9zM614.7 328.1h2.3v2.3h-2.3zM621.7 328.1h4.6v2.3h-4.6zM473.3 330.4h2.3v2.3h-2.3zM480.3 330.4h2.3v2.3h-2.3zM487.2 330.4h13.9v2.3h-13.9zM545.2 330.4h4.6v2.3h-4.6zM552.1 330.4h2.3v2.3h-2.3zM556.8 330.4h9.3v2.3h-9.3zM642.5 330.4h4.6v2.3h-4.6zM480.3 332.7h2.3v2.3h-2.3zM487.2 332.7h11.6v2.3h-11.6zM552.1 332.7h2.3v2.3h-2.3zM559.1 332.7h2.3v2.3h-2.3zM563.7 332.7h2.3v2.3h-2.3zM621.7 332.7h2.3v2.3h-2.3zM489.5 335.0h2.3v2.3h-2.3zM496.5 335.0h9.3v2.3h-9.3zM547.5 335.0h4.6v2.3h-4.6zM554.4 335.0h7.0v2.3h-7.0zM498.8 337.3h2.3v2.3h-2.3zM552.1 337.3h7.0v2.3h-7.0zM563.7 337.3h4.6v2.3h-4.6zM484.9 339.7h2.3v2.3h-2.3zM489.5 339.7h2.3v2.3h-2.3zM496.5 339.7h2.3v2.3h-2.3zM503.4 339.7h2.3v2.3h-2.3zM545.2 339.7h2.3v2.3h-2.3zM549.8 339.7h16.2v2.3h-16.2zM489.5 342.0h2.3v2.3h-2.3zM496.5 342.0h2.3v2.3h-2.3zM501.1 342.0h2.3v2.3h-2.3zM545.2 342.0h2.3v2.3h-2.3zM556.8 342.0h4.6v2.3h-4.6zM635.6 342.0h4.6v2.3h-4.6zM482.6 344.3h4.6v2.3h-4.6zM494.2 344.3h2.3v2.3h-2.3zM501.1 344.3h2.3v2.3h-2.3zM554.4 344.3h2.3v2.3h-2.3zM626.3 344.3h2.3v2.3h-2.3zM487.2 346.6h2.3v2.3h-2.3zM554.4 346.6h2.3v2.3h-2.3zM633.3 346.6h2.3v2.3h-2.3zM487.2 348.9h2.3v2.3h-2.3zM496.5 348.9h2.3v2.3h-2.3zM547.5 348.9h2.3v2.3h-2.3zM644.9 348.9h2.3v2.3h-2.3zM494.2 351.2h2.3v2.3h-2.3zM556.8 351.2h2.3v2.3h-2.3zM642.5 351.2h2.3v2.3h-2.3zM649.5 351.2h2.3v2.3h-2.3zM644.9 353.6h4.6v2.3h-4.6zM482.6 355.9h2.3v2.3h-2.3zM644.9 355.9h2.3v2.3h-2.3zM480.3 365.1h2.3v2.3h-2.3z" fill="url(#stipd)"/>
<use href="#coast" transform="translate(396.80 258.60) scale(1.0007 0.9983)" fill="none" stroke="#7a7a7a" stroke-width="0.65" stroke-linejoin="round"/>
</g>
<path d="M425.00,319.10 V367.80 M424.50,332.30 H466.60" stroke="#3a3a3a" stroke-width="0.8" fill="none"/>
<path d="M423.00,332.30 H425.00 M423.00,350.50 H425.00 M423.00,367.80 H425.00" stroke="#3a3a3a" stroke-width="0.8"/>
<text x="409.70" y="334.70" font-size="6.90" text-anchor="middle" fill="#262626" textLength="4.26" lengthAdjust="spacingAndGlyphs">0</text>
<text x="411.80" y="352.90" font-size="6.90" text-anchor="middle" fill="#262626" textLength="21.60" lengthAdjust="spacingAndGlyphs">-0.004</text>
<text x="411.80" y="370.20" font-size="6.90" text-anchor="middle" fill="#262626" textLength="21.60" lengthAdjust="spacingAndGlyphs">-0.008</text>
<path d="M435.30,348.40 V362.60 M431.30,362.60 H439.30" stroke="#333" stroke-width="0.8" fill="none"/>
<rect x="431.00" y="332.30" width="8.60" height="16.10" fill="#3d7ec8" stroke="#1a1a1a" stroke-width="0.6"/>
<path d="M445.65,341.60 V353.40 M441.70,353.40 H449.60" stroke="#555" stroke-width="0.8" fill="none"/>
<rect x="441.40" y="332.30" width="8.50" height="9.30" fill="#a2a2a2" stroke="#444" stroke-width="0.6"/>
<path d="M456.35,331.50 V323.00 M452.40,323.00 H460.30" stroke="#333" stroke-width="0.8" fill="none"/>
<rect x="452.10" y="331.50" width="8.50" height="0.80" fill="#e25a23" stroke="#2a1a10" stroke-width="0.6"/>
<rect x="396.80" y="258.60" width="278.20" height="115.80" fill="none" stroke="#3a3a3a" stroke-width="1"/>
<path d="M393.30,258.60 H396.80 M675.00,258.60 H678.50 M393.30,281.76 H396.80 M675.00,281.76 H678.50 M393.30,304.92 H396.80 M675.00,304.92 H678.50 M393.30,328.08 H396.80 M675.00,328.08 H678.50 M393.30,351.24 H396.80 M675.00,351.24 H678.50 M393.30,374.40 H396.80 M675.00,374.40 H678.50 M396.80,374.40 V377.90 M396.80,255.10 V258.60 M443.17,374.40 V377.90 M443.17,255.10 V258.60 M489.53,374.40 V377.90 M489.53,255.10 V258.60 M535.90,374.40 V377.90 M535.90,255.10 V258.60 M582.27,374.40 V377.90 M582.27,255.10 V258.60 M628.63,374.40 V377.90 M628.63,255.10 V258.60 M675.00,374.40 V377.90 M675.00,255.10 V258.60" stroke="#3a3a3a" stroke-width="1" fill="none"/>
<text x="392.10" y="261.80" font-size="8.76" text-anchor="end" fill="#262626" textLength="21.43" lengthAdjust="spacingAndGlyphs">90°N</text>
<text x="392.10" y="284.96" font-size="8.76" text-anchor="end" fill="#262626" textLength="21.43" lengthAdjust="spacingAndGlyphs">60°N</text>
<text x="392.10" y="308.12" font-size="8.76" text-anchor="end" fill="#262626" textLength="21.43" lengthAdjust="spacingAndGlyphs">30°N</text>
<text x="392.10" y="331.28" font-size="8.76" text-anchor="end" fill="#262626" textLength="9.66" lengthAdjust="spacingAndGlyphs">0°</text>
<text x="392.10" y="354.44" font-size="8.76" text-anchor="end" fill="#262626" textLength="20.46" lengthAdjust="spacingAndGlyphs">30°S</text>
<text x="392.10" y="377.60" font-size="8.76" text-anchor="end" fill="#262626" textLength="20.46" lengthAdjust="spacingAndGlyphs">60°S</text>
<text x="396.80" y="387.00" font-size="8.76" text-anchor="middle" fill="#262626" textLength="20.47" lengthAdjust="spacingAndGlyphs">180°</text>
<text x="443.17" y="387.00" font-size="8.76" text-anchor="middle" fill="#262626" textLength="28.88" lengthAdjust="spacingAndGlyphs">120°W</text>
<text x="489.53" y="387.00" font-size="8.76" text-anchor="middle" fill="#262626" textLength="23.47" lengthAdjust="spacingAndGlyphs">60°W</text>
<text x="535.90" y="387.00" font-size="8.76" text-anchor="middle" fill="#262626" textLength="9.66" lengthAdjust="spacingAndGlyphs">0°</text>
<text x="582.27" y="387.00" font-size="8.76" text-anchor="middle" fill="#262626" textLength="20.44" lengthAdjust="spacingAndGlyphs">60°E</text>
<text x="628.63" y="387.00" font-size="8.76" text-anchor="middle" fill="#262626" textLength="25.85" lengthAdjust="spacingAndGlyphs">120°E</text>
<text x="675.00" y="387.00" font-size="8.76" text-anchor="middle" fill="#262626" textLength="20.47" lengthAdjust="spacingAndGlyphs">180°</text>
<text x="535.90" y="398.80" font-size="11.33" text-anchor="middle" fill="#262626" textLength="54.71" lengthAdjust="spacingAndGlyphs">Longitude</text>
<text x="367.50" y="316.50" font-size="11.33" text-anchor="middle" fill="#262626" textLength="45.27" lengthAdjust="spacingAndGlyphs" transform="rotate(-90 367.50 316.50)">Latitude</text>
<text x="354.50" y="250.60" font-size="20.5" fill="#000">d</text>
<rect x="396.60" y="413.10" width="28.14" height="10.40" fill="#323894"/>
<rect x="424.44" y="413.10" width="28.14" height="10.40" fill="#4a7bbb"/>
<rect x="452.28" y="413.10" width="28.14" height="10.40" fill="#78aed3"/>
<rect x="480.12" y="413.10" width="28.14" height="10.40" fill="#b0dde9"/>
<rect x="507.96" y="413.10" width="28.14" height="10.40" fill="#e3f4f8"/>
<rect x="535.80" y="413.10" width="28.14" height="10.40" fill="#f2e092"/>
<rect x="563.64" y="413.10" width="28.14" height="10.40" fill="#f0a95f"/>
<rect x="591.48" y="413.10" width="28.14" height="10.40" fill="#ea6d45"/>
<rect x="619.32" y="413.10" width="28.14" height="10.40" fill="#d83a2b"/>
<rect x="647.16" y="413.10" width="28.14" height="10.40" fill="#a31b2c"/>
<path d="M424.44,421.50 V423.50 M452.28,421.50 V423.50 M480.12,421.50 V423.50 M507.96,421.50 V423.50 M535.80,421.50 V423.50 M563.64,421.50 V423.50 M591.48,421.50 V423.50 M619.32,421.50 V423.50 M647.16,421.50 V423.50" stroke="#222" stroke-width="0.8"/>
<rect x="396.60" y="413.10" width="278.40" height="10.40" fill="none" stroke="#222" stroke-width="0.8"/>
<text x="424.44" y="435.80" font-size="8.24" text-anchor="middle" fill="#262626" textLength="20.70" lengthAdjust="spacingAndGlyphs">-0.03</text>
<text x="452.28" y="435.80" font-size="8.24" text-anchor="middle" fill="#262626" textLength="20.70" lengthAdjust="spacingAndGlyphs">-0.02</text>
<text x="480.12" y="435.80" font-size="8.24" text-anchor="middle" fill="#262626" textLength="20.70" lengthAdjust="spacingAndGlyphs">-0.01</text>
<text x="507.96" y="435.80" font-size="8.24" text-anchor="middle" fill="#262626" textLength="25.79" lengthAdjust="spacingAndGlyphs">-0.001</text>
<text x="529.40" y="435.80" font-size="8.24" text-anchor="middle" fill="#262626" textLength="5.09" lengthAdjust="spacingAndGlyphs">0</text>
<text x="562.25" y="435.80" font-size="8.24" text-anchor="middle" fill="#262626" textLength="22.90" lengthAdjust="spacingAndGlyphs">0.001</text>
<text x="591.48" y="435.80" font-size="8.24" text-anchor="middle" fill="#262626" textLength="17.81" lengthAdjust="spacingAndGlyphs">0.01</text>
<text x="619.32" y="435.80" font-size="8.24" text-anchor="middle" fill="#262626" textLength="17.81" lengthAdjust="spacingAndGlyphs">0.02</text>
<text x="647.16" y="435.80" font-size="8.24" text-anchor="middle" fill="#262626" textLength="17.81" lengthAdjust="spacingAndGlyphs">0.03</text>
<text x="535.80" y="448.70" font-size="11.33" text-anchor="middle" fill="#262626" textLength="201.03" lengthAdjust="spacingAndGlyphs">Biophysical temperature effects (°C)</text>
<g clip-path="url(#clipe)">
<path d="M274.2 518.7h2.3v2.3h-2.3zM269.5 523.3h2.3v2.3h-2.3zM281.1 523.3h2.3v2.3h-2.3z" fill="#573610"/>
<path d="M93.5 514.0h2.3v2.3h-2.3zM274.2 514.0h4.6v2.3h-4.6zM283.4 514.0h2.3v2.3h-2.3zM93.5 516.3h2.3v2.3h-2.3zM271.9 516.3h4.6v2.3h-4.6zM278.8 516.3h6.9v2.3h-6.9zM271.9 518.7h2.3v2.3h-2.3zM278.8 518.7h4.6v2.3h-4.6zM86.5 521.0h2.3v2.3h-2.3zM93.5 521.0h2.3v2.3h-2.3zM193.1 521.0h2.3v2.3h-2.3zM200.0 521.0h2.3v2.3h-2.3zM278.8 521.0h4.6v2.3h-4.6zM195.4 523.3h4.6v2.3h-4.6zM260.3 523.3h2.3v2.3h-2.3zM267.2 523.3h2.3v2.3h-2.3zM274.2 523.3h2.3v2.3h-2.3zM278.8 523.3h2.3v2.3h-2.3zM195.4 525.6h2.3v2.3h-2.3zM278.8 525.6h2.3v2.3h-2.3zM190.8 532.5h2.3v2.3h-2.3zM181.5 534.9h2.3v2.3h-2.3zM237.1 548.7h2.3v2.3h-2.3zM190.8 560.3h2.3v2.3h-2.3zM195.4 562.6h2.3v2.3h-2.3zM128.2 564.9h2.3v2.3h-2.3zM195.4 564.9h6.9v2.3h-6.9zM128.2 567.2h2.3v2.3h-2.3zM139.8 567.2h2.3v2.3h-2.3zM139.8 569.6h2.3v2.3h-2.3z" fill="#8f5a1e"/>
<path d="M271.9 511.7h4.6v2.3h-4.6zM281.1 511.7h4.6v2.3h-4.6zM84.2 514.0h4.6v2.3h-4.6zM262.6 514.0h2.3v2.3h-2.3zM278.8 514.0h4.6v2.3h-4.6zM84.2 516.3h9.3v2.3h-9.3zM262.6 516.3h2.3v2.3h-2.3zM269.5 516.3h2.3v2.3h-2.3zM276.5 516.3h2.3v2.3h-2.3zM86.5 518.7h4.6v2.3h-4.6zM93.5 518.7h2.3v2.3h-2.3zM262.6 518.7h4.6v2.3h-4.6zM276.5 518.7h2.3v2.3h-2.3zM84.2 521.0h2.3v2.3h-2.3zM88.8 521.0h2.3v2.3h-2.3zM181.5 521.0h4.6v2.3h-4.6zM188.4 521.0h2.3v2.3h-2.3zM195.4 521.0h2.3v2.3h-2.3zM204.7 521.0h2.3v2.3h-2.3zM260.3 521.0h2.3v2.3h-2.3zM267.2 521.0h4.6v2.3h-4.6zM200.0 523.3h6.9v2.3h-6.9zM276.5 523.3h2.3v2.3h-2.3zM183.8 525.6h2.3v2.3h-2.3zM200.0 525.6h4.6v2.3h-4.6zM262.6 525.6h2.3v2.3h-2.3zM267.2 525.6h4.6v2.3h-4.6zM274.2 525.6h4.6v2.3h-4.6zM179.2 527.9h2.3v2.3h-2.3zM193.1 527.9h2.3v2.3h-2.3zM278.8 527.9h2.3v2.3h-2.3zM179.2 530.2h2.3v2.3h-2.3zM207.0 530.2h2.3v2.3h-2.3zM183.8 534.9h4.6v2.3h-4.6zM237.1 534.9h4.6v2.3h-4.6zM234.8 539.5h2.3v2.3h-2.3zM241.7 539.5h4.6v2.3h-4.6zM237.1 541.8h2.3v2.3h-2.3zM237.1 544.1h2.3v2.3h-2.3zM241.7 544.1h2.3v2.3h-2.3zM197.7 555.7h2.3v2.3h-2.3zM190.8 558.0h2.3v2.3h-2.3zM130.5 562.6h2.3v2.3h-2.3zM200.0 562.6h2.3v2.3h-2.3zM139.8 564.9h4.6v2.3h-4.6zM193.1 564.9h2.3v2.3h-2.3zM125.9 567.2h2.3v2.3h-2.3zM130.5 567.2h2.3v2.3h-2.3zM125.9 569.6h2.3v2.3h-2.3zM130.5 569.6h2.3v2.3h-2.3zM132.8 571.9h2.3v2.3h-2.3zM132.8 574.2h2.3v2.3h-2.3zM142.1 574.2h2.3v2.3h-2.3zM128.2 576.5h2.3v2.3h-2.3zM137.5 578.8h2.3v2.3h-2.3zM142.1 581.1h2.3v2.3h-2.3z" fill="#bf8737"/>
<path d="M58.7 509.4h2.3v2.3h-2.3zM251.0 509.4h2.3v2.3h-2.3zM276.5 511.7h2.3v2.3h-2.3zM246.4 514.0h2.3v2.3h-2.3zM253.3 514.0h4.6v2.3h-4.6zM81.9 516.3h2.3v2.3h-2.3zM220.9 516.3h2.3v2.3h-2.3zM246.4 516.3h2.3v2.3h-2.3zM84.2 518.7h2.3v2.3h-2.3zM207.0 518.7h2.3v2.3h-2.3zM220.9 518.7h2.3v2.3h-2.3zM267.2 518.7h4.6v2.3h-4.6zM176.9 521.0h2.3v2.3h-2.3zM220.9 521.0h2.3v2.3h-2.3zM225.5 521.0h2.3v2.3h-2.3zM244.1 521.0h2.3v2.3h-2.3zM262.6 521.0h2.3v2.3h-2.3zM276.5 521.0h2.3v2.3h-2.3zM190.8 523.3h2.3v2.3h-2.3zM209.3 523.3h2.3v2.3h-2.3zM218.6 523.3h2.3v2.3h-2.3zM239.4 523.3h2.3v2.3h-2.3zM262.6 523.3h4.6v2.3h-4.6zM271.9 523.3h2.3v2.3h-2.3zM181.5 525.6h2.3v2.3h-2.3zM188.4 525.6h4.6v2.3h-4.6zM251.0 525.6h2.3v2.3h-2.3zM264.9 525.6h2.3v2.3h-2.3zM183.8 527.9h2.3v2.3h-2.3zM200.0 527.9h2.3v2.3h-2.3zM271.9 527.9h2.3v2.3h-2.3zM276.5 527.9h2.3v2.3h-2.3zM121.3 530.2h2.3v2.3h-2.3zM174.6 530.2h2.3v2.3h-2.3zM193.1 530.2h6.9v2.3h-6.9zM204.7 530.2h2.3v2.3h-2.3zM216.2 530.2h2.3v2.3h-2.3zM119.0 532.5h2.3v2.3h-2.3zM197.7 532.5h2.3v2.3h-2.3zM207.0 532.5h4.6v2.3h-4.6zM216.2 532.5h2.3v2.3h-2.3zM95.8 534.9h2.3v2.3h-2.3zM109.7 534.9h4.6v2.3h-4.6zM116.6 534.9h2.3v2.3h-2.3zM241.7 534.9h2.3v2.3h-2.3zM116.6 537.2h2.3v2.3h-2.3zM234.8 537.2h2.3v2.3h-2.3zM239.4 537.2h2.3v2.3h-2.3zM244.1 537.2h2.3v2.3h-2.3zM230.2 539.5h2.3v2.3h-2.3zM234.8 541.8h2.3v2.3h-2.3zM244.1 541.8h2.3v2.3h-2.3zM244.1 544.1h2.3v2.3h-2.3zM244.1 546.4h2.3v2.3h-2.3zM262.6 548.7h2.3v2.3h-2.3zM200.0 551.0h2.3v2.3h-2.3zM179.2 555.7h2.3v2.3h-2.3zM188.4 555.7h9.3v2.3h-9.3zM200.0 555.7h4.6v2.3h-4.6zM193.1 558.0h2.3v2.3h-2.3zM197.7 558.0h4.6v2.3h-4.6zM121.3 560.3h2.3v2.3h-2.3zM132.8 560.3h2.3v2.3h-2.3zM269.5 560.3h2.3v2.3h-2.3zM190.8 562.6h4.6v2.3h-4.6zM197.7 562.6h2.3v2.3h-2.3zM207.0 562.6h4.6v2.3h-4.6zM260.3 562.6h2.3v2.3h-2.3zM123.6 564.9h4.6v2.3h-4.6zM130.5 564.9h2.3v2.3h-2.3zM190.8 564.9h2.3v2.3h-2.3zM137.5 567.2h2.3v2.3h-2.3zM142.1 567.2h2.3v2.3h-2.3zM149.1 567.2h2.3v2.3h-2.3zM123.6 569.6h2.3v2.3h-2.3zM137.5 569.6h2.3v2.3h-2.3zM137.5 571.9h2.3v2.3h-2.3zM144.4 571.9h2.3v2.3h-2.3zM137.5 574.2h2.3v2.3h-2.3zM276.5 574.2h2.3v2.3h-2.3zM130.5 576.5h2.3v2.3h-2.3zM137.5 576.5h4.6v2.3h-4.6zM135.2 578.8h2.3v2.3h-2.3zM207.0 578.8h2.3v2.3h-2.3zM139.8 581.1h2.3v2.3h-2.3zM197.7 585.8h6.9v2.3h-6.9zM271.9 585.8h2.3v2.3h-2.3zM128.2 588.1h2.3v2.3h-2.3zM128.2 590.4h4.6v2.3h-4.6zM123.6 595.0h2.3v2.3h-2.3z" fill="#dcc27f"/>
<path d="M121.3 497.8h2.3v2.3h-2.3zM257.9 500.1h4.6v2.3h-4.6zM269.5 504.8h2.3v2.3h-2.3zM251.0 507.1h2.3v2.3h-2.3zM107.4 509.4h2.3v2.3h-2.3zM253.3 511.7h2.3v2.3h-2.3zM70.3 514.0h2.3v2.3h-2.3zM237.1 514.0h2.3v2.3h-2.3zM241.7 514.0h4.6v2.3h-4.6zM251.0 514.0h2.3v2.3h-2.3zM225.5 516.3h2.3v2.3h-2.3zM232.5 516.3h4.6v2.3h-4.6zM244.1 516.3h2.3v2.3h-2.3zM248.7 516.3h4.6v2.3h-4.6zM176.9 518.7h2.3v2.3h-2.3zM218.6 518.7h2.3v2.3h-2.3zM223.2 518.7h7.0v2.3h-7.0zM239.4 518.7h2.3v2.3h-2.3zM246.4 518.7h6.9v2.3h-6.9zM186.1 521.0h2.3v2.3h-2.3zM197.7 521.0h2.3v2.3h-2.3zM207.0 521.0h2.3v2.3h-2.3zM218.6 521.0h2.3v2.3h-2.3zM237.1 521.0h4.6v2.3h-4.6zM246.4 521.0h2.3v2.3h-2.3zM93.5 523.3h2.3v2.3h-2.3zM181.5 523.3h4.6v2.3h-4.6zM193.1 523.3h2.3v2.3h-2.3zM244.1 523.3h2.3v2.3h-2.3zM248.7 523.3h4.6v2.3h-4.6zM179.2 525.6h2.3v2.3h-2.3zM186.1 525.6h2.3v2.3h-2.3zM193.1 525.6h2.3v2.3h-2.3zM197.7 525.6h2.3v2.3h-2.3zM207.0 525.6h2.3v2.3h-2.3zM218.6 525.6h2.3v2.3h-2.3zM223.2 525.6h4.6v2.3h-4.6zM232.5 525.6h2.3v2.3h-2.3zM244.1 525.6h2.3v2.3h-2.3zM88.8 530.2h2.3v2.3h-2.3zM109.7 530.2h2.3v2.3h-2.3zM202.3 530.2h2.3v2.3h-2.3zM209.3 530.2h2.3v2.3h-2.3zM260.3 530.2h2.3v2.3h-2.3zM267.2 530.2h2.3v2.3h-2.3zM271.9 530.2h2.3v2.3h-2.3zM102.7 532.5h2.3v2.3h-2.3zM202.3 532.5h2.3v2.3h-2.3zM255.6 532.5h2.3v2.3h-2.3zM105.0 534.9h2.3v2.3h-2.3zM176.9 534.9h4.6v2.3h-4.6zM112.0 537.2h2.3v2.3h-2.3zM188.4 539.5h2.3v2.3h-2.3zM230.2 541.8h2.3v2.3h-2.3zM195.4 544.1h2.3v2.3h-2.3zM172.2 546.4h2.3v2.3h-2.3zM195.4 546.4h4.6v2.3h-4.6zM197.7 553.4h4.6v2.3h-4.6zM125.9 555.7h2.3v2.3h-2.3zM188.4 558.0h2.3v2.3h-2.3zM123.6 560.3h4.6v2.3h-4.6zM130.5 560.3h2.3v2.3h-2.3zM135.2 560.3h4.6v2.3h-4.6zM188.4 560.3h2.3v2.3h-2.3zM267.2 560.3h2.3v2.3h-2.3zM271.9 560.3h2.3v2.3h-2.3zM204.7 562.6h2.3v2.3h-2.3zM132.8 564.9h2.3v2.3h-2.3zM137.5 564.9h2.3v2.3h-2.3zM209.3 564.9h2.3v2.3h-2.3zM260.3 564.9h2.3v2.3h-2.3zM209.3 567.2h2.3v2.3h-2.3zM125.9 571.9h2.3v2.3h-2.3zM135.2 571.9h2.3v2.3h-2.3zM193.1 571.9h2.3v2.3h-2.3zM202.3 571.9h2.3v2.3h-2.3zM128.2 574.2h2.3v2.3h-2.3zM139.8 574.2h2.3v2.3h-2.3zM144.4 574.2h2.3v2.3h-2.3zM193.1 574.2h2.3v2.3h-2.3zM202.3 574.2h2.3v2.3h-2.3zM283.4 574.2h2.3v2.3h-2.3zM290.4 574.2h2.3v2.3h-2.3zM142.1 576.5h2.3v2.3h-2.3zM190.8 576.5h2.3v2.3h-2.3zM200.0 576.5h9.3v2.3h-9.3zM146.8 578.8h2.3v2.3h-2.3zM202.3 578.8h4.6v2.3h-4.6zM213.9 578.8h2.3v2.3h-2.3zM269.5 578.8h2.3v2.3h-2.3zM278.8 578.8h6.9v2.3h-6.9zM204.7 581.1h2.3v2.3h-2.3zM278.8 583.4h2.3v2.3h-2.3zM283.4 583.4h2.3v2.3h-2.3zM283.4 585.8h2.3v2.3h-2.3zM125.9 588.1h2.3v2.3h-2.3zM195.4 588.1h2.3v2.3h-2.3zM132.8 590.4h2.3v2.3h-2.3zM315.9 590.4h2.3v2.3h-2.3zM123.6 592.7h7.0v2.3h-7.0zM125.9 595.0h2.3v2.3h-2.3z" fill="#f2e8c2"/>
<path d="M119.0 497.8h2.3v2.3h-2.3zM123.6 497.8h9.3v2.3h-9.3zM142.1 497.8h23.2v2.3h-23.2zM114.3 500.1h11.6v2.3h-11.6zM128.2 500.1h39.4v2.3h-39.4zM190.8 500.1h9.3v2.3h-9.3zM91.2 502.5h4.6v2.3h-4.6zM105.0 502.5h2.3v2.3h-2.3zM114.3 502.5h2.3v2.3h-2.3zM119.0 502.5h2.3v2.3h-2.3zM128.2 502.5h39.4v2.3h-39.4zM227.8 502.5h6.9v2.3h-6.9zM260.3 502.5h7.0v2.3h-7.0zM86.5 504.8h4.6v2.3h-4.6zM105.0 504.8h2.3v2.3h-2.3zM109.7 504.8h2.3v2.3h-2.3zM116.6 504.8h2.3v2.3h-2.3zM137.5 504.8h27.8v2.3h-27.8zM223.2 504.8h2.3v2.3h-2.3zM244.1 504.8h13.9v2.3h-13.9zM260.3 504.8h9.3v2.3h-9.3zM271.9 504.8h2.3v2.3h-2.3zM276.5 504.8h2.3v2.3h-2.3zM58.7 507.1h7.0v2.3h-7.0zM91.2 507.1h11.6v2.3h-11.6zM107.4 507.1h2.3v2.3h-2.3zM116.6 507.1h11.6v2.3h-11.6zM139.8 507.1h23.2v2.3h-23.2zM202.3 507.1h2.3v2.3h-2.3zM232.5 507.1h4.6v2.3h-4.6zM239.4 507.1h7.0v2.3h-7.0zM248.7 507.1h2.3v2.3h-2.3zM253.3 507.1h4.6v2.3h-4.6zM262.6 507.1h2.3v2.3h-2.3zM267.2 507.1h11.6v2.3h-11.6zM281.1 507.1h6.9v2.3h-6.9zM290.4 507.1h13.9v2.3h-13.9zM42.5 509.4h2.3v2.3h-2.3zM51.8 509.4h7.0v2.3h-7.0zM61.0 509.4h46.3v2.3h-46.3zM109.7 509.4h9.3v2.3h-9.3zM125.9 509.4h4.6v2.3h-4.6zM139.8 509.4h16.2v2.3h-16.2zM193.1 509.4h4.6v2.3h-4.6zM200.0 509.4h6.9v2.3h-6.9zM209.3 509.4h4.6v2.3h-4.6zM225.5 509.4h11.6v2.3h-11.6zM239.4 509.4h11.6v2.3h-11.6zM253.3 509.4h11.6v2.3h-11.6zM267.2 509.4h9.3v2.3h-9.3zM281.1 509.4h34.8v2.3h-34.8zM318.2 509.4h2.3v2.3h-2.3zM56.4 511.7h62.6v2.3h-62.6zM121.3 511.7h9.3v2.3h-9.3zM142.1 511.7h6.9v2.3h-6.9zM165.3 511.7h4.6v2.3h-4.6zM190.8 511.7h4.6v2.3h-4.6zM200.0 511.7h4.6v2.3h-4.6zM223.2 511.7h2.3v2.3h-2.3zM227.8 511.7h25.5v2.3h-25.5zM255.6 511.7h16.2v2.3h-16.2zM278.8 511.7h2.3v2.3h-2.3zM285.8 511.7h30.1v2.3h-30.1zM54.1 514.0h16.2v2.3h-16.2zM72.6 514.0h11.6v2.3h-11.6zM88.8 514.0h4.6v2.3h-4.6zM95.8 514.0h13.9v2.3h-13.9zM121.3 514.0h4.6v2.3h-4.6zM144.4 514.0h4.6v2.3h-4.6zM186.1 514.0h9.3v2.3h-9.3zM197.7 514.0h4.6v2.3h-4.6zM218.6 514.0h18.5v2.3h-18.5zM239.4 514.0h2.3v2.3h-2.3zM248.7 514.0h2.3v2.3h-2.3zM257.9 514.0h4.6v2.3h-4.6zM264.9 514.0h9.3v2.3h-9.3zM285.8 514.0h16.2v2.3h-16.2zM304.3 514.0h2.3v2.3h-2.3zM308.9 514.0h6.9v2.3h-6.9zM58.7 516.3h4.6v2.3h-4.6zM77.2 516.3h4.6v2.3h-4.6zM95.8 516.3h13.9v2.3h-13.9zM121.3 516.3h7.0v2.3h-7.0zM130.5 516.3h2.3v2.3h-2.3zM176.9 516.3h2.3v2.3h-2.3zM186.1 516.3h2.3v2.3h-2.3zM190.8 516.3h4.6v2.3h-4.6zM200.0 516.3h4.6v2.3h-4.6zM207.0 516.3h4.6v2.3h-4.6zM216.2 516.3h4.6v2.3h-4.6zM223.2 516.3h2.3v2.3h-2.3zM227.8 516.3h4.6v2.3h-4.6zM237.1 516.3h7.0v2.3h-7.0zM253.3 516.3h9.3v2.3h-9.3zM264.9 516.3h4.6v2.3h-4.6zM285.8 516.3h4.6v2.3h-4.6zM304.3 516.3h2.3v2.3h-2.3zM79.6 518.7h4.6v2.3h-4.6zM91.2 518.7h2.3v2.3h-2.3zM98.1 518.7h11.6v2.3h-11.6zM112.0 518.7h4.6v2.3h-4.6zM123.6 518.7h2.3v2.3h-2.3zM128.2 518.7h7.0v2.3h-7.0zM190.8 518.7h2.3v2.3h-2.3zM197.7 518.7h9.3v2.3h-9.3zM209.3 518.7h4.6v2.3h-4.6zM216.2 518.7h2.3v2.3h-2.3zM230.2 518.7h9.3v2.3h-9.3zM244.1 518.7h2.3v2.3h-2.3zM253.3 518.7h9.3v2.3h-9.3zM283.4 518.7h2.3v2.3h-2.3zM304.3 518.7h2.3v2.3h-2.3zM81.9 521.0h2.3v2.3h-2.3zM91.2 521.0h2.3v2.3h-2.3zM100.4 521.0h2.3v2.3h-2.3zM105.0 521.0h2.3v2.3h-2.3zM109.7 521.0h4.6v2.3h-4.6zM123.6 521.0h4.6v2.3h-4.6zM135.2 521.0h2.3v2.3h-2.3zM179.2 521.0h2.3v2.3h-2.3zM190.8 521.0h2.3v2.3h-2.3zM202.3 521.0h2.3v2.3h-2.3zM209.3 521.0h9.3v2.3h-9.3zM223.2 521.0h2.3v2.3h-2.3zM227.8 521.0h4.6v2.3h-4.6zM234.8 521.0h2.3v2.3h-2.3zM241.7 521.0h2.3v2.3h-2.3zM251.0 521.0h9.3v2.3h-9.3zM264.9 521.0h2.3v2.3h-2.3zM271.9 521.0h4.6v2.3h-4.6zM283.4 521.0h4.6v2.3h-4.6zM302.0 521.0h2.3v2.3h-2.3zM86.5 523.3h7.0v2.3h-7.0zM128.2 523.3h2.3v2.3h-2.3zM137.5 523.3h2.3v2.3h-2.3zM186.1 523.3h4.6v2.3h-4.6zM207.0 523.3h2.3v2.3h-2.3zM211.6 523.3h6.9v2.3h-6.9zM220.9 523.3h18.5v2.3h-18.5zM241.7 523.3h2.3v2.3h-2.3zM246.4 523.3h2.3v2.3h-2.3zM253.3 523.3h6.9v2.3h-6.9zM283.4 523.3h9.3v2.3h-9.3zM88.8 525.6h6.9v2.3h-6.9zM98.1 525.6h4.6v2.3h-4.6zM211.6 525.6h6.9v2.3h-6.9zM227.8 525.6h4.6v2.3h-4.6zM239.4 525.6h4.6v2.3h-4.6zM246.4 525.6h4.6v2.3h-4.6zM253.3 525.6h9.3v2.3h-9.3zM271.9 525.6h2.3v2.3h-2.3zM281.1 525.6h6.9v2.3h-6.9zM290.4 525.6h2.3v2.3h-2.3zM86.5 527.9h16.2v2.3h-16.2zM121.3 527.9h2.3v2.3h-2.3zM125.9 527.9h2.3v2.3h-2.3zM174.6 527.9h2.3v2.3h-2.3zM181.5 527.9h2.3v2.3h-2.3zM188.4 527.9h4.6v2.3h-4.6zM195.4 527.9h4.6v2.3h-4.6zM211.6 527.9h6.9v2.3h-6.9zM220.9 527.9h16.2v2.3h-16.2zM241.7 527.9h7.0v2.3h-7.0zM257.9 527.9h6.9v2.3h-6.9zM267.2 527.9h4.6v2.3h-4.6zM274.2 527.9h2.3v2.3h-2.3zM283.4 527.9h2.3v2.3h-2.3zM290.4 527.9h2.3v2.3h-2.3zM86.5 530.2h2.3v2.3h-2.3zM91.2 530.2h16.2v2.3h-16.2zM116.6 530.2h4.6v2.3h-4.6zM176.9 530.2h2.3v2.3h-2.3zM211.6 530.2h4.6v2.3h-4.6zM218.6 530.2h2.3v2.3h-2.3zM223.2 530.2h13.9v2.3h-13.9zM239.4 530.2h11.6v2.3h-11.6zM253.3 530.2h6.9v2.3h-6.9zM262.6 530.2h4.6v2.3h-4.6zM269.5 530.2h2.3v2.3h-2.3zM276.5 530.2h4.6v2.3h-4.6zM86.5 532.5h16.2v2.3h-16.2zM105.0 532.5h7.0v2.3h-7.0zM114.3 532.5h4.6v2.3h-4.6zM121.3 532.5h2.3v2.3h-2.3zM174.6 532.5h6.9v2.3h-6.9zM204.7 532.5h2.3v2.3h-2.3zM211.6 532.5h4.6v2.3h-4.6zM218.6 532.5h2.3v2.3h-2.3zM223.2 532.5h2.3v2.3h-2.3zM227.8 532.5h27.8v2.3h-27.8zM257.9 532.5h16.2v2.3h-16.2zM278.8 532.5h2.3v2.3h-2.3zM288.1 532.5h2.3v2.3h-2.3zM88.8 534.9h6.9v2.3h-6.9zM98.1 534.9h7.0v2.3h-7.0zM107.4 534.9h2.3v2.3h-2.3zM114.3 534.9h2.3v2.3h-2.3zM119.0 534.9h2.3v2.3h-2.3zM209.3 534.9h2.3v2.3h-2.3zM213.9 534.9h9.3v2.3h-9.3zM227.8 534.9h9.3v2.3h-9.3zM244.1 534.9h13.9v2.3h-13.9zM283.4 534.9h4.6v2.3h-4.6zM91.2 537.2h20.8v2.3h-20.8zM114.3 537.2h2.3v2.3h-2.3zM176.9 537.2h16.2v2.3h-16.2zM197.7 537.2h4.6v2.3h-4.6zM209.3 537.2h25.5v2.3h-25.5zM237.1 537.2h2.3v2.3h-2.3zM241.7 537.2h2.3v2.3h-2.3zM246.4 537.2h9.3v2.3h-9.3zM274.2 537.2h2.3v2.3h-2.3zM281.1 537.2h2.3v2.3h-2.3zM95.8 539.5h2.3v2.3h-2.3zM100.4 539.5h7.0v2.3h-7.0zM116.6 539.5h2.3v2.3h-2.3zM172.2 539.5h16.2v2.3h-16.2zM190.8 539.5h16.2v2.3h-16.2zM209.3 539.5h9.3v2.3h-9.3zM220.9 539.5h9.3v2.3h-9.3zM232.5 539.5h2.3v2.3h-2.3zM237.1 539.5h4.6v2.3h-4.6zM251.0 539.5h4.6v2.3h-4.6zM257.9 539.5h2.3v2.3h-2.3zM274.2 539.5h2.3v2.3h-2.3zM98.1 541.8h7.0v2.3h-7.0zM169.9 541.8h51.0v2.3h-51.0zM227.8 541.8h2.3v2.3h-2.3zM232.5 541.8h2.3v2.3h-2.3zM239.4 541.8h4.6v2.3h-4.6zM253.3 541.8h6.9v2.3h-6.9zM269.5 541.8h4.6v2.3h-4.6zM100.4 544.1h2.3v2.3h-2.3zM105.0 544.1h2.3v2.3h-2.3zM119.0 544.1h2.3v2.3h-2.3zM167.6 544.1h27.8v2.3h-27.8zM197.7 544.1h11.6v2.3h-11.6zM211.6 544.1h16.2v2.3h-16.2zM234.8 544.1h2.3v2.3h-2.3zM239.4 544.1h2.3v2.3h-2.3zM255.6 544.1h13.9v2.3h-13.9zM100.4 546.4h7.0v2.3h-7.0zM112.0 546.4h2.3v2.3h-2.3zM123.6 546.4h4.6v2.3h-4.6zM169.9 546.4h2.3v2.3h-2.3zM174.6 546.4h20.8v2.3h-20.8zM200.0 546.4h9.3v2.3h-9.3zM213.9 546.4h11.6v2.3h-11.6zM237.1 546.4h7.0v2.3h-7.0zM255.6 546.4h2.3v2.3h-2.3zM260.3 546.4h2.3v2.3h-2.3zM105.0 548.7h9.3v2.3h-9.3zM167.6 548.7h25.5v2.3h-25.5zM197.7 548.7h13.9v2.3h-13.9zM213.9 548.7h9.3v2.3h-9.3zM239.4 548.7h4.6v2.3h-4.6zM255.6 548.7h2.3v2.3h-2.3zM260.3 548.7h2.3v2.3h-2.3zM274.2 548.7h2.3v2.3h-2.3zM112.0 551.0h4.6v2.3h-4.6zM167.6 551.0h4.6v2.3h-4.6zM174.6 551.0h6.9v2.3h-6.9zM183.8 551.0h4.6v2.3h-4.6zM190.8 551.0h9.3v2.3h-9.3zM202.3 551.0h9.3v2.3h-9.3zM213.9 551.0h2.3v2.3h-2.3zM239.4 551.0h2.3v2.3h-2.3zM257.9 551.0h2.3v2.3h-2.3zM262.6 551.0h2.3v2.3h-2.3zM114.3 553.4h2.3v2.3h-2.3zM123.6 553.4h9.3v2.3h-9.3zM169.9 553.4h20.8v2.3h-20.8zM193.1 553.4h4.6v2.3h-4.6zM202.3 553.4h9.3v2.3h-9.3zM216.2 553.4h4.6v2.3h-4.6zM239.4 553.4h4.6v2.3h-4.6zM262.6 553.4h2.3v2.3h-2.3zM121.3 555.7h4.6v2.3h-4.6zM128.2 555.7h7.0v2.3h-7.0zM172.2 555.7h7.0v2.3h-7.0zM181.5 555.7h6.9v2.3h-6.9zM204.7 555.7h13.9v2.3h-13.9zM276.5 555.7h2.3v2.3h-2.3zM121.3 558.0h7.0v2.3h-7.0zM130.5 558.0h9.3v2.3h-9.3zM174.6 558.0h2.3v2.3h-2.3zM186.1 558.0h2.3v2.3h-2.3zM195.4 558.0h2.3v2.3h-2.3zM202.3 558.0h7.0v2.3h-7.0zM211.6 558.0h6.9v2.3h-6.9zM255.6 558.0h2.3v2.3h-2.3zM269.5 558.0h4.6v2.3h-4.6zM128.2 560.3h2.3v2.3h-2.3zM139.8 560.3h2.3v2.3h-2.3zM193.1 560.3h23.2v2.3h-23.2zM257.9 560.3h4.6v2.3h-4.6zM264.9 560.3h2.3v2.3h-2.3zM119.0 562.6h2.3v2.3h-2.3zM123.6 562.6h7.0v2.3h-7.0zM132.8 562.6h13.9v2.3h-13.9zM202.3 562.6h2.3v2.3h-2.3zM211.6 562.6h2.3v2.3h-2.3zM267.2 562.6h4.6v2.3h-4.6zM274.2 562.6h2.3v2.3h-2.3zM283.4 562.6h2.3v2.3h-2.3zM119.0 564.9h2.3v2.3h-2.3zM135.2 564.9h2.3v2.3h-2.3zM144.4 564.9h6.9v2.3h-6.9zM202.3 564.9h7.0v2.3h-7.0zM274.2 564.9h2.3v2.3h-2.3zM285.8 564.9h2.3v2.3h-2.3zM290.4 564.9h2.3v2.3h-2.3zM121.3 567.2h4.6v2.3h-4.6zM132.8 567.2h4.6v2.3h-4.6zM144.4 567.2h4.6v2.3h-4.6zM151.4 567.2h2.3v2.3h-2.3zM190.8 567.2h18.5v2.3h-18.5zM264.9 567.2h4.6v2.3h-4.6zM288.1 567.2h6.9v2.3h-6.9zM121.3 569.6h2.3v2.3h-2.3zM128.2 569.6h2.3v2.3h-2.3zM132.8 569.6h4.6v2.3h-4.6zM142.1 569.6h4.6v2.3h-4.6zM149.1 569.6h4.6v2.3h-4.6zM197.7 569.6h6.9v2.3h-6.9zM209.3 569.6h2.3v2.3h-2.3zM123.6 571.9h2.3v2.3h-2.3zM128.2 571.9h4.6v2.3h-4.6zM139.8 571.9h4.6v2.3h-4.6zM149.1 571.9h2.3v2.3h-2.3zM190.8 571.9h2.3v2.3h-2.3zM197.7 571.9h4.6v2.3h-4.6zM204.7 571.9h2.3v2.3h-2.3zM209.3 571.9h4.6v2.3h-4.6zM218.6 571.9h2.3v2.3h-2.3zM281.1 571.9h4.6v2.3h-4.6zM125.9 574.2h2.3v2.3h-2.3zM130.5 574.2h2.3v2.3h-2.3zM135.2 574.2h2.3v2.3h-2.3zM146.8 574.2h4.6v2.3h-4.6zM190.8 574.2h2.3v2.3h-2.3zM195.4 574.2h6.9v2.3h-6.9zM204.7 574.2h7.0v2.3h-7.0zM216.2 574.2h4.6v2.3h-4.6zM278.8 574.2h4.6v2.3h-4.6zM285.8 574.2h2.3v2.3h-2.3zM132.8 576.5h4.6v2.3h-4.6zM144.4 576.5h4.6v2.3h-4.6zM193.1 576.5h6.9v2.3h-6.9zM274.2 576.5h4.6v2.3h-4.6zM281.1 576.5h4.6v2.3h-4.6zM288.1 576.5h6.9v2.3h-6.9zM128.2 578.8h7.0v2.3h-7.0zM139.8 578.8h2.3v2.3h-2.3zM144.4 578.8h2.3v2.3h-2.3zM193.1 578.8h2.3v2.3h-2.3zM197.7 578.8h4.6v2.3h-4.6zM216.2 578.8h2.3v2.3h-2.3zM271.9 578.8h2.3v2.3h-2.3zM276.5 578.8h2.3v2.3h-2.3zM285.8 578.8h2.3v2.3h-2.3zM290.4 578.8h7.0v2.3h-7.0zM125.9 581.1h2.3v2.3h-2.3zM137.5 581.1h2.3v2.3h-2.3zM193.1 581.1h11.6v2.3h-11.6zM269.5 581.1h18.5v2.3h-18.5zM290.4 581.1h2.3v2.3h-2.3zM295.0 581.1h2.3v2.3h-2.3zM125.9 583.4h2.3v2.3h-2.3zM132.8 583.4h11.6v2.3h-11.6zM193.1 583.4h2.3v2.3h-2.3zM197.7 583.4h9.3v2.3h-9.3zM269.5 583.4h9.3v2.3h-9.3zM281.1 583.4h2.3v2.3h-2.3zM285.8 583.4h2.3v2.3h-2.3zM125.9 585.8h6.9v2.3h-6.9zM135.2 585.8h6.9v2.3h-6.9zM195.4 585.8h2.3v2.3h-2.3zM274.2 585.8h2.3v2.3h-2.3zM278.8 585.8h4.6v2.3h-4.6zM285.8 585.8h2.3v2.3h-2.3zM130.5 588.1h4.6v2.3h-4.6zM137.5 588.1h2.3v2.3h-2.3zM271.9 588.1h2.3v2.3h-2.3zM288.1 588.1h2.3v2.3h-2.3zM292.7 588.1h2.3v2.3h-2.3zM123.6 590.4h4.6v2.3h-4.6zM135.2 590.4h2.3v2.3h-2.3zM130.5 592.7h2.3v2.3h-2.3zM315.9 592.7h2.3v2.3h-2.3zM128.2 595.0h2.3v2.3h-2.3zM313.6 595.0h2.3v2.3h-2.3zM123.6 597.3h7.0v2.3h-7.0zM311.2 597.3h2.3v2.3h-2.3zM123.6 599.6h4.6v2.3h-4.6zM123.6 602.0h4.6v2.3h-4.6z" fill="#f5f5f5"/>
<path d="M84.2 504.8h2.3v2.3h-2.3zM257.9 504.8h2.3v2.3h-2.3zM200.0 507.1h2.3v2.3h-2.3zM246.4 507.1h2.3v2.3h-2.3zM257.9 507.1h4.6v2.3h-4.6zM278.8 507.1h2.3v2.3h-2.3zM218.6 509.4h2.3v2.3h-2.3zM264.9 509.4h2.3v2.3h-2.3zM276.5 509.4h4.6v2.3h-4.6zM315.9 509.4h2.3v2.3h-2.3zM204.7 511.7h2.3v2.3h-2.3zM213.9 511.7h2.3v2.3h-2.3zM218.6 511.7h2.3v2.3h-2.3zM225.5 511.7h2.3v2.3h-2.3zM315.9 511.7h2.3v2.3h-2.3zM207.0 514.0h4.6v2.3h-4.6zM213.9 514.0h2.3v2.3h-2.3zM204.7 516.3h2.3v2.3h-2.3zM211.6 516.3h4.6v2.3h-4.6zM121.3 518.7h2.3v2.3h-2.3zM125.9 518.7h2.3v2.3h-2.3zM213.9 518.7h2.3v2.3h-2.3zM241.7 518.7h2.3v2.3h-2.3zM302.0 518.7h2.3v2.3h-2.3zM95.8 521.0h2.3v2.3h-2.3zM102.7 521.0h2.3v2.3h-2.3zM107.4 521.0h2.3v2.3h-2.3zM128.2 521.0h2.3v2.3h-2.3zM132.8 521.0h2.3v2.3h-2.3zM174.6 521.0h2.3v2.3h-2.3zM232.5 521.0h2.3v2.3h-2.3zM248.7 521.0h2.3v2.3h-2.3zM288.1 521.0h2.3v2.3h-2.3zM95.8 523.3h2.3v2.3h-2.3zM112.0 523.3h2.3v2.3h-2.3zM121.3 523.3h2.3v2.3h-2.3zM125.9 523.3h2.3v2.3h-2.3zM86.5 525.6h2.3v2.3h-2.3zM234.8 525.6h4.6v2.3h-4.6zM102.7 527.9h2.3v2.3h-2.3zM114.3 527.9h4.6v2.3h-4.6zM123.6 527.9h2.3v2.3h-2.3zM237.1 527.9h4.6v2.3h-4.6zM248.7 527.9h9.3v2.3h-9.3zM281.1 527.9h2.3v2.3h-2.3zM107.4 530.2h2.3v2.3h-2.3zM237.1 530.2h2.3v2.3h-2.3zM225.5 532.5h2.3v2.3h-2.3zM211.6 534.9h2.3v2.3h-2.3zM223.2 534.9h2.3v2.3h-2.3zM174.6 537.2h2.3v2.3h-2.3zM255.6 537.2h2.3v2.3h-2.3zM98.1 539.5h2.3v2.3h-2.3zM255.6 539.5h2.3v2.3h-2.3zM102.7 544.1h2.3v2.3h-2.3zM264.9 546.4h2.3v2.3h-2.3zM193.1 548.7h2.3v2.3h-2.3zM253.3 548.7h2.3v2.3h-2.3zM257.9 548.7h2.3v2.3h-2.3zM172.2 551.0h2.3v2.3h-2.3zM181.5 551.0h2.3v2.3h-2.3zM188.4 551.0h2.3v2.3h-2.3zM211.6 551.0h2.3v2.3h-2.3zM216.2 551.0h2.3v2.3h-2.3zM190.8 553.4h2.3v2.3h-2.3zM213.9 553.4h2.3v2.3h-2.3zM276.5 553.4h2.3v2.3h-2.3zM139.8 558.0h2.3v2.3h-2.3zM209.3 558.0h2.3v2.3h-2.3zM121.3 562.6h2.3v2.3h-2.3zM188.4 562.6h2.3v2.3h-2.3zM146.8 569.6h2.3v2.3h-2.3zM146.8 571.9h2.3v2.3h-2.3zM290.4 571.9h2.3v2.3h-2.3zM292.7 574.2h2.3v2.3h-2.3zM149.1 576.5h2.3v2.3h-2.3zM216.2 576.5h2.3v2.3h-2.3zM278.8 576.5h2.3v2.3h-2.3zM285.8 576.5h2.3v2.3h-2.3zM142.1 578.8h2.3v2.3h-2.3zM274.2 578.8h2.3v2.3h-2.3zM288.1 578.8h2.3v2.3h-2.3zM135.2 581.1h2.3v2.3h-2.3zM292.7 581.1h2.3v2.3h-2.3zM128.2 583.4h2.3v2.3h-2.3zM132.8 585.8h2.3v2.3h-2.3zM276.5 585.8h2.3v2.3h-2.3z" fill="#cbece5"/>
<path d="M264.9 507.1h2.3v2.3h-2.3zM288.1 507.1h2.3v2.3h-2.3zM207.0 509.4h2.3v2.3h-2.3zM220.9 509.4h4.6v2.3h-4.6zM195.4 511.7h2.3v2.3h-2.3zM216.2 511.7h2.3v2.3h-2.3zM202.3 514.0h2.3v2.3h-2.3zM211.6 514.0h2.3v2.3h-2.3zM216.2 514.0h2.3v2.3h-2.3zM98.1 521.0h2.3v2.3h-2.3zM114.3 521.0h2.3v2.3h-2.3zM290.4 521.0h2.3v2.3h-2.3zM98.1 523.3h4.6v2.3h-4.6zM109.7 523.3h2.3v2.3h-2.3zM114.3 523.3h2.3v2.3h-2.3zM119.0 523.3h2.3v2.3h-2.3zM123.6 523.3h2.3v2.3h-2.3zM102.7 525.6h4.6v2.3h-4.6zM109.7 525.6h2.3v2.3h-2.3zM114.3 525.6h2.3v2.3h-2.3zM128.2 525.6h4.6v2.3h-4.6zM105.0 527.9h2.3v2.3h-2.3zM119.0 527.9h2.3v2.3h-2.3zM264.9 527.9h2.3v2.3h-2.3zM112.0 530.2h4.6v2.3h-4.6zM251.0 530.2h2.3v2.3h-2.3zM112.0 532.5h2.3v2.3h-2.3zM274.2 532.5h2.3v2.3h-2.3zM225.5 534.9h2.3v2.3h-2.3zM267.2 534.9h4.6v2.3h-4.6zM267.2 537.2h2.3v2.3h-2.3zM248.7 539.5h2.3v2.3h-2.3zM260.3 539.5h2.3v2.3h-2.3zM269.5 539.5h4.6v2.3h-4.6zM246.4 541.8h6.9v2.3h-6.9zM262.6 541.8h2.3v2.3h-2.3zM253.3 546.4h2.3v2.3h-2.3zM257.9 546.4h2.3v2.3h-2.3zM195.4 548.7h2.3v2.3h-2.3zM241.7 551.0h2.3v2.3h-2.3zM260.3 551.0h2.3v2.3h-2.3zM211.6 553.4h2.3v2.3h-2.3zM218.6 555.7h2.3v2.3h-2.3zM128.2 558.0h2.3v2.3h-2.3zM121.3 564.9h2.3v2.3h-2.3zM288.1 564.9h2.3v2.3h-2.3zM119.0 567.2h2.3v2.3h-2.3zM193.1 569.6h4.6v2.3h-4.6zM195.4 571.9h2.3v2.3h-2.3zM195.4 578.8h2.3v2.3h-2.3zM128.2 581.1h7.0v2.3h-7.0zM288.1 581.1h2.3v2.3h-2.3zM130.5 583.4h2.3v2.3h-2.3zM135.2 588.1h2.3v2.3h-2.3z" fill="#87d2c1"/>
<path d="M197.7 509.4h2.3v2.3h-2.3zM207.0 511.7h2.3v2.3h-2.3zM211.6 511.7h2.3v2.3h-2.3zM220.9 511.7h2.3v2.3h-2.3zM204.7 514.0h2.3v2.3h-2.3zM95.8 518.7h2.3v2.3h-2.3zM109.7 518.7h2.3v2.3h-2.3zM116.6 521.0h2.3v2.3h-2.3zM130.5 521.0h2.3v2.3h-2.3zM105.0 523.3h4.6v2.3h-4.6zM116.6 523.3h2.3v2.3h-2.3zM95.8 525.6h2.3v2.3h-2.3zM116.6 525.6h4.6v2.3h-4.6zM109.7 527.9h2.3v2.3h-2.3zM260.3 534.9h2.3v2.3h-2.3zM264.9 534.9h2.3v2.3h-2.3zM271.9 534.9h2.3v2.3h-2.3zM262.6 537.2h4.6v2.3h-4.6zM271.9 537.2h2.3v2.3h-2.3zM246.4 539.5h2.3v2.3h-2.3zM262.6 539.5h2.3v2.3h-2.3zM267.2 539.5h2.3v2.3h-2.3zM264.9 541.8h2.3v2.3h-2.3zM246.4 544.1h4.6v2.3h-4.6zM253.3 544.1h2.3v2.3h-2.3zM204.7 569.6h4.6v2.3h-4.6zM207.0 571.9h2.3v2.3h-2.3zM195.4 583.4h2.3v2.3h-2.3zM288.1 583.4h4.6v2.3h-4.6zM295.0 583.4h2.3v2.3h-2.3zM292.7 585.8h6.9v2.3h-6.9zM290.4 588.1h2.3v2.3h-2.3zM295.0 588.1h2.3v2.3h-2.3zM292.7 590.4h2.3v2.3h-2.3z" fill="#4ea394"/>
<path d="M121.3 521.0h2.3v2.3h-2.3zM102.7 523.3h2.3v2.3h-2.3zM107.4 525.6h2.3v2.3h-2.3zM112.0 525.6h2.3v2.3h-2.3zM121.3 525.6h7.0v2.3h-7.0zM107.4 527.9h2.3v2.3h-2.3zM112.0 527.9h2.3v2.3h-2.3zM257.9 537.2h4.6v2.3h-4.6zM269.5 537.2h2.3v2.3h-2.3zM260.3 541.8h2.3v2.3h-2.3zM267.2 541.8h2.3v2.3h-2.3zM297.3 583.4h2.3v2.3h-2.3zM288.1 585.8h2.3v2.3h-2.3zM290.4 590.4h2.3v2.3h-2.3zM295.0 590.4h2.3v2.3h-2.3z" fill="#277262"/>
<path d="M257.9 534.9h2.3v2.3h-2.3zM262.6 534.9h2.3v2.3h-2.3zM264.9 539.5h2.3v2.3h-2.3zM297.3 581.1h2.3v2.3h-2.3zM292.7 583.4h2.3v2.3h-2.3zM290.4 585.8h2.3v2.3h-2.3z" fill="#174535"/>
<path d="M190.8 500.1h2.3v2.3h-2.3zM257.9 504.8h2.3v2.3h-2.3zM200.0 507.1h2.3v2.3h-2.3zM241.7 507.1h2.3v2.3h-2.3zM255.6 507.1h2.3v2.3h-2.3zM278.8 507.1h2.3v2.3h-2.3zM285.8 507.1h2.3v2.3h-2.3zM297.3 507.1h2.3v2.3h-2.3zM302.0 507.1h2.3v2.3h-2.3zM56.4 509.4h4.6v2.3h-4.6zM63.4 509.4h2.3v2.3h-2.3zM93.5 509.4h2.3v2.3h-2.3zM116.6 509.4h2.3v2.3h-2.3zM193.1 509.4h2.3v2.3h-2.3zM204.7 509.4h4.6v2.3h-4.6zM211.6 509.4h2.3v2.3h-2.3zM234.8 509.4h2.3v2.3h-2.3zM260.3 509.4h2.3v2.3h-2.3zM278.8 509.4h4.6v2.3h-4.6zM285.8 509.4h2.3v2.3h-2.3zM297.3 509.4h2.3v2.3h-2.3zM313.6 509.4h2.3v2.3h-2.3zM91.2 511.7h2.3v2.3h-2.3zM102.7 511.7h2.3v2.3h-2.3zM112.0 511.7h2.3v2.3h-2.3zM204.7 511.7h2.3v2.3h-2.3zM211.6 511.7h4.6v2.3h-4.6zM237.1 511.7h2.3v2.3h-2.3zM244.1 511.7h2.3v2.3h-2.3zM248.7 511.7h2.3v2.3h-2.3zM260.3 511.7h7.0v2.3h-7.0zM271.9 511.7h4.6v2.3h-4.6zM283.4 511.7h9.3v2.3h-9.3zM299.6 511.7h7.0v2.3h-7.0zM311.2 511.7h2.3v2.3h-2.3zM84.2 514.0h7.0v2.3h-7.0zM197.7 514.0h4.6v2.3h-4.6zM216.2 514.0h4.6v2.3h-4.6zM237.1 514.0h7.0v2.3h-7.0zM246.4 514.0h4.6v2.3h-4.6zM267.2 514.0h2.3v2.3h-2.3zM274.2 514.0h2.3v2.3h-2.3zM311.2 514.0h4.6v2.3h-4.6zM95.8 516.3h2.3v2.3h-2.3zM223.2 516.3h2.3v2.3h-2.3zM232.5 516.3h4.6v2.3h-4.6zM241.7 516.3h2.3v2.3h-2.3zM246.4 516.3h2.3v2.3h-2.3zM253.3 516.3h2.3v2.3h-2.3zM262.6 516.3h4.6v2.3h-4.6zM283.4 516.3h2.3v2.3h-2.3zM79.6 518.7h2.3v2.3h-2.3zM88.8 518.7h2.3v2.3h-2.3zM95.8 518.7h2.3v2.3h-2.3zM109.7 518.7h2.3v2.3h-2.3zM132.8 518.7h2.3v2.3h-2.3zM220.9 518.7h4.6v2.3h-4.6zM237.1 518.7h2.3v2.3h-2.3zM241.7 518.7h4.6v2.3h-4.6zM253.3 518.7h4.6v2.3h-4.6zM264.9 518.7h4.6v2.3h-4.6zM271.9 518.7h4.6v2.3h-4.6zM281.1 518.7h2.3v2.3h-2.3zM302.0 518.7h2.3v2.3h-2.3zM86.5 521.0h2.3v2.3h-2.3zM95.8 521.0h13.9v2.3h-13.9zM116.6 521.0h2.3v2.3h-2.3zM123.6 521.0h7.0v2.3h-7.0zM132.8 521.0h2.3v2.3h-2.3zM183.8 521.0h11.6v2.3h-11.6zM207.0 521.0h2.3v2.3h-2.3zM220.9 521.0h2.3v2.3h-2.3zM225.5 521.0h4.6v2.3h-4.6zM237.1 521.0h2.3v2.3h-2.3zM241.7 521.0h2.3v2.3h-2.3zM246.4 521.0h2.3v2.3h-2.3zM264.9 521.0h2.3v2.3h-2.3zM302.0 521.0h2.3v2.3h-2.3zM95.8 523.3h2.3v2.3h-2.3zM102.7 523.3h2.3v2.3h-2.3zM109.7 523.3h2.3v2.3h-2.3zM125.9 523.3h2.3v2.3h-2.3zM137.5 523.3h2.3v2.3h-2.3zM188.4 523.3h2.3v2.3h-2.3zM200.0 523.3h2.3v2.3h-2.3zM209.3 523.3h2.3v2.3h-2.3zM218.6 523.3h2.3v2.3h-2.3zM232.5 523.3h2.3v2.3h-2.3zM237.1 523.3h2.3v2.3h-2.3zM246.4 523.3h6.9v2.3h-6.9zM260.3 523.3h4.6v2.3h-4.6zM274.2 523.3h2.3v2.3h-2.3zM288.1 523.3h2.3v2.3h-2.3zM91.2 525.6h2.3v2.3h-2.3zM95.8 525.6h4.6v2.3h-4.6zM105.0 525.6h2.3v2.3h-2.3zM109.7 525.6h2.3v2.3h-2.3zM114.3 525.6h2.3v2.3h-2.3zM128.2 525.6h2.3v2.3h-2.3zM183.8 525.6h4.6v2.3h-4.6zM207.0 525.6h2.3v2.3h-2.3zM230.2 525.6h2.3v2.3h-2.3zM234.8 525.6h2.3v2.3h-2.3zM244.1 525.6h2.3v2.3h-2.3zM248.7 525.6h2.3v2.3h-2.3zM260.3 525.6h2.3v2.3h-2.3zM264.9 525.6h7.0v2.3h-7.0zM276.5 525.6h4.6v2.3h-4.6zM285.8 525.6h2.3v2.3h-2.3zM91.2 527.9h2.3v2.3h-2.3zM100.4 527.9h2.3v2.3h-2.3zM109.7 527.9h11.6v2.3h-11.6zM123.6 527.9h4.6v2.3h-4.6zM174.6 527.9h2.3v2.3h-2.3zM188.4 527.9h2.3v2.3h-2.3zM239.4 527.9h2.3v2.3h-2.3zM251.0 527.9h2.3v2.3h-2.3zM267.2 527.9h2.3v2.3h-2.3zM276.5 527.9h2.3v2.3h-2.3zM86.5 530.2h2.3v2.3h-2.3zM91.2 530.2h4.6v2.3h-4.6zM100.4 530.2h4.6v2.3h-4.6zM116.6 530.2h2.3v2.3h-2.3zM176.9 530.2h2.3v2.3h-2.3zM193.1 530.2h2.3v2.3h-2.3zM197.7 530.2h2.3v2.3h-2.3zM223.2 530.2h2.3v2.3h-2.3zM260.3 530.2h2.3v2.3h-2.3zM112.0 532.5h2.3v2.3h-2.3zM176.9 532.5h2.3v2.3h-2.3zM190.8 532.5h2.3v2.3h-2.3zM209.3 532.5h2.3v2.3h-2.3zM232.5 532.5h2.3v2.3h-2.3zM244.1 532.5h2.3v2.3h-2.3zM253.3 532.5h2.3v2.3h-2.3zM264.9 532.5h2.3v2.3h-2.3zM112.0 534.9h2.3v2.3h-2.3zM183.8 534.9h2.3v2.3h-2.3zM218.6 534.9h2.3v2.3h-2.3zM227.8 534.9h2.3v2.3h-2.3zM232.5 534.9h2.3v2.3h-2.3zM255.6 534.9h2.3v2.3h-2.3zM262.6 534.9h2.3v2.3h-2.3zM269.5 534.9h4.6v2.3h-4.6zM95.8 537.2h2.3v2.3h-2.3zM190.8 537.2h2.3v2.3h-2.3zM211.6 537.2h2.3v2.3h-2.3zM218.6 537.2h2.3v2.3h-2.3zM237.1 537.2h4.6v2.3h-4.6zM244.1 537.2h2.3v2.3h-2.3zM257.9 537.2h2.3v2.3h-2.3zM262.6 537.2h9.3v2.3h-9.3zM98.1 539.5h2.3v2.3h-2.3zM174.6 539.5h2.3v2.3h-2.3zM181.5 539.5h2.3v2.3h-2.3zM197.7 539.5h2.3v2.3h-2.3zM202.3 539.5h4.6v2.3h-4.6zM211.6 539.5h6.9v2.3h-6.9zM220.9 539.5h4.6v2.3h-4.6zM237.1 539.5h2.3v2.3h-2.3zM244.1 539.5h2.3v2.3h-2.3zM260.3 539.5h2.3v2.3h-2.3zM267.2 539.5h4.6v2.3h-4.6zM169.9 541.8h4.6v2.3h-4.6zM179.2 541.8h2.3v2.3h-2.3zM183.8 541.8h4.6v2.3h-4.6zM195.4 541.8h13.9v2.3h-13.9zM213.9 541.8h4.6v2.3h-4.6zM232.5 541.8h9.3v2.3h-9.3zM244.1 541.8h2.3v2.3h-2.3zM248.7 541.8h2.3v2.3h-2.3zM255.6 541.8h4.6v2.3h-4.6zM262.6 541.8h6.9v2.3h-6.9zM105.0 544.1h2.3v2.3h-2.3zM167.6 544.1h2.3v2.3h-2.3zM172.2 544.1h2.3v2.3h-2.3zM190.8 544.1h6.9v2.3h-6.9zM200.0 544.1h9.3v2.3h-9.3zM211.6 544.1h6.9v2.3h-6.9zM220.9 544.1h4.6v2.3h-4.6zM241.7 544.1h2.3v2.3h-2.3zM253.3 544.1h2.3v2.3h-2.3zM264.9 544.1h2.3v2.3h-2.3zM174.6 546.4h4.6v2.3h-4.6zM197.7 546.4h2.3v2.3h-2.3zM202.3 546.4h7.0v2.3h-7.0zM213.9 546.4h2.3v2.3h-2.3zM223.2 546.4h2.3v2.3h-2.3zM237.1 546.4h9.3v2.3h-9.3zM169.9 548.7h6.9v2.3h-6.9zM193.1 548.7h4.6v2.3h-4.6zM202.3 548.7h7.0v2.3h-7.0zM213.9 548.7h9.3v2.3h-9.3zM237.1 548.7h4.6v2.3h-4.6zM172.2 551.0h2.3v2.3h-2.3zM195.4 551.0h2.3v2.3h-2.3zM211.6 551.0h2.3v2.3h-2.3zM241.7 551.0h2.3v2.3h-2.3zM257.9 551.0h2.3v2.3h-2.3zM262.6 551.0h2.3v2.3h-2.3zM114.3 553.4h2.3v2.3h-2.3zM186.1 553.4h2.3v2.3h-2.3zM197.7 553.4h2.3v2.3h-2.3zM172.2 555.7h2.3v2.3h-2.3zM176.9 555.7h2.3v2.3h-2.3zM190.8 555.7h2.3v2.3h-2.3zM213.9 555.7h2.3v2.3h-2.3zM123.6 558.0h9.3v2.3h-9.3zM269.5 558.0h2.3v2.3h-2.3zM125.9 560.3h4.6v2.3h-4.6zM137.5 560.3h2.3v2.3h-2.3zM200.0 560.3h2.3v2.3h-2.3zM269.5 560.3h2.3v2.3h-2.3zM128.2 562.6h4.6v2.3h-4.6zM135.2 562.6h4.6v2.3h-4.6zM193.1 562.6h2.3v2.3h-2.3zM200.0 562.6h2.3v2.3h-2.3zM204.7 562.6h2.3v2.3h-2.3zM123.6 564.9h11.6v2.3h-11.6zM137.5 564.9h2.3v2.3h-2.3zM195.4 564.9h6.9v2.3h-6.9zM123.6 567.2h9.3v2.3h-9.3zM144.4 567.2h4.6v2.3h-4.6zM151.4 567.2h2.3v2.3h-2.3zM193.1 567.2h2.3v2.3h-2.3zM200.0 567.2h2.3v2.3h-2.3zM209.3 567.2h2.3v2.3h-2.3zM123.6 569.6h2.3v2.3h-2.3zM146.8 569.6h4.6v2.3h-4.6zM195.4 569.6h2.3v2.3h-2.3zM204.7 569.6h2.3v2.3h-2.3zM139.8 571.9h6.9v2.3h-6.9zM197.7 571.9h2.3v2.3h-2.3zM283.4 571.9h2.3v2.3h-2.3zM290.4 571.9h2.3v2.3h-2.3zM130.5 574.2h2.3v2.3h-2.3zM137.5 574.2h4.6v2.3h-4.6zM278.8 574.2h6.9v2.3h-6.9zM290.4 574.2h2.3v2.3h-2.3zM128.2 576.5h4.6v2.3h-4.6zM135.2 576.5h4.6v2.3h-4.6zM142.1 576.5h2.3v2.3h-2.3zM149.1 576.5h2.3v2.3h-2.3zM197.7 576.5h2.3v2.3h-2.3zM274.2 576.5h2.3v2.3h-2.3zM281.1 576.5h2.3v2.3h-2.3zM292.7 576.5h2.3v2.3h-2.3zM132.8 578.8h4.6v2.3h-4.6zM142.1 578.8h2.3v2.3h-2.3zM146.8 578.8h2.3v2.3h-2.3zM195.4 578.8h2.3v2.3h-2.3zM207.0 578.8h2.3v2.3h-2.3zM274.2 578.8h2.3v2.3h-2.3zM278.8 578.8h2.3v2.3h-2.3zM285.8 578.8h2.3v2.3h-2.3zM135.2 581.1h2.3v2.3h-2.3zM200.0 581.1h2.3v2.3h-2.3zM269.5 581.1h2.3v2.3h-2.3zM278.8 581.1h2.3v2.3h-2.3zM290.4 581.1h2.3v2.3h-2.3zM132.8 583.4h2.3v2.3h-2.3zM202.3 583.4h2.3v2.3h-2.3zM278.8 583.4h2.3v2.3h-2.3zM283.4 583.4h2.3v2.3h-2.3zM128.2 585.8h2.3v2.3h-2.3zM200.0 585.8h2.3v2.3h-2.3zM278.8 585.8h2.3v2.3h-2.3zM285.8 585.8h2.3v2.3h-2.3zM290.4 585.8h2.3v2.3h-2.3zM292.7 588.1h4.6v2.3h-4.6zM123.6 590.4h2.3v2.3h-2.3zM130.5 590.4h2.3v2.3h-2.3zM292.7 590.4h2.3v2.3h-2.3zM123.6 592.7h2.3v2.3h-2.3zM313.6 595.0h2.3v2.3h-2.3zM123.6 602.0h2.3v2.3h-2.3z" fill="url(#stipe)"/>
<use href="#coast" transform="translate(42.50 493.20) scale(1.0000 0.9974)" fill="none" stroke="#7a7a7a" stroke-width="0.65" stroke-linejoin="round"/>
</g>
<path d="M70.20,553.40 V602.40 M69.70,577.50 H111.90" stroke="#3a3a3a" stroke-width="0.8" fill="none"/>
<path d="M68.20,553.80 H70.20 M68.20,577.50 H70.20 M68.20,602.00 H70.20" stroke="#3a3a3a" stroke-width="0.8"/>
<text x="58.10" y="556.20" font-size="6.90" text-anchor="middle" fill="#262626" textLength="14.92" lengthAdjust="spacingAndGlyphs">0.04</text>
<text x="57.20" y="579.90" font-size="6.90" text-anchor="middle" fill="#262626" textLength="4.26" lengthAdjust="spacingAndGlyphs">0</text>
<text x="59.60" y="604.40" font-size="6.90" text-anchor="middle" fill="#262626" textLength="17.34" lengthAdjust="spacingAndGlyphs">-0.04</text>
<path d="M80.45,580.80 V596.90 M76.50,596.90 H84.40" stroke="#333" stroke-width="0.8" fill="none"/>
<rect x="76.20" y="577.50" width="8.50" height="3.30" fill="#3d7ec8" stroke="#1a1a1a" stroke-width="0.6"/>
<path d="M91.00,576.40 V570.30 M86.60,570.30 H95.40" stroke="#555" stroke-width="0.8" fill="none"/>
<rect x="86.30" y="576.40" width="9.40" height="1.10" fill="#a2a2a2" stroke="#444" stroke-width="0.6"/>
<path d="M101.40,581.90 V592.50 M97.40,592.50 H105.40" stroke="#333" stroke-width="0.8" fill="none"/>
<rect x="97.10" y="577.50" width="8.60" height="4.40" fill="#e25a23" stroke="#2a1a10" stroke-width="0.6"/>
<rect x="42.50" y="493.20" width="278.00" height="115.70" fill="none" stroke="#3a3a3a" stroke-width="1"/>
<path d="M39.00,493.20 H42.50 M320.50,493.20 H324.00 M39.00,516.34 H42.50 M320.50,516.34 H324.00 M39.00,539.48 H42.50 M320.50,539.48 H324.00 M39.00,562.62 H42.50 M320.50,562.62 H324.00 M39.00,585.76 H42.50 M320.50,585.76 H324.00 M39.00,608.90 H42.50 M320.50,608.90 H324.00 M42.50,608.90 V612.40 M42.50,489.70 V493.20 M88.83,608.90 V612.40 M88.83,489.70 V493.20 M135.17,608.90 V612.40 M135.17,489.70 V493.20 M181.50,608.90 V612.40 M181.50,489.70 V493.20 M227.83,608.90 V612.40 M227.83,489.70 V493.20 M274.17,608.90 V612.40 M274.17,489.70 V493.20 M320.50,608.90 V612.40 M320.50,489.70 V493.20" stroke="#3a3a3a" stroke-width="1" fill="none"/>
<text x="37.80" y="496.40" font-size="8.76" text-anchor="end" fill="#262626" textLength="21.43" lengthAdjust="spacingAndGlyphs">90°N</text>
<text x="37.80" y="519.54" font-size="8.76" text-anchor="end" fill="#262626" textLength="21.43" lengthAdjust="spacingAndGlyphs">60°N</text>
<text x="37.80" y="542.68" font-size="8.76" text-anchor="end" fill="#262626" textLength="21.43" lengthAdjust="spacingAndGlyphs">30°N</text>
<text x="37.80" y="565.82" font-size="8.76" text-anchor="end" fill="#262626" textLength="9.66" lengthAdjust="spacingAndGlyphs">0°</text>
<text x="37.80" y="588.96" font-size="8.76" text-anchor="end" fill="#262626" textLength="20.46" lengthAdjust="spacingAndGlyphs">30°S</text>
<text x="37.80" y="612.10" font-size="8.76" text-anchor="end" fill="#262626" textLength="20.46" lengthAdjust="spacingAndGlyphs">60°S</text>
<text x="42.50" y="621.50" font-size="8.76" text-anchor="middle" fill="#262626" textLength="20.47" lengthAdjust="spacingAndGlyphs">180°</text>
<text x="88.83" y="621.50" font-size="8.76" text-anchor="middle" fill="#262626" textLength="28.88" lengthAdjust="spacingAndGlyphs">120°W</text>
<text x="135.17" y="621.50" font-size="8.76" text-anchor="middle" fill="#262626" textLength="23.47" lengthAdjust="spacingAndGlyphs">60°W</text>
<text x="181.50" y="621.50" font-size="8.76" text-anchor="middle" fill="#262626" textLength="9.66" lengthAdjust="spacingAndGlyphs">0°</text>
<text x="227.83" y="621.50" font-size="8.76" text-anchor="middle" fill="#262626" textLength="20.44" lengthAdjust="spacingAndGlyphs">60°E</text>
<text x="274.17" y="621.50" font-size="8.76" text-anchor="middle" fill="#262626" textLength="25.85" lengthAdjust="spacingAndGlyphs">120°E</text>
<text x="320.50" y="621.50" font-size="8.76" text-anchor="middle" fill="#262626" textLength="20.47" lengthAdjust="spacingAndGlyphs">180°</text>
<text x="181.50" y="633.30" font-size="11.33" text-anchor="middle" fill="#262626" textLength="54.71" lengthAdjust="spacingAndGlyphs">Longitude</text>
<text x="13.20" y="551.05" font-size="11.33" text-anchor="middle" fill="#262626" textLength="45.27" lengthAdjust="spacingAndGlyphs" transform="rotate(-90 13.20 551.05)">Latitude</text>
<text x="0.20" y="485.20" font-size="20.5" fill="#000">e</text>
<rect x="42.30" y="647.30" width="25.59" height="10.30" fill="#573610"/>
<rect x="67.59" y="647.30" width="25.59" height="10.30" fill="#8f5a1e"/>
<rect x="92.88" y="647.30" width="25.59" height="10.30" fill="#bf8737"/>
<rect x="118.17" y="647.30" width="25.59" height="10.30" fill="#dcc27f"/>
<rect x="143.46" y="647.30" width="25.59" height="10.30" fill="#f2e8c2"/>
<rect x="168.75" y="647.30" width="25.59" height="10.30" fill="#f5f5f5"/>
<rect x="194.05" y="647.30" width="25.59" height="10.30" fill="#cbece5"/>
<rect x="219.34" y="647.30" width="25.59" height="10.30" fill="#87d2c1"/>
<rect x="244.63" y="647.30" width="25.59" height="10.30" fill="#4ea394"/>
<rect x="269.92" y="647.30" width="25.59" height="10.30" fill="#277262"/>
<rect x="295.21" y="647.30" width="25.59" height="10.30" fill="#174535"/>
<path d="M67.59,655.60 V657.60 M92.88,655.60 V657.60 M118.17,655.60 V657.60 M143.46,655.60 V657.60 M168.75,655.60 V657.60 M194.05,655.60 V657.60 M219.34,655.60 V657.60 M244.63,655.60 V657.60 M269.92,655.60 V657.60 M295.21,655.60 V657.60" stroke="#222" stroke-width="0.8"/>
<rect x="42.30" y="647.30" width="278.20" height="10.30" fill="none" stroke="#222" stroke-width="0.8"/>
<text x="67.59" y="669.90" font-size="8.24" text-anchor="middle" fill="#262626" textLength="20.70" lengthAdjust="spacingAndGlyphs">-0.05</text>
<text x="92.88" y="669.90" font-size="8.24" text-anchor="middle" fill="#262626" textLength="20.70" lengthAdjust="spacingAndGlyphs">-0.04</text>
<text x="118.17" y="669.90" font-size="8.24" text-anchor="middle" fill="#262626" textLength="20.70" lengthAdjust="spacingAndGlyphs">-0.03</text>
<text x="143.46" y="669.90" font-size="8.24" text-anchor="middle" fill="#262626" textLength="20.70" lengthAdjust="spacingAndGlyphs">-0.02</text>
<text x="168.75" y="669.90" font-size="8.24" text-anchor="middle" fill="#262626" textLength="20.70" lengthAdjust="spacingAndGlyphs">-0.01</text>
<text x="194.05" y="669.90" font-size="8.24" text-anchor="middle" fill="#262626" textLength="17.81" lengthAdjust="spacingAndGlyphs">0.01</text>
<text x="219.34" y="669.90" font-size="8.24" text-anchor="middle" fill="#262626" textLength="17.81" lengthAdjust="spacingAndGlyphs">0.02</text>
<text x="244.63" y="669.90" font-size="8.24" text-anchor="middle" fill="#262626" textLength="17.81" lengthAdjust="spacingAndGlyphs">0.03</text>
<text x="269.92" y="669.90" font-size="8.24" text-anchor="middle" fill="#262626" textLength="17.81" lengthAdjust="spacingAndGlyphs">0.04</text>
<text x="295.21" y="669.90" font-size="8.24" text-anchor="middle" fill="#262626" textLength="17.81" lengthAdjust="spacingAndGlyphs">0.05</text>
<text x="181.40" y="685.50" font-size="11.6" text-anchor="middle" fill="#262626" textLength="168.4" lengthAdjust="spacingAndGlyphs">NEP response (gCO<tspan font-size="8.0" dy="2.6">2</tspan><tspan dy="-2.6">·m</tspan><tspan font-size="8.0" dy="-4.6">-2</tspan><tspan dy="4.6">·day</tspan><tspan font-size="8.0" dy="-4.6">-1</tspan><tspan dy="4.6">)</tspan></text>
<g clip-path="url(#clipf)">
<rect x="396.80" y="493.20" width="278.20" height="115.70" fill="#eeab60"/>
<path d="M396.0,493.0 L466.0,493.0 L466.0,498.8 L446.5,498.8 L439.9,501.7 L438.9,507.3 L441.0,513.4 L438.9,523.7 L439.9,533.9 L443.0,540.0 L445.1,546.1 L445.1,553.3 L416.4,553.3 L419.5,546.1 L423.6,541.0 L427.7,535.9 L431.8,532.9 L433.8,526.7 L426.7,525.7 L426.7,522.6 L411.3,522.6 L407.2,516.5 L406.2,511.4 L396.0,511.4Z" fill="#f1df90"/>
<path d="M406.2,505.1 L422.1,505.1 L422.1,506.8 L406.2,506.8Z" fill="#e2f3f8"/>
<path d="M448.1,507.3 L453.2,501.2 L466.0,499.1 L466.0,522.6 L461.4,521.6 L457.3,513.4 L453.2,509.4Z M397.5,516.3 L401.1,516.3 L401.1,518.5 L397.5,518.5Z" fill="#e96c44"/>
<path d="M457.3,548.2 L466.0,548.2 L466.0,553.3 L457.3,553.3Z M504.8,513.9 L514.0,510.4 L521.2,511.9 L527.3,517.5 L527.3,526.7 L523.7,535.9 L523.2,541.0 L519.1,544.6 L509.9,546.6 L499.7,548.7 L489.5,550.7 L481.3,553.3 L475.7,553.3 L474.7,538.0 L476.2,532.9 L481.3,530.8 L492.1,528.8Z" fill="#f1df90"/>
<path d="M479.3,534.4 L505.9,533.9 L514.0,535.9 L511.0,539.5 L496.7,541.0 L480.3,541.0Z" fill="#eeab60"/>
<path d="M466.0,499.1 L484.9,499.6 L484.9,508.3 L482.4,513.4 L482.9,520.6 L479.3,523.7 L476.2,525.7 L466.0,525.7Z" fill="#e96c44"/>
<path d="M469.6,516.0 L475.7,516.0 L475.7,519.1 L469.6,519.1Z" fill="#d83b2c"/>
<path d="M522.2,507.3 L527.3,503.2 L536.0,501.7 L536.0,511.9 L527.3,511.2 L522.2,510.4Z" fill="#e96c44"/>
<path d="M529.4,505.3 L536.0,504.2 L536.0,509.9 L531.4,509.9Z" fill="#d83b2c"/>
<path d="M486.9,510.4 L493.6,509.9 L500.7,516.5 L519.1,515.5 L519.1,526.7 L515.1,529.8 L492.1,528.8 L490.5,522.6 L486.9,517.5Z" fill="#e2f3f8"/>
<path d="M487.5,511.2 L494.6,510.9 L500.7,517.5 L518.1,517.5 L518.1,525.7 L496.7,526.7 L491.0,521.6 L487.5,517.0Z" fill="#b0dde9"/>
<path d="M488.0,511.9 L495.6,511.9 L500.7,518.5 L517.1,519.1 L517.1,524.7 L496.7,524.7 L491.5,520.6 L488.0,516.5Z" fill="#78aed3"/>
<path d="M489.5,513.4 L495.6,514.5 L499.7,519.6 L506.9,520.1 L506.9,522.6 L499.7,522.6 L492.6,519.6 L489.5,516.5Z" fill="#4a7bbb"/>
<path d="M501.8,523.7 L505.9,523.7 L505.9,525.7 L501.8,525.7Z M582.5,493.0 L606.0,493.0 L606.0,501.7 L593.2,501.7 L593.2,503.2 L582.5,503.2Z" fill="#f1df90"/>
<path d="M596.3,497.6 L606.0,497.6 L606.0,499.9 L596.3,499.9Z" fill="#e2f3f8"/>
<path d="M536.0,500.2 L556.4,500.2 L556.4,502.2 L581.0,502.2 L581.0,503.2 L606.0,502.2 L606.0,516.5 L603.4,516.5 L603.4,512.4 L594.2,512.4 L594.2,510.4 L572.8,510.4 L572.8,513.4 L556.4,513.4 L556.4,518.5 L551.3,522.6 L543.2,522.6 L541.1,517.5 L536.0,516.5Z" fill="#e96c44"/>
<path d="M536.0,502.2 L572.8,502.2 L572.8,510.4 L563.6,510.4 L556.4,508.3 L546.2,508.3 L536.0,508.8Z" fill="#d83b2c"/>
<path d="M536.0,504.8 L542.1,503.2 L548.3,504.2 L568.7,504.8 L568.7,507.3 L556.4,507.3 L549.3,508.8 L536.0,508.3Z" fill="#a81d2d"/>
<path d="M606.0,493.0 L676.0,493.0 L676.0,506.8 L667.3,506.8 L667.3,500.7 L666.3,499.6 L631.5,499.1 L631.5,500.2 L618.3,500.7 L618.3,502.7 L606.0,502.7Z" fill="#f1df90"/>
<path d="M606.0,497.6 L617.2,497.6 L617.2,500.2 L606.0,500.2Z" fill="#e2f3f8"/>
<path d="M606.0,502.7 L639.7,502.7 L644.8,507.3 L649.9,510.4 L654.0,513.9 L676.0,513.9 L676.0,518.5 L663.2,521.6 L659.1,527.7 L667.3,528.3 L667.3,530.3 L649.9,531.8 L642.8,528.8 L636.7,522.1 L636.7,517.5 L631.5,518.5 L631.5,523.7 L626.4,526.7 L617.2,526.7 L617.2,523.7 L620.3,520.1 L610.1,518.5 L606.0,516.5Z" fill="#e96c44"/>
<path d="M635.6,513.9 L643.8,513.9 L643.8,518.5 L635.6,519.6Z" fill="#eeab60"/>
<path d="M631.0,525.7 L633.1,525.7 L633.1,527.2 L631.0,527.2Z" fill="#e96c44"/>
<path d="M643.8,540.0 L646.9,535.9 L661.2,533.9 L662.2,531.8 L676.0,531.8 L676.0,538.0 L655.1,541.0 L643.8,541.5Z M414.9,550.0 L435.9,550.0 L435.9,551.2 L414.9,551.2Z M403.7,551.0 L429.7,551.0 L429.7,553.1 L403.7,553.1Z M396.0,553.1 L429.7,553.1 L429.7,555.6 L396.0,555.6Z M396.0,555.6 L412.9,555.6 L412.9,558.2 L396.0,558.2Z M431.8,555.6 L450.2,555.6 L450.2,558.2 L431.8,558.2Z M438.9,558.0 L459.4,558.0 L459.4,560.2 L438.9,560.2Z M461.9,560.2 L466.0,560.2 L466.0,563.3 L461.9,563.3Z M396.0,566.9 L406.2,566.9 L406.2,569.9 L396.0,569.9Z M422.6,566.9 L429.2,566.9 L429.2,569.4 L422.6,569.4Z M396.0,569.7 L412.9,569.7 L412.9,574.2 L396.0,574.2Z M403.7,574.0 L423.1,574.0 L423.1,577.3 L403.7,577.3Z M403.7,577.1 L429.7,577.1 L429.7,580.9 L403.7,580.9Z M429.7,579.1 L441.0,579.1 L441.0,580.9 L429.7,580.9Z M396.0,580.7 L466.0,580.7 L466.0,586.0 L396.0,586.0Z M408.3,585.8 L466.0,585.8 L466.0,588.5 L408.3,588.5Z M417.5,588.3 L446.1,588.3 L446.1,592.1 L417.5,592.1Z M412.9,591.9 L450.2,591.9 L450.2,595.2 L412.9,595.2Z M406.2,595.0 L411.3,595.0 L411.3,597.2 L406.2,597.2Z M415.4,595.0 L457.3,595.0 L457.3,597.2 L415.4,597.2Z M415.4,597.0 L466.0,597.0 L466.0,601.8 L415.4,601.8Z M396.0,601.6 L409.3,601.6 L409.3,607.4 L396.0,607.4Z M421.5,601.6 L466.0,601.6 L466.0,607.4 L421.5,607.4Z M396.0,607.2 L406.2,607.2 L406.2,610.3 L396.0,610.3Z M428.7,607.2 L466.0,607.2 L466.0,610.3 L428.7,610.3Z M466.0,570.4 L536.0,570.4 L536.0,610.3 L466.0,610.3Z" fill="#f1df90"/>
<path d="M466.0,550.0 L536.0,550.0 L536.0,579.6 L531.4,576.6 L529.4,573.5 L523.2,572.0 L521.2,569.9 L515.1,572.0 L506.9,572.0 L505.9,573.5 L496.7,574.5 L491.5,573.0 L491.5,569.9 L485.4,569.9 L485.9,574.5 L485.4,579.6 L486.4,585.8 L485.4,591.9 L482.9,593.9 L479.3,593.9 L476.2,591.9 L474.2,587.8 L469.1,580.7 L466.0,580.7Z M506.9,585.8 L517.1,586.3 L530.4,587.8 L536.0,589.9 L536.0,601.1 L523.2,600.1 L515.1,598.0 L509.9,593.9 L506.9,592.9Z M466.0,592.9 L469.1,592.9 L469.1,597.5 L466.0,597.5Z M496.7,574.5 L500.7,574.5 L500.7,576.6 L496.7,576.6Z M492.1,579.1 L496.7,579.1 L496.7,583.7 L492.1,583.7Z M496.7,587.8 L500.7,587.8 L500.7,592.9 L496.7,592.9Z M498.7,580.7 L502.8,580.7 L502.8,582.7 L498.7,582.7Z" fill="#eeab60"/>
<path d="M466.0,559.7 L473.2,559.7 L473.2,562.8 L466.0,562.8Z M478.3,550.0 L502.8,550.0 L502.8,551.0 L478.3,551.0Z" fill="#f1df90"/>
<path d="M496.7,604.2 L505.9,604.2 L505.9,607.7 L496.7,607.7Z M489.5,607.2 L496.7,607.2 L496.7,610.3 L489.5,610.3Z M531.4,607.2 L536.0,607.2 L536.0,610.3 L531.4,610.3Z" fill="#e2f3f8"/>
<path d="M555.4,551.5 L563.6,551.5 L563.6,557.7 L555.4,557.7Z M543.2,556.1 L547.2,556.1 L547.2,558.2 L543.2,558.2Z M596.3,560.2 L606.0,560.2 L606.0,564.3 L596.3,564.3Z M601.4,574.5 L606.0,574.5 L606.0,580.7 L601.4,580.7Z M536.0,578.6 L541.1,578.6 L541.1,585.8 L536.0,585.8Z M540.1,584.7 L550.3,584.7 L550.3,589.9 L540.1,589.9Z M536.0,587.8 L538.0,587.8 L538.0,589.9 L536.0,589.9Z M543.2,566.9 L546.2,566.9 L546.2,571.5 L543.2,571.5Z M559.5,576.6 L566.7,574.5 L570.7,573.5 L574.8,573.5 L574.8,580.7 L587.1,581.2 L587.1,583.7 L575.9,583.7 L575.9,587.8 L583.0,589.3 L584.5,592.4 L550.3,592.4 L550.3,589.9 L556.4,588.8 L560.5,584.7Z M536.0,600.1 L554.9,600.1 L554.9,601.6 L606.0,601.6 L606.0,610.3 L536.0,610.3Z" fill="#f1df90"/>
<path d="M541.1,604.2 L559.0,604.2 L559.0,610.3 L541.1,610.3Z M589.1,604.2 L606.0,604.2 L606.0,607.7 L589.1,607.7Z" fill="#e2f3f8"/>
<path d="M624.4,555.6 L631.5,555.6 L636.7,559.2 L642.8,562.3 L642.8,567.4 L635.6,567.4 L631.5,570.4 L623.4,570.4 L621.3,563.3Z M652.0,555.6 L664.2,555.6 L664.2,553.6 L676.0,553.6 L676.0,558.2 L665.3,558.2 L665.3,560.2 L652.0,558.2Z M649.9,567.4 L659.1,567.4 L667.3,566.4 L676.0,565.3 L676.0,574.5 L665.3,574.5 L665.3,580.7 L676.0,580.7 L676.0,585.8 L670.4,586.8 L670.4,599.1 L676.0,599.1 L676.0,610.3 L606.0,610.3 L606.0,601.1 L618.3,601.1 L618.3,595.0 L628.5,595.0 L628.5,591.9 L643.8,590.9 L646.9,592.9 L652.0,590.9 L654.0,583.7 L654.0,577.6 L649.9,573.5Z M606.0,563.3 L612.1,563.3 L612.1,566.4 L606.0,566.4Z M606.0,574.5 L609.1,574.5 L612.1,578.6 L619.3,580.7 L624.4,582.7 L629.5,585.8 L629.5,590.9 L621.3,589.9 L612.1,585.8 L606.0,581.7Z" fill="#f1df90"/>
<path d="M648.9,592.9 L654.0,592.9 L654.0,597.0 L648.9,597.0Z M606.0,604.2 L608.0,604.2 L608.0,607.2 L606.0,607.2Z" fill="#e2f3f8"/>
<path d="M489.0,512.4 L495.6,512.4 L500.7,518.0 L517.1,518.5 L517.1,529.8 L507.9,529.8 L506.9,523.7 L496.7,523.7 L491.5,520.1 L489.0,516.5Z M446.1,572.5 L463.4,572.5 L463.4,578.1 L446.1,578.1Z M411.3,602.6 L421.5,602.6 L421.5,606.0 L411.3,606.0Z M653.0,607.2 L672.4,607.2 L672.4,608.9 L653.0,608.9Z" fill="url(#stip)"/>
<use href="#coast" transform="translate(396.80 493.20) scale(1.0007 0.9974)" fill="none" stroke="#6b7280" stroke-width="0.8" stroke-linejoin="round"/>
</g>
<rect x="396.80" y="493.20" width="278.20" height="115.70" fill="none" stroke="#3a3a3a" stroke-width="1"/>
<path d="M393.30,493.20 H396.80 M675.00,493.20 H678.50 M393.30,516.34 H396.80 M675.00,516.34 H678.50 M393.30,539.48 H396.80 M675.00,539.48 H678.50 M393.30,562.62 H396.80 M675.00,562.62 H678.50 M393.30,585.76 H396.80 M675.00,585.76 H678.50 M393.30,608.90 H396.80 M675.00,608.90 H678.50 M396.80,608.90 V612.40 M396.80,489.70 V493.20 M443.17,608.90 V612.40 M443.17,489.70 V493.20 M489.53,608.90 V612.40 M489.53,489.70 V493.20 M535.90,608.90 V612.40 M535.90,489.70 V493.20 M582.27,608.90 V612.40 M582.27,489.70 V493.20 M628.63,608.90 V612.40 M628.63,489.70 V493.20 M675.00,608.90 V612.40 M675.00,489.70 V493.20" stroke="#3a3a3a" stroke-width="1" fill="none"/>
<text x="392.10" y="496.40" font-size="8.76" text-anchor="end" fill="#262626" textLength="21.43" lengthAdjust="spacingAndGlyphs">90°N</text>
<text x="392.10" y="519.54" font-size="8.76" text-anchor="end" fill="#262626" textLength="21.43" lengthAdjust="spacingAndGlyphs">60°N</text>
<text x="392.10" y="542.68" font-size="8.76" text-anchor="end" fill="#262626" textLength="21.43" lengthAdjust="spacingAndGlyphs">30°N</text>
<text x="392.10" y="565.82" font-size="8.76" text-anchor="end" fill="#262626" textLength="9.66" lengthAdjust="spacingAndGlyphs">0°</text>
<text x="392.10" y="588.96" font-size="8.76" text-anchor="end" fill="#262626" textLength="20.46" lengthAdjust="spacingAndGlyphs">30°S</text>
<text x="392.10" y="612.10" font-size="8.76" text-anchor="end" fill="#262626" textLength="20.46" lengthAdjust="spacingAndGlyphs">60°S</text>
<text x="396.80" y="621.50" font-size="8.76" text-anchor="middle" fill="#262626" textLength="20.47" lengthAdjust="spacingAndGlyphs">180°</text>
<text x="443.17" y="621.50" font-size="8.76" text-anchor="middle" fill="#262626" textLength="28.88" lengthAdjust="spacingAndGlyphs">120°W</text>
<text x="489.53" y="621.50" font-size="8.76" text-anchor="middle" fill="#262626" textLength="23.47" lengthAdjust="spacingAndGlyphs">60°W</text>
<text x="535.90" y="621.50" font-size="8.76" text-anchor="middle" fill="#262626" textLength="9.66" lengthAdjust="spacingAndGlyphs">0°</text>
<text x="582.27" y="621.50" font-size="8.76" text-anchor="middle" fill="#262626" textLength="20.44" lengthAdjust="spacingAndGlyphs">60°E</text>
<text x="628.63" y="621.50" font-size="8.76" text-anchor="middle" fill="#262626" textLength="25.85" lengthAdjust="spacingAndGlyphs">120°E</text>
<text x="675.00" y="621.50" font-size="8.76" text-anchor="middle" fill="#262626" textLength="20.47" lengthAdjust="spacingAndGlyphs">180°</text>
<text x="535.90" y="633.30" font-size="11.33" text-anchor="middle" fill="#262626" textLength="54.71" lengthAdjust="spacingAndGlyphs">Longitude</text>
<text x="367.50" y="551.05" font-size="11.33" text-anchor="middle" fill="#262626" textLength="45.27" lengthAdjust="spacingAndGlyphs" transform="rotate(-90 367.50 551.05)">Latitude</text>
<text x="354.50" y="485.20" font-size="20.5" fill="#000">f</text>
<rect x="396.60" y="647.30" width="28.14" height="10.30" fill="#323894"/>
<rect x="424.44" y="647.30" width="28.14" height="10.30" fill="#4a7bbb"/>
<rect x="452.28" y="647.30" width="28.14" height="10.30" fill="#78aed3"/>
<rect x="480.12" y="647.30" width="28.14" height="10.30" fill="#b0dde9"/>
<rect x="507.96" y="647.30" width="28.14" height="10.30" fill="#e3f4f8"/>
<rect x="535.80" y="647.30" width="28.14" height="10.30" fill="#f2e092"/>
<rect x="563.64" y="647.30" width="28.14" height="10.30" fill="#f0a95f"/>
<rect x="591.48" y="647.30" width="28.14" height="10.30" fill="#ea6d45"/>
<rect x="619.32" y="647.30" width="28.14" height="10.30" fill="#d83a2b"/>
<rect x="647.16" y="647.30" width="28.14" height="10.30" fill="#a31b2c"/>
<path d="M424.44,655.60 V657.60 M452.28,655.60 V657.60 M480.12,655.60 V657.60 M507.96,655.60 V657.60 M535.80,655.60 V657.60 M563.64,655.60 V657.60 M591.48,655.60 V657.60 M619.32,655.60 V657.60 M647.16,655.60 V657.60" stroke="#222" stroke-width="0.8"/>
<rect x="396.60" y="647.30" width="278.40" height="10.30" fill="none" stroke="#222" stroke-width="0.8"/>
<text x="424.44" y="669.90" font-size="8.24" text-anchor="middle" fill="#262626" textLength="25.79" lengthAdjust="spacingAndGlyphs">-0.007</text>
<text x="452.28" y="669.90" font-size="8.24" text-anchor="middle" fill="#262626" textLength="25.79" lengthAdjust="spacingAndGlyphs">-0.005</text>
<text x="480.12" y="669.90" font-size="8.24" text-anchor="middle" fill="#262626" textLength="25.79" lengthAdjust="spacingAndGlyphs">-0.003</text>
<text x="507.96" y="669.90" font-size="8.24" text-anchor="middle" fill="#262626" textLength="25.79" lengthAdjust="spacingAndGlyphs">-0.001</text>
<text x="529.40" y="669.90" font-size="8.24" text-anchor="middle" fill="#262626" textLength="5.09" lengthAdjust="spacingAndGlyphs">0</text>
<text x="562.25" y="669.90" font-size="8.24" text-anchor="middle" fill="#262626" textLength="22.90" lengthAdjust="spacingAndGlyphs">0.001</text>
<text x="591.48" y="669.90" font-size="8.24" text-anchor="middle" fill="#262626" textLength="22.90" lengthAdjust="spacingAndGlyphs">0.003</text>
<text x="619.32" y="669.90" font-size="8.24" text-anchor="middle" fill="#262626" textLength="22.90" lengthAdjust="spacingAndGlyphs">0.005</text>
<text x="647.16" y="669.90" font-size="8.24" text-anchor="middle" fill="#262626" textLength="22.90" lengthAdjust="spacingAndGlyphs">0.007</text>
<text x="535.80" y="682.80" font-size="11.33" text-anchor="middle" fill="#262626" textLength="205.34" lengthAdjust="spacingAndGlyphs">Biochemical temperature effects (°C)</text></svg></body></html>
